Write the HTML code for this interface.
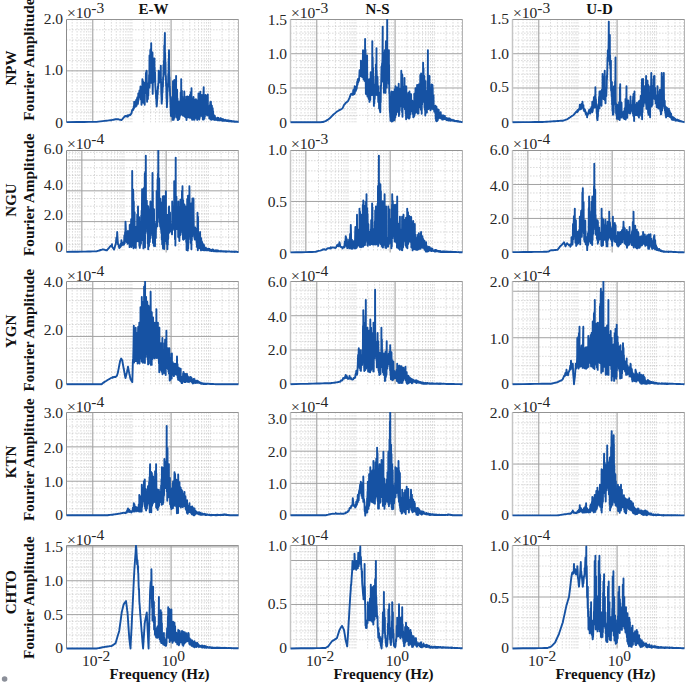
<!DOCTYPE html>
<html><head><meta charset="utf-8"><style>
html,body{margin:0;padding:0;background:#fff;width:685px;height:684px;overflow:hidden}
svg{display:block}
.tk{font-family:"Liberation Serif",serif;font-size:15.5px;fill:#262626}
.bd{font-family:"Liberation Serif",serif;font-size:15px;font-weight:bold;fill:#111}
</style></head><body>
<svg width="685" height="684" viewBox="0 0 685 684">
<rect width="685" height="684" fill="#fff"/>
<path d="M72.20 19.5V122.2M77.10 19.5V122.2M80.90 19.5V122.2M84.00 19.5V122.2M86.63 19.5V122.2M88.90 19.5V122.2M90.91 19.5V122.2M104.50 19.5V122.2M111.40 19.5V122.2M116.30 19.5V122.2M120.10 19.5V122.2M123.20 19.5V122.2M125.83 19.5V122.2M128.10 19.5V122.2M130.11 19.5V122.2M131.90 19.5V122.2M143.70 19.5V122.2M150.60 19.5V122.2M155.50 19.5V122.2M159.30 19.5V122.2M162.40 19.5V122.2M165.03 19.5V122.2M167.30 19.5V122.2M169.31 19.5V122.2M182.90 19.5V122.2M189.80 19.5V122.2M194.70 19.5V122.2M198.50 19.5V122.2M201.60 19.5V122.2M204.23 19.5V122.2M206.50 19.5V122.2M208.51 19.5V122.2M210.30 19.5V122.2M222.10 19.5V122.2M229.00 19.5V122.2M233.90 19.5V122.2M237.70 19.5V122.2M66.5 111.93H238.5M66.5 101.66H238.5M66.5 91.39H238.5M66.5 81.12H238.5M66.5 60.58H238.5M66.5 50.31H238.5M66.5 40.04H238.5M66.5 29.77H238.5" stroke="#9a9a9a" stroke-width="0.7" stroke-dasharray="0.8 2.2" fill="none"/>
<path d="M92.70 19.5V122.2M171.10 19.5V122.2" stroke="#b6b6b6" stroke-width="1.4" fill="none"/>
<path d="M66.5 70.85H238.5" stroke="#a2a2a2" stroke-width="1" fill="none"/>
<path d="M238.5 122.2V19.5" stroke="#b4b4b4" stroke-width="1" fill="none"/>
<path d="M66.5 122.2V19.5" stroke="#8a8a8a" stroke-width="1" fill="none"/>
<path d="M66.5 19.5H238.5" stroke="#939393" stroke-width="1" fill="none"/>
<path d="M296.20 19.5V122.2M301.10 19.5V122.2M304.90 19.5V122.2M308.00 19.5V122.2M310.63 19.5V122.2M312.90 19.5V122.2M314.91 19.5V122.2M328.50 19.5V122.2M335.40 19.5V122.2M340.30 19.5V122.2M344.10 19.5V122.2M347.20 19.5V122.2M349.83 19.5V122.2M352.10 19.5V122.2M354.11 19.5V122.2M355.90 19.5V122.2M367.70 19.5V122.2M374.60 19.5V122.2M379.50 19.5V122.2M383.30 19.5V122.2M386.40 19.5V122.2M389.03 19.5V122.2M391.30 19.5V122.2M393.31 19.5V122.2M406.90 19.5V122.2M413.80 19.5V122.2M418.70 19.5V122.2M422.50 19.5V122.2M425.60 19.5V122.2M428.23 19.5V122.2M430.50 19.5V122.2M432.51 19.5V122.2M434.30 19.5V122.2M446.10 19.5V122.2M453.00 19.5V122.2M457.90 19.5V122.2M461.70 19.5V122.2M290.5 115.35H462.5M290.5 108.51H462.5M290.5 101.66H462.5M290.5 94.81H462.5M290.5 81.12H462.5M290.5 74.27H462.5M290.5 67.43H462.5M290.5 60.58H462.5M290.5 46.89H462.5M290.5 40.04H462.5M290.5 33.19H462.5M290.5 26.35H462.5" stroke="#9a9a9a" stroke-width="0.7" stroke-dasharray="0.8 2.2" fill="none"/>
<path d="M316.70 19.5V122.2M395.10 19.5V122.2" stroke="#b6b6b6" stroke-width="1.4" fill="none"/>
<path d="M290.5 87.97H462.5M290.5 53.73H462.5" stroke="#a2a2a2" stroke-width="1" fill="none"/>
<path d="M462.5 122.2V19.5" stroke="#b4b4b4" stroke-width="1" fill="none"/>
<path d="M290.5 122.2V19.5" stroke="#c4c4c4" stroke-width="1.5" fill="none"/>
<path d="M290.5 19.5H462.5" stroke="#939393" stroke-width="1" fill="none"/>
<path d="M518.20 19.5V122.2M523.10 19.5V122.2M526.90 19.5V122.2M530.00 19.5V122.2M532.63 19.5V122.2M534.90 19.5V122.2M536.91 19.5V122.2M550.50 19.5V122.2M557.40 19.5V122.2M562.30 19.5V122.2M566.10 19.5V122.2M569.20 19.5V122.2M571.83 19.5V122.2M574.10 19.5V122.2M576.11 19.5V122.2M577.90 19.5V122.2M589.70 19.5V122.2M596.60 19.5V122.2M601.50 19.5V122.2M605.30 19.5V122.2M608.40 19.5V122.2M611.03 19.5V122.2M613.30 19.5V122.2M615.31 19.5V122.2M628.90 19.5V122.2M635.80 19.5V122.2M640.70 19.5V122.2M644.50 19.5V122.2M647.60 19.5V122.2M650.23 19.5V122.2M652.50 19.5V122.2M654.51 19.5V122.2M656.30 19.5V122.2M668.10 19.5V122.2M675.00 19.5V122.2M679.90 19.5V122.2M683.70 19.5V122.2M512.5 115.35H684.5M512.5 108.51H684.5M512.5 101.66H684.5M512.5 94.81H684.5M512.5 81.12H684.5M512.5 74.27H684.5M512.5 67.43H684.5M512.5 60.58H684.5M512.5 46.89H684.5M512.5 40.04H684.5M512.5 33.19H684.5M512.5 26.35H684.5" stroke="#9a9a9a" stroke-width="0.7" stroke-dasharray="0.8 2.2" fill="none"/>
<path d="M538.70 19.5V122.2M617.10 19.5V122.2" stroke="#b6b6b6" stroke-width="1.4" fill="none"/>
<path d="M512.5 87.97H684.5M512.5 53.73H684.5" stroke="#a2a2a2" stroke-width="1" fill="none"/>
<path d="M684.5 122.2V19.5" stroke="#b4b4b4" stroke-width="1" fill="none"/>
<path d="M512.5 122.2V19.5" stroke="#c4c4c4" stroke-width="1.5" fill="none"/>
<path d="M512.5 19.5H684.5" stroke="#939393" stroke-width="1" fill="none"/>
<path d="M69.10 150.5V252.4M72.44 150.5V252.4M75.26 150.5V252.4M77.71 150.5V252.4M79.87 150.5V252.4M94.50 150.5V252.4M101.93 150.5V252.4M107.21 150.5V252.4M111.30 150.5V252.4M114.64 150.5V252.4M117.46 150.5V252.4M119.91 150.5V252.4M122.07 150.5V252.4M124.00 150.5V252.4M136.70 150.5V252.4M144.13 150.5V252.4M149.41 150.5V252.4M153.50 150.5V252.4M156.84 150.5V252.4M159.66 150.5V252.4M162.11 150.5V252.4M164.27 150.5V252.4M178.90 150.5V252.4M186.33 150.5V252.4M191.61 150.5V252.4M195.70 150.5V252.4M199.04 150.5V252.4M201.86 150.5V252.4M204.31 150.5V252.4M206.47 150.5V252.4M208.40 150.5V252.4M221.10 150.5V252.4M228.53 150.5V252.4M233.81 150.5V252.4M237.90 150.5V252.4M66.5 244.70H238.5M66.5 237.01H238.5M66.5 229.31H238.5M66.5 213.92H238.5M66.5 206.22H238.5M66.5 198.53H238.5M66.5 183.13H238.5M66.5 175.44H238.5M66.5 167.74H238.5M66.5 152.35H238.5" stroke="#9a9a9a" stroke-width="0.7" stroke-dasharray="0.8 2.2" fill="none"/>
<path d="M81.80 150.5V252.4M166.20 150.5V252.4" stroke="#b6b6b6" stroke-width="1.4" fill="none"/>
<path d="M66.5 221.61H238.5M66.5 190.83H238.5M66.5 160.04H238.5" stroke="#a2a2a2" stroke-width="1" fill="none"/>
<path d="M238.5 252.4V150.5" stroke="#b4b4b4" stroke-width="1" fill="none"/>
<path d="M66.5 252.4V150.5" stroke="#8a8a8a" stroke-width="1" fill="none"/>
<path d="M66.5 150.5H238.5" stroke="#939393" stroke-width="1" fill="none"/>
<path d="M293.10 150.5V252.4M296.44 150.5V252.4M299.26 150.5V252.4M301.71 150.5V252.4M303.87 150.5V252.4M318.50 150.5V252.4M325.93 150.5V252.4M331.21 150.5V252.4M335.30 150.5V252.4M338.64 150.5V252.4M341.46 150.5V252.4M343.91 150.5V252.4M346.07 150.5V252.4M348.00 150.5V252.4M360.70 150.5V252.4M368.13 150.5V252.4M373.41 150.5V252.4M377.50 150.5V252.4M380.84 150.5V252.4M383.66 150.5V252.4M386.11 150.5V252.4M388.27 150.5V252.4M402.90 150.5V252.4M410.33 150.5V252.4M415.61 150.5V252.4M419.70 150.5V252.4M423.04 150.5V252.4M425.86 150.5V252.4M428.31 150.5V252.4M430.47 150.5V252.4M432.40 150.5V252.4M445.10 150.5V252.4M452.53 150.5V252.4M457.81 150.5V252.4M461.90 150.5V252.4M290.5 242.21H462.5M290.5 232.02H462.5M290.5 221.83H462.5M290.5 211.64H462.5M290.5 191.26H462.5M290.5 181.07H462.5M290.5 170.88H462.5M290.5 160.69H462.5" stroke="#9a9a9a" stroke-width="0.7" stroke-dasharray="0.8 2.2" fill="none"/>
<path d="M305.80 150.5V252.4M390.20 150.5V252.4" stroke="#b6b6b6" stroke-width="1.4" fill="none"/>
<path d="M290.5 201.45H462.5" stroke="#a2a2a2" stroke-width="1" fill="none"/>
<path d="M462.5 252.4V150.5" stroke="#b4b4b4" stroke-width="1" fill="none"/>
<path d="M290.5 252.4V150.5" stroke="#c4c4c4" stroke-width="1.5" fill="none"/>
<path d="M290.5 150.5H462.5" stroke="#939393" stroke-width="1" fill="none"/>
<path d="M515.10 150.5V252.4M518.44 150.5V252.4M521.26 150.5V252.4M523.71 150.5V252.4M525.87 150.5V252.4M540.50 150.5V252.4M547.93 150.5V252.4M553.21 150.5V252.4M557.30 150.5V252.4M560.64 150.5V252.4M563.46 150.5V252.4M565.91 150.5V252.4M568.07 150.5V252.4M570.00 150.5V252.4M582.70 150.5V252.4M590.13 150.5V252.4M595.41 150.5V252.4M599.50 150.5V252.4M602.84 150.5V252.4M605.66 150.5V252.4M608.11 150.5V252.4M610.27 150.5V252.4M624.90 150.5V252.4M632.33 150.5V252.4M637.61 150.5V252.4M641.70 150.5V252.4M645.04 150.5V252.4M647.86 150.5V252.4M650.31 150.5V252.4M652.47 150.5V252.4M654.40 150.5V252.4M667.10 150.5V252.4M674.53 150.5V252.4M679.81 150.5V252.4M683.90 150.5V252.4M512.5 243.91H684.5M512.5 235.42H684.5M512.5 226.93H684.5M512.5 209.94H684.5M512.5 201.45H684.5M512.5 192.96H684.5M512.5 175.97H684.5M512.5 167.48H684.5M512.5 158.99H684.5" stroke="#9a9a9a" stroke-width="0.7" stroke-dasharray="0.8 2.2" fill="none"/>
<path d="M527.80 150.5V252.4M612.20 150.5V252.4" stroke="#b6b6b6" stroke-width="1.4" fill="none"/>
<path d="M512.5 218.43H684.5M512.5 184.47H684.5" stroke="#a2a2a2" stroke-width="1" fill="none"/>
<path d="M684.5 252.4V150.5" stroke="#b4b4b4" stroke-width="1" fill="none"/>
<path d="M512.5 252.4V150.5" stroke="#c4c4c4" stroke-width="1.5" fill="none"/>
<path d="M512.5 150.5H684.5" stroke="#939393" stroke-width="1" fill="none"/>
<path d="M72.20 281.5V384.2M77.10 281.5V384.2M80.90 281.5V384.2M84.00 281.5V384.2M86.63 281.5V384.2M88.90 281.5V384.2M90.91 281.5V384.2M104.50 281.5V384.2M111.40 281.5V384.2M116.30 281.5V384.2M120.10 281.5V384.2M123.20 281.5V384.2M125.83 281.5V384.2M128.10 281.5V384.2M130.11 281.5V384.2M131.90 281.5V384.2M143.70 281.5V384.2M150.60 281.5V384.2M155.50 281.5V384.2M159.30 281.5V384.2M162.40 281.5V384.2M165.03 281.5V384.2M167.30 281.5V384.2M169.31 281.5V384.2M182.90 281.5V384.2M189.80 281.5V384.2M194.70 281.5V384.2M198.50 281.5V384.2M201.60 281.5V384.2M204.23 281.5V384.2M206.50 281.5V384.2M208.51 281.5V384.2M210.30 281.5V384.2M222.10 281.5V384.2M229.00 281.5V384.2M233.90 281.5V384.2M237.70 281.5V384.2M66.5 372.26H238.5M66.5 360.32H238.5M66.5 348.37H238.5M66.5 324.49H238.5M66.5 312.55H238.5M66.5 300.61H238.5" stroke="#9a9a9a" stroke-width="0.7" stroke-dasharray="0.8 2.2" fill="none"/>
<path d="M92.70 281.5V384.2M171.10 281.5V384.2" stroke="#b6b6b6" stroke-width="1.4" fill="none"/>
<path d="M66.5 336.43H238.5M66.5 288.67H238.5" stroke="#a2a2a2" stroke-width="1" fill="none"/>
<path d="M238.5 384.2V281.5" stroke="#b4b4b4" stroke-width="1" fill="none"/>
<path d="M66.5 384.2V281.5" stroke="#8a8a8a" stroke-width="1" fill="none"/>
<path d="M66.5 281.5H238.5" stroke="#939393" stroke-width="1" fill="none"/>
<path d="M296.20 281.5V384.2M301.10 281.5V384.2M304.90 281.5V384.2M308.00 281.5V384.2M310.63 281.5V384.2M312.90 281.5V384.2M314.91 281.5V384.2M328.50 281.5V384.2M335.40 281.5V384.2M340.30 281.5V384.2M344.10 281.5V384.2M347.20 281.5V384.2M349.83 281.5V384.2M352.10 281.5V384.2M354.11 281.5V384.2M355.90 281.5V384.2M367.70 281.5V384.2M374.60 281.5V384.2M379.50 281.5V384.2M383.30 281.5V384.2M386.40 281.5V384.2M389.03 281.5V384.2M391.30 281.5V384.2M393.31 281.5V384.2M406.90 281.5V384.2M413.80 281.5V384.2M418.70 281.5V384.2M422.50 281.5V384.2M425.60 281.5V384.2M428.23 281.5V384.2M430.50 281.5V384.2M432.51 281.5V384.2M434.30 281.5V384.2M446.10 281.5V384.2M453.00 281.5V384.2M457.90 281.5V384.2M461.70 281.5V384.2M290.5 375.64H462.5M290.5 367.08H462.5M290.5 358.52H462.5M290.5 341.41H462.5M290.5 332.85H462.5M290.5 324.29H462.5M290.5 307.18H462.5M290.5 298.62H462.5M290.5 290.06H462.5" stroke="#9a9a9a" stroke-width="0.7" stroke-dasharray="0.8 2.2" fill="none"/>
<path d="M316.70 281.5V384.2M395.10 281.5V384.2" stroke="#b6b6b6" stroke-width="1.4" fill="none"/>
<path d="M290.5 349.97H462.5M290.5 315.73H462.5" stroke="#a2a2a2" stroke-width="1" fill="none"/>
<path d="M462.5 384.2V281.5" stroke="#b4b4b4" stroke-width="1" fill="none"/>
<path d="M290.5 384.2V281.5" stroke="#c4c4c4" stroke-width="1.5" fill="none"/>
<path d="M290.5 281.5H462.5" stroke="#939393" stroke-width="1" fill="none"/>
<path d="M518.20 281.5V384.2M523.10 281.5V384.2M526.90 281.5V384.2M530.00 281.5V384.2M532.63 281.5V384.2M534.90 281.5V384.2M536.91 281.5V384.2M550.50 281.5V384.2M557.40 281.5V384.2M562.30 281.5V384.2M566.10 281.5V384.2M569.20 281.5V384.2M571.83 281.5V384.2M574.10 281.5V384.2M576.11 281.5V384.2M577.90 281.5V384.2M589.70 281.5V384.2M596.60 281.5V384.2M601.50 281.5V384.2M605.30 281.5V384.2M608.40 281.5V384.2M611.03 281.5V384.2M613.30 281.5V384.2M615.31 281.5V384.2M628.90 281.5V384.2M635.80 281.5V384.2M640.70 281.5V384.2M644.50 281.5V384.2M647.60 281.5V384.2M650.23 281.5V384.2M652.50 281.5V384.2M654.51 281.5V384.2M656.30 281.5V384.2M668.10 281.5V384.2M675.00 281.5V384.2M679.90 281.5V384.2M683.70 281.5V384.2M512.5 374.91H684.5M512.5 365.61H684.5M512.5 356.32H684.5M512.5 347.02H684.5M512.5 328.44H684.5M512.5 319.14H684.5M512.5 309.85H684.5M512.5 300.55H684.5M512.5 281.96H684.5" stroke="#9a9a9a" stroke-width="0.7" stroke-dasharray="0.8 2.2" fill="none"/>
<path d="M538.70 281.5V384.2M617.10 281.5V384.2" stroke="#b6b6b6" stroke-width="1.4" fill="none"/>
<path d="M512.5 337.73H684.5M512.5 291.26H684.5" stroke="#a2a2a2" stroke-width="1" fill="none"/>
<path d="M684.5 384.2V281.5" stroke="#b4b4b4" stroke-width="1" fill="none"/>
<path d="M512.5 384.2V281.5" stroke="#c4c4c4" stroke-width="1.5" fill="none"/>
<path d="M512.5 281.5H684.5" stroke="#939393" stroke-width="1" fill="none"/>
<path d="M72.20 412.5V515.6M77.10 412.5V515.6M80.90 412.5V515.6M84.00 412.5V515.6M86.63 412.5V515.6M88.90 412.5V515.6M90.91 412.5V515.6M104.50 412.5V515.6M111.40 412.5V515.6M116.30 412.5V515.6M120.10 412.5V515.6M123.20 412.5V515.6M125.83 412.5V515.6M128.10 412.5V515.6M130.11 412.5V515.6M131.90 412.5V515.6M143.70 412.5V515.6M150.60 412.5V515.6M155.50 412.5V515.6M159.30 412.5V515.6M162.40 412.5V515.6M165.03 412.5V515.6M167.30 412.5V515.6M169.31 412.5V515.6M182.90 412.5V515.6M189.80 412.5V515.6M194.70 412.5V515.6M198.50 412.5V515.6M201.60 412.5V515.6M204.23 412.5V515.6M206.50 412.5V515.6M208.51 412.5V515.6M210.30 412.5V515.6M222.10 412.5V515.6M229.00 412.5V515.6M233.90 412.5V515.6M237.70 412.5V515.6M66.5 508.73H238.5M66.5 501.85H238.5M66.5 494.98H238.5M66.5 488.11H238.5M66.5 474.36H238.5M66.5 467.49H238.5M66.5 460.61H238.5M66.5 453.74H238.5M66.5 439.99H238.5M66.5 433.12H238.5M66.5 426.25H238.5M66.5 419.37H238.5" stroke="#9a9a9a" stroke-width="0.7" stroke-dasharray="0.8 2.2" fill="none"/>
<path d="M92.70 412.5V515.6M171.10 412.5V515.6" stroke="#b6b6b6" stroke-width="1.4" fill="none"/>
<path d="M66.5 481.23H238.5M66.5 446.87H238.5" stroke="#a2a2a2" stroke-width="1" fill="none"/>
<path d="M238.5 515.6V412.5" stroke="#b4b4b4" stroke-width="1" fill="none"/>
<path d="M66.5 515.6V412.5" stroke="#8a8a8a" stroke-width="1" fill="none"/>
<path d="M66.5 412.5H238.5" stroke="#939393" stroke-width="1" fill="none"/>
<path d="M296.20 412.5V515.6M301.10 412.5V515.6M304.90 412.5V515.6M308.00 412.5V515.6M310.63 412.5V515.6M312.90 412.5V515.6M314.91 412.5V515.6M328.50 412.5V515.6M335.40 412.5V515.6M340.30 412.5V515.6M344.10 412.5V515.6M347.20 412.5V515.6M349.83 412.5V515.6M352.10 412.5V515.6M354.11 412.5V515.6M355.90 412.5V515.6M367.70 412.5V515.6M374.60 412.5V515.6M379.50 412.5V515.6M383.30 412.5V515.6M386.40 412.5V515.6M389.03 412.5V515.6M391.30 412.5V515.6M393.31 412.5V515.6M406.90 412.5V515.6M413.80 412.5V515.6M418.70 412.5V515.6M422.50 412.5V515.6M425.60 412.5V515.6M428.23 412.5V515.6M430.50 412.5V515.6M432.51 412.5V515.6M434.30 412.5V515.6M446.10 412.5V515.6M453.00 412.5V515.6M457.90 412.5V515.6M461.70 412.5V515.6M290.5 509.16H462.5M290.5 502.71H462.5M290.5 496.27H462.5M290.5 489.83H462.5M290.5 476.94H462.5M290.5 470.49H462.5M290.5 464.05H462.5M290.5 457.61H462.5M290.5 444.72H462.5M290.5 438.27H462.5M290.5 431.83H462.5M290.5 425.39H462.5" stroke="#9a9a9a" stroke-width="0.7" stroke-dasharray="0.8 2.2" fill="none"/>
<path d="M316.70 412.5V515.6M395.10 412.5V515.6" stroke="#b6b6b6" stroke-width="1.4" fill="none"/>
<path d="M290.5 483.38H462.5M290.5 451.16H462.5M290.5 418.94H462.5" stroke="#a2a2a2" stroke-width="1" fill="none"/>
<path d="M462.5 515.6V412.5" stroke="#b4b4b4" stroke-width="1" fill="none"/>
<path d="M290.5 515.6V412.5" stroke="#c4c4c4" stroke-width="1.5" fill="none"/>
<path d="M290.5 412.5H462.5" stroke="#939393" stroke-width="1" fill="none"/>
<path d="M518.20 412.5V515.6M523.10 412.5V515.6M526.90 412.5V515.6M530.00 412.5V515.6M532.63 412.5V515.6M534.90 412.5V515.6M536.91 412.5V515.6M550.50 412.5V515.6M557.40 412.5V515.6M562.30 412.5V515.6M566.10 412.5V515.6M569.20 412.5V515.6M571.83 412.5V515.6M574.10 412.5V515.6M576.11 412.5V515.6M577.90 412.5V515.6M589.70 412.5V515.6M596.60 412.5V515.6M601.50 412.5V515.6M605.30 412.5V515.6M608.40 412.5V515.6M611.03 412.5V515.6M613.30 412.5V515.6M615.31 412.5V515.6M628.90 412.5V515.6M635.80 412.5V515.6M640.70 412.5V515.6M644.50 412.5V515.6M647.60 412.5V515.6M650.23 412.5V515.6M652.50 412.5V515.6M654.51 412.5V515.6M656.30 412.5V515.6M668.10 412.5V515.6M675.00 412.5V515.6M679.90 412.5V515.6M683.70 412.5V515.6M512.5 505.29H684.5M512.5 494.98H684.5M512.5 484.67H684.5M512.5 474.36H684.5M512.5 453.74H684.5M512.5 443.43H684.5M512.5 433.12H684.5M512.5 422.81H684.5" stroke="#9a9a9a" stroke-width="0.7" stroke-dasharray="0.8 2.2" fill="none"/>
<path d="M538.70 412.5V515.6M617.10 412.5V515.6" stroke="#b6b6b6" stroke-width="1.4" fill="none"/>
<path d="M512.5 464.05H684.5" stroke="#a2a2a2" stroke-width="1" fill="none"/>
<path d="M684.5 515.6V412.5" stroke="#b4b4b4" stroke-width="1" fill="none"/>
<path d="M512.5 515.6V412.5" stroke="#c4c4c4" stroke-width="1.5" fill="none"/>
<path d="M512.5 412.5H684.5" stroke="#939393" stroke-width="1" fill="none"/>
<path d="M72.20 545.5V648.5M77.10 545.5V648.5M80.90 545.5V648.5M84.00 545.5V648.5M86.63 545.5V648.5M88.90 545.5V648.5M90.91 545.5V648.5M104.50 545.5V648.5M111.40 545.5V648.5M116.30 545.5V648.5M120.10 545.5V648.5M123.20 545.5V648.5M125.83 545.5V648.5M128.10 545.5V648.5M130.11 545.5V648.5M131.90 545.5V648.5M143.70 545.5V648.5M150.60 545.5V648.5M155.50 545.5V648.5M159.30 545.5V648.5M162.40 545.5V648.5M165.03 545.5V648.5M167.30 545.5V648.5M169.31 545.5V648.5M182.90 545.5V648.5M189.80 545.5V648.5M194.70 545.5V648.5M198.50 545.5V648.5M201.60 545.5V648.5M204.23 545.5V648.5M206.50 545.5V648.5M208.51 545.5V648.5M210.30 545.5V648.5M222.10 545.5V648.5M229.00 545.5V648.5M233.90 545.5V648.5M237.70 545.5V648.5M66.5 641.72H238.5M66.5 634.95H238.5M66.5 628.17H238.5M66.5 621.39H238.5M66.5 607.84H238.5M66.5 601.07H238.5M66.5 594.29H238.5M66.5 587.51H238.5M66.5 573.96H238.5M66.5 567.18H238.5M66.5 560.41H238.5M66.5 553.63H238.5" stroke="#9a9a9a" stroke-width="0.7" stroke-dasharray="0.8 2.2" fill="none"/>
<path d="M92.70 545.5V648.5M171.10 545.5V648.5" stroke="#b6b6b6" stroke-width="1.4" fill="none"/>
<path d="M66.5 614.62H238.5M66.5 580.74H238.5M66.5 546.86H238.5" stroke="#a2a2a2" stroke-width="1" fill="none"/>
<path d="M238.5 648.5V545.5" stroke="#b4b4b4" stroke-width="1" fill="none"/>
<path d="M66.5 648.5V545.5" stroke="#8a8a8a" stroke-width="1" fill="none"/>
<path d="M66.5 545.5H238.5" stroke="#939393" stroke-width="1" fill="none"/>
<path d="M296.20 545.5V648.5M301.10 545.5V648.5M304.90 545.5V648.5M308.00 545.5V648.5M310.63 545.5V648.5M312.90 545.5V648.5M314.91 545.5V648.5M328.50 545.5V648.5M335.40 545.5V648.5M340.30 545.5V648.5M344.10 545.5V648.5M347.20 545.5V648.5M349.83 545.5V648.5M352.10 545.5V648.5M354.11 545.5V648.5M355.90 545.5V648.5M367.70 545.5V648.5M374.60 545.5V648.5M379.50 545.5V648.5M383.30 545.5V648.5M386.40 545.5V648.5M389.03 545.5V648.5M391.30 545.5V648.5M393.31 545.5V648.5M406.90 545.5V648.5M413.80 545.5V648.5M418.70 545.5V648.5M422.50 545.5V648.5M425.60 545.5V648.5M428.23 545.5V648.5M430.50 545.5V648.5M432.51 545.5V648.5M434.30 545.5V648.5M446.10 545.5V648.5M453.00 545.5V648.5M457.90 545.5V648.5M461.70 545.5V648.5M290.5 639.70H462.5M290.5 630.89H462.5M290.5 622.09H462.5M290.5 613.29H462.5M290.5 595.68H462.5M290.5 586.88H462.5M290.5 578.07H462.5M290.5 569.27H462.5M290.5 551.66H462.5" stroke="#9a9a9a" stroke-width="0.7" stroke-dasharray="0.8 2.2" fill="none"/>
<path d="M316.70 545.5V648.5M395.10 545.5V648.5" stroke="#b6b6b6" stroke-width="1.4" fill="none"/>
<path d="M290.5 604.48H462.5M290.5 560.47H462.5" stroke="#a2a2a2" stroke-width="1" fill="none"/>
<path d="M462.5 648.5V545.5" stroke="#b4b4b4" stroke-width="1" fill="none"/>
<path d="M290.5 648.5V545.5" stroke="#c4c4c4" stroke-width="1.5" fill="none"/>
<path d="M290.5 545.5H462.5" stroke="#939393" stroke-width="1" fill="none"/>
<path d="M518.20 545.5V648.5M523.10 545.5V648.5M526.90 545.5V648.5M530.00 545.5V648.5M532.63 545.5V648.5M534.90 545.5V648.5M536.91 545.5V648.5M550.50 545.5V648.5M557.40 545.5V648.5M562.30 545.5V648.5M566.10 545.5V648.5M569.20 545.5V648.5M571.83 545.5V648.5M574.10 545.5V648.5M576.11 545.5V648.5M577.90 545.5V648.5M589.70 545.5V648.5M596.60 545.5V648.5M601.50 545.5V648.5M605.30 545.5V648.5M608.40 545.5V648.5M611.03 545.5V648.5M613.30 545.5V648.5M615.31 545.5V648.5M628.90 545.5V648.5M635.80 545.5V648.5M640.70 545.5V648.5M644.50 545.5V648.5M647.60 545.5V648.5M650.23 545.5V648.5M652.50 545.5V648.5M654.51 545.5V648.5M656.30 545.5V648.5M668.10 545.5V648.5M675.00 545.5V648.5M679.90 545.5V648.5M683.70 545.5V648.5M512.5 638.20H684.5M512.5 627.90H684.5M512.5 617.60H684.5M512.5 607.30H684.5M512.5 586.70H684.5M512.5 576.40H684.5M512.5 566.10H684.5M512.5 555.80H684.5" stroke="#9a9a9a" stroke-width="0.7" stroke-dasharray="0.8 2.2" fill="none"/>
<path d="M538.70 545.5V648.5M617.10 545.5V648.5" stroke="#b6b6b6" stroke-width="1.4" fill="none"/>
<path d="M512.5 597.00H684.5" stroke="#a2a2a2" stroke-width="1" fill="none"/>
<path d="M684.5 648.5V545.5" stroke="#b4b4b4" stroke-width="1" fill="none"/>
<path d="M512.5 648.5V545.5" stroke="#c4c4c4" stroke-width="1.5" fill="none"/>
<path d="M512.5 545.5H684.5" stroke="#939393" stroke-width="1" fill="none"/>
<clipPath id="cp00"><rect x="65.5" y="19.0" width="174.0" height="104.7"/></clipPath>
<path d="M66.5 122.1L66.5 122.1L77.1 122.0L84.0 122.0L88.9 121.9L92.7 121.9L95.8 121.9L96.5 121.9L98.4 121.6L100.5 121.4L100.7 121.4L102.7 121.1L104.5 120.9L106.1 120.7L107.6 120.6L109.0 120.4L110.2 120.3L111.4 120.2L111.5 120.1L112.5 119.9L113.5 119.7L114.5 119.5L115.4 119.3L116.3 119.2L116.5 119.1L117.1 119.2L117.9 119.3L118.5 119.3L118.7 119.4L119.4 119.6L120.1 119.8L120.8 119.9L121.4 120.1L121.5 120.1L122.0 119.5L122.6 118.8L123.2 118.1L123.8 117.5L124.3 116.9L124.8 116.3L125.0 116.0L125.3 116.2L125.8 116.0L126.3 116.5L126.8 116.2L127.2 115.5L127.7 116.7L128.1 115.1L128.5 115.9L128.9 115.4L129.3 115.2L129.7 114.8L130.1 115.1L130.5 114.5L130.8 114.2L131.2 114.0L131.2 114.0L131.6 112.9L131.9 111.3L132.2 109.9L132.6 110.2L132.9 108.9L133.2 109.9L133.5 109.0L133.8 106.2L134.1 108.0L134.2 101.7L134.4 103.7L134.7 102.6L135.0 105.6L135.3 105.6L135.6 106.7L135.8 106.1L136.1 100.0L136.4 105.1L136.6 105.8L136.9 99.7L137.1 98.4L137.4 97.3L137.6 98.2L137.9 103.9L138.1 100.8L138.3 93.4L138.3 100.8L138.6 99.6L138.8 96.4L139.0 96.0L139.3 95.2L139.5 90.4L139.7 92.3L139.9 92.2L140.1 97.3L140.3 89.8L140.5 86.4L140.7 91.7L140.9 99.6L141.1 93.9L141.3 97.8L141.5 104.7L141.7 97.7L141.9 88.2L142.1 95.7L142.3 98.4L142.4 79.1L142.5 94.8L142.7 87.6L142.9 95.5L143.1 81.3L143.3 94.8L143.5 102.9L143.7 91.8L143.9 85.3L144.1 92.1L144.3 82.8L144.5 90.8L144.7 104.7L144.9 93.1L145.1 83.1L145.3 93.2L145.5 82.7L145.7 92.0L145.9 73.0L146.1 90.2L146.3 72.3L146.5 70.8L146.5 90.5L146.7 71.2L146.9 89.7L147.1 101.8L147.3 87.9L147.5 89.8L147.7 87.9L147.9 99.1L148.1 83.2L148.3 95.8L148.5 86.0L148.7 87.2L148.9 87.2L149.1 75.0L149.3 85.8L149.5 55.4L149.5 87.6L149.7 82.7L149.9 82.4L150.1 82.1L150.3 49.9L150.5 81.3L150.7 49.3L150.9 76.2L151.1 66.5L151.2 43.1L151.3 82.7L151.5 77.2L151.7 77.7L151.9 67.1L152.1 81.5L152.3 81.2L152.5 52.4L152.5 78.8L152.7 93.9L152.9 80.2L153.1 58.2L153.3 82.1L153.5 75.3L153.7 80.5L153.9 69.0L154.1 75.2L154.3 64.1L154.5 58.5L154.5 74.8L154.7 67.4L154.9 79.2L155.1 72.5L155.3 85.5L155.5 88.0L155.7 91.6L155.9 93.6L156.1 98.7L156.3 98.4L156.5 104.3L156.7 104.7L156.7 106.5L156.9 104.0L157.1 100.5L157.3 98.7L157.5 90.7L157.7 94.6L157.9 86.4L158.1 88.1L158.3 83.4L158.5 83.0L158.7 70.8L158.7 75.4L158.9 82.6L159.1 79.1L159.3 82.5L159.5 76.5L159.7 81.0L159.9 72.3L160.1 79.4L160.3 71.6L160.5 78.3L160.7 70.9L160.8 65.7L160.9 79.9L161.1 83.0L161.3 93.6L161.5 97.3L161.7 103.6L161.8 101.7L161.9 100.2L162.1 100.1L162.3 89.9L162.5 92.7L162.7 82.9L162.9 87.1L163.1 77.3L163.3 80.1L163.5 65.3L163.7 75.0L163.9 60.9L164.1 67.0L164.3 45.5L164.5 59.9L164.7 40.6L164.9 32.9L164.9 53.4L165.1 52.7L165.3 64.2L165.5 62.2L165.7 76.5L165.9 75.8L166.1 85.7L166.3 86.6L166.5 98.1L166.7 99.7L166.9 104.7L166.9 107.3L167.1 102.8L167.3 98.9L167.5 89.2L167.7 91.1L167.9 83.9L168.1 83.3L168.3 73.8L168.5 74.6L168.7 58.9L168.9 67.9L169.0 50.3L169.1 67.2L169.3 77.1L169.5 77.2L169.7 86.5L169.9 87.8L170.1 95.6L170.3 97.5L170.5 105.2L170.7 110.5L170.9 115.2L171.0 116.0L171.1 115.3L171.3 114.6L171.5 112.7L171.7 114.5L171.9 101.9L172.1 113.2L172.3 96.9L172.5 119.9L172.7 108.0L172.9 113.5L173.0 81.1L173.1 87.1L173.3 119.3L173.5 91.0L173.7 119.8L173.9 98.8L174.1 117.4L174.3 79.9L174.5 117.7L174.7 82.0L174.9 112.7L175.1 105.3L175.3 106.0L175.5 105.8L175.7 113.3L175.9 104.8L176.1 76.0L176.1 110.4L176.3 105.3L176.5 117.0L176.7 91.3L176.9 117.3L177.1 89.8L177.3 118.5L177.5 98.4L177.7 120.1L177.9 106.5L178.1 120.1L178.3 110.9L178.5 101.7L178.5 119.4L178.7 104.6L178.9 118.5L179.1 102.8L179.3 119.1L179.5 103.6L179.7 117.0L179.9 109.8L180.1 111.6L180.3 100.4L180.5 115.1L180.7 92.5L180.9 113.0L181.1 104.1L181.2 79.1L181.3 108.1L181.5 99.3L181.7 114.6L181.9 90.7L182.1 108.4L182.3 96.6L182.5 111.0L182.7 108.5L182.9 115.5L183.1 100.3L183.3 111.9L183.5 105.5L183.7 115.2L183.9 107.1L184.1 116.0L184.3 91.4L184.3 104.1L184.5 113.0L184.7 100.9L184.9 115.2L185.1 105.3L185.3 117.3L185.5 108.3L185.7 117.0L185.9 99.6L186.1 116.2L186.3 96.6L186.5 120.1L186.7 112.5L186.9 116.0L187.1 112.7L187.3 113.7L187.5 96.5L187.5 112.4L187.7 117.2L187.9 110.7L188.1 115.4L188.3 111.4L188.5 117.2L188.7 107.6L188.9 116.7L189.1 96.6L189.3 115.7L189.5 98.2L189.7 114.9L189.9 94.9L190.1 117.9L190.3 111.1L190.5 114.7L190.7 92.2L190.9 117.8L191.1 105.2L191.3 116.5L191.5 88.3L191.5 101.2L191.7 115.0L191.9 110.5L192.1 119.7L192.3 107.5L192.5 119.3L192.7 106.3L192.9 117.6L193.1 99.0L193.3 119.5L193.5 97.0L193.7 115.3L193.9 110.2L194.1 115.0L194.3 101.6L194.5 99.6L194.5 119.7L194.7 108.8L194.9 118.4L195.1 101.0L195.3 115.5L195.5 113.7L195.7 114.1L195.9 99.3L196.1 115.6L196.3 103.3L196.5 118.0L196.7 108.4L196.9 119.1L197.1 100.5L197.3 119.9L197.5 112.5L197.7 117.8L197.9 111.1L198.1 118.2L198.3 104.4L198.5 93.4L198.5 114.7L198.7 96.5L198.9 118.1L199.1 98.0L199.3 119.5L199.5 107.0L199.7 117.9L199.9 103.3L200.1 112.2L200.3 91.7L200.5 111.8L200.7 101.5L200.9 115.7L201.1 102.0L201.3 112.6L201.5 101.7L201.7 114.7L201.9 94.9L202.1 115.4L202.3 106.9L202.5 117.1L202.7 101.9L202.9 119.5L203.1 101.2L203.3 117.1L203.5 92.7L203.7 87.3L203.7 119.5L203.9 97.7L204.1 113.3L204.3 108.1L204.5 118.6L204.7 102.5L204.9 116.5L205.1 106.9L205.3 113.9L205.5 94.9L205.7 111.7L205.9 97.1L206.1 113.0L206.3 95.8L206.5 111.3L206.7 99.1L206.9 114.9L207.1 107.7L207.3 115.6L207.5 105.1L207.7 113.3L207.8 94.5L207.9 112.5L208.1 113.6L208.3 107.2L208.5 115.2L208.7 107.8L208.9 114.7L209.1 106.0L209.3 118.2L209.5 110.6L209.7 116.7L209.9 105.1L210.1 116.6L210.3 101.9L210.5 119.4L210.7 108.9L210.9 101.7L210.9 119.1L211.1 110.2L211.3 119.8L211.5 115.0L211.7 119.6L211.9 105.8L212.1 119.1L212.3 112.0L212.5 118.1L212.7 108.3L212.9 118.3L213.1 111.2L213.3 119.6L213.5 115.7L213.7 119.1L213.9 118.3L214.1 119.3L214.3 115.4L214.5 119.8L214.7 118.6L214.9 116.0L214.9 120.0L215.1 119.0L215.3 119.2L215.5 119.1L215.7 119.8L215.9 118.3L216.1 119.7L216.3 119.5L216.5 119.4L216.7 118.6L216.9 119.6L217.1 119.3L217.3 120.2L217.5 117.6L217.7 119.6L217.9 118.6L218.1 120.3L218.3 118.0L218.5 120.1L218.7 119.5L218.9 120.3L219.1 119.9L219.3 120.4L219.5 119.3L219.7 120.1L219.9 119.2L220.1 120.3L220.3 118.3L220.5 120.4L220.7 118.7L220.9 120.4L221.1 118.4L221.3 120.3L221.5 118.6L221.7 120.3L221.9 120.3L222.1 120.7L222.3 120.2L222.5 120.7L222.7 119.3L222.9 120.6L223.1 119.1L223.1 119.3L223.3 120.8L223.5 119.8L223.7 120.5L223.9 120.2L224.1 120.8L224.3 120.2L224.5 120.6L224.7 120.6L224.9 120.8L225.1 119.6L225.3 120.7L225.5 119.9L225.7 120.9L225.9 120.8L226.1 120.7L226.3 120.6L226.5 120.9L226.7 120.5L226.9 120.9L227.1 120.8L227.3 120.9L227.5 120.3L227.7 121.1L227.9 120.4L228.1 121.0L228.3 120.5L228.5 121.2L228.7 120.6L228.9 121.1L229.1 120.8L229.3 121.3L229.5 120.9L229.7 121.3L229.9 120.7L230.1 121.4L230.3 121.3L230.5 121.3L230.7 121.0L230.9 121.3L231.1 121.3L231.3 121.5L231.5 121.0L231.5 121.4L231.7 121.5L231.9 121.0L232.1 121.4L232.3 121.3L232.5 121.5L232.7 121.4L232.9 121.6L233.1 121.5L233.3 121.5L233.5 121.2L233.7 121.5L233.9 121.3L234.1 121.7L234.3 121.4L234.5 121.6L234.7 121.4L234.9 121.7L235.1 121.5L235.3 121.7L235.5 121.6L235.7 121.7L235.9 121.6L236.1 121.7L236.3 121.7L236.5 121.8L236.7 121.6L236.9 121.8L237.1 121.7L237.3 121.8L237.5 121.8L237.7 121.9L237.9 121.7L238.1 121.9L238.3 121.7L238.5 121.7" stroke="#1652a3" stroke-width="1.9" fill="none" stroke-linejoin="round" clip-path="url(#cp00)"/>
<clipPath id="cp01"><rect x="289.5" y="19.0" width="174.0" height="104.7"/></clipPath>
<path d="M290.5 122.2L290.5 122.2L301.1 122.2L308.0 122.2L312.9 122.2L316.7 122.2L319.8 122.2L320.5 122.2L322.4 122.0L323.0 122.0L324.7 121.4L325.5 121.2L326.7 120.4L328.0 119.6L328.5 119.2L330.1 117.9L330.5 117.6L331.6 116.4L333.0 115.0L333.5 114.5L334.2 113.9L335.4 112.9L336.5 111.9L336.5 111.9L337.5 111.3L338.5 110.7L339.4 110.2L340.3 109.7L340.5 109.6L341.1 109.2L341.9 108.7L342.5 108.3L342.7 107.9L343.4 106.4L344.0 105.0L344.1 104.9L344.8 104.1L345.4 103.2L345.5 103.1L346.0 102.7L346.6 102.2L347.2 101.7L347.8 101.2L348.0 101.0L348.3 100.4L348.8 99.4L349.3 98.4L349.5 98.1L349.8 97.1L350.3 95.6L350.5 95.0L350.8 94.4L351.2 93.7L351.7 93.9L352.1 94.6L352.5 94.1L352.9 94.9L353.3 90.0L353.7 93.3L354.1 89.1L354.5 94.1L354.7 86.3L354.8 93.3L355.2 86.6L355.6 89.3L355.9 90.8L356.2 87.5L356.6 89.0L356.9 86.2L357.2 81.8L357.5 84.7L357.8 79.1L357.8 81.8L358.1 82.7L358.4 81.8L358.7 78.6L359.0 80.7L359.3 76.6L359.6 70.3L359.8 71.2L360.1 75.0L360.4 75.9L360.6 76.0L360.9 72.2L360.9 60.6L361.1 75.2L361.4 71.9L361.6 75.5L361.9 63.6L362.1 77.1L362.3 65.0L362.6 71.9L362.8 62.9L363.0 50.3L363.0 51.3L363.3 70.5L363.5 79.3L363.7 70.0L363.9 50.9L364.1 68.9L364.3 62.7L364.5 80.8L364.7 80.1L364.9 81.2L365.1 39.0L365.1 57.9L365.3 80.1L365.5 49.7L365.7 78.0L365.9 93.9L366.1 74.4L366.3 72.6L366.5 83.7L366.7 94.4L366.9 78.6L367.1 55.4L367.1 62.2L367.3 80.5L367.5 96.5L367.7 84.2L367.9 82.7L368.1 81.8L368.3 83.1L368.5 84.9L368.7 98.9L368.9 85.6L369.1 98.1L369.2 79.1L369.3 86.8L369.5 101.9L369.7 87.5L369.9 91.1L370.1 84.2L370.3 99.9L370.5 82.0L370.7 72.3L370.9 83.9L371.1 89.0L371.3 83.0L371.5 73.4L371.7 86.0L371.9 95.1L372.1 89.7L372.3 41.1L372.3 64.1L372.5 90.2L372.7 57.2L372.9 90.6L373.1 67.9L373.3 88.1L373.5 84.1L373.7 89.4L373.9 105.9L374.1 90.6L374.3 103.6L374.4 86.3L374.5 90.8L374.7 98.9L374.9 92.9L375.1 90.3L375.3 90.1L375.5 76.1L375.7 86.5L375.9 64.5L376.1 91.2L376.3 94.9L376.5 48.3L376.5 92.8L376.7 70.2L376.9 91.2L377.1 93.1L377.3 95.1L377.5 76.7L377.7 93.4L377.9 90.6L378.1 93.9L378.3 101.9L378.5 86.3L378.5 96.1L378.7 92.3L378.9 94.5L379.1 108.5L379.3 93.4L379.5 92.9L379.7 93.3L379.9 111.1L380.1 94.2L380.3 112.2L380.5 96.2L380.6 96.5L380.7 102.2L380.9 85.5L381.1 86.3L381.3 77.1L381.5 66.5L381.7 70.3L381.9 67.3L382.1 63.3L382.3 65.9L382.5 56.7L382.7 26.7L382.7 67.4L382.9 58.2L383.1 81.8L383.3 56.2L383.5 52.5L383.7 59.1L383.9 92.7L384.1 58.5L384.3 78.6L384.5 57.3L384.7 81.6L384.8 50.3L384.9 59.5L385.1 88.3L385.3 57.1L385.5 92.9L385.7 56.2L385.9 41.1L386.1 58.5L386.3 75.5L386.5 59.5L386.7 87.5L386.9 54.5L387.1 78.8L387.2 19.5L387.3 55.0L387.5 79.6L387.7 59.5L387.9 71.0L388.1 57.3L388.3 53.1L388.5 60.4L388.7 83.8L388.9 50.3L388.9 72.2L389.1 65.0L389.3 93.4L389.5 92.6L389.7 107.6L389.9 111.5L390.1 112.8L390.3 117.5L390.5 117.1L390.5 120.8L390.7 117.6L390.9 120.5L391.1 108.1L391.3 117.1L391.5 91.4L391.5 91.9L391.7 121.5L391.9 107.7L392.1 121.4L392.3 100.4L392.5 121.2L392.7 108.7L392.9 116.7L393.1 91.6L393.3 120.6L393.5 102.6L393.7 118.5L393.9 99.3L394.1 117.9L394.3 107.5L394.5 120.0L394.7 89.3L394.9 117.4L395.1 108.7L395.3 117.6L395.5 86.3L395.5 104.3L395.7 112.2L395.9 106.1L396.1 114.7L396.3 95.8L396.5 110.7L396.7 91.5L396.9 106.9L397.1 87.4L397.3 108.4L397.5 89.8L397.7 106.0L397.9 91.0L398.1 112.2L398.3 95.6L398.5 110.8L398.7 83.7L398.9 116.1L399.1 103.9L399.3 114.5L399.5 88.7L399.7 110.6L399.9 95.6L400.1 107.0L400.3 103.4L400.5 100.3L400.7 94.9L400.9 100.1L401.1 102.6L401.3 70.8L401.3 99.9L401.5 84.4L401.7 106.1L401.9 84.1L402.1 112.3L402.3 74.4L402.5 116.7L402.7 97.7L402.9 107.7L403.1 87.8L403.3 106.6L403.5 86.7L403.7 106.3L403.9 103.0L404.1 97.9L404.3 93.2L404.5 78.0L404.5 106.6L404.7 100.6L404.9 109.2L405.1 89.3L405.3 108.7L405.5 86.4L405.7 113.8L405.9 107.9L406.1 119.2L406.3 86.4L406.5 117.5L406.7 95.1L406.9 118.1L407.1 98.6L407.3 112.5L407.5 108.8L407.7 116.7L407.9 107.4L408.1 116.7L408.3 92.9L408.5 115.2L408.7 99.0L408.9 118.6L409.1 95.8L409.3 118.5L409.5 91.4L409.5 96.5L409.7 117.4L409.9 95.0L410.1 112.4L410.3 94.0L410.5 114.3L410.7 96.4L410.9 111.7L411.1 94.3L411.3 107.6L411.5 107.0L411.7 108.0L411.9 107.9L412.1 107.8L412.3 100.6L412.5 111.6L412.7 108.0L412.9 113.9L413.1 102.1L413.3 117.2L413.5 110.0L413.7 113.5L413.9 106.0L414.1 116.5L414.3 93.7L414.5 115.5L414.7 98.8L414.9 113.7L415.1 95.6L415.3 108.0L415.5 88.3L415.5 88.9L415.7 108.4L415.9 96.6L416.1 109.2L416.3 96.0L416.5 112.2L416.7 96.0L416.9 112.3L417.1 85.0L417.3 106.0L417.5 105.8L417.7 113.5L417.9 91.4L418.1 110.5L418.3 90.8L418.5 113.6L418.7 84.5L418.9 107.8L419.1 85.4L419.3 105.1L419.5 100.2L419.7 104.7L419.9 83.9L420.1 96.6L420.3 74.9L420.5 106.8L420.7 96.5L420.9 109.7L421.1 73.5L421.3 105.9L421.5 75.4L421.7 113.8L421.9 78.6L422.1 104.8L422.3 81.7L422.5 100.5L422.7 97.6L422.9 100.7L423.1 62.6L423.1 73.6L423.3 95.8L423.5 68.1L423.7 101.8L423.9 75.6L424.1 99.1L424.3 75.9L424.5 107.5L424.7 96.0L424.9 110.1L425.1 82.6L425.3 115.6L425.5 81.1L425.5 97.7L425.7 112.9L425.9 90.6L426.1 105.3L426.3 99.3L426.5 109.4L426.7 96.6L426.9 112.5L427.1 96.1L427.3 109.2L427.5 96.1L427.7 98.5L427.9 50.3L427.9 77.3L428.1 104.2L428.3 84.5L428.5 109.0L428.7 78.9L428.9 108.3L429.1 90.7L429.3 105.2L429.5 76.0L429.5 102.4L429.7 106.4L429.9 106.0L430.1 108.1L430.3 101.4L430.5 110.4L430.7 102.2L430.9 103.0L431.1 87.5L431.3 108.9L431.5 84.5L431.7 108.3L431.9 103.4L432.1 108.7L432.3 85.0L432.5 85.2L432.5 108.1L432.7 87.9L432.9 107.0L433.1 108.3L433.3 109.2L433.5 95.2L433.7 108.4L433.9 106.2L434.1 107.7L434.3 111.6L434.5 108.2L434.7 107.9L434.9 111.3L435.1 105.9L435.3 113.1L435.5 105.6L435.7 118.4L435.9 112.4L436.1 120.7L436.3 107.3L436.5 106.8L436.5 121.2L436.7 114.6L436.9 120.0L437.1 111.2L437.3 120.9L437.5 109.4L437.7 120.2L437.9 110.3L438.1 117.7L438.3 115.5L438.5 118.5L438.7 109.8L438.9 117.8L439.1 112.6L439.3 117.1L439.5 117.8L439.7 117.8L439.9 113.6L440.1 116.6L440.3 113.0L440.5 118.2L440.7 112.1L440.9 117.2L441.1 117.5L441.3 118.1L441.5 115.1L441.7 117.9L441.9 115.6L442.1 119.5L442.3 117.2L442.5 118.9L442.7 115.4L442.9 119.5L443.1 116.5L443.3 119.4L443.5 115.4L443.7 118.8L443.9 117.5L444.1 118.5L444.3 118.9L444.5 118.8L444.7 117.6L444.9 116.0L444.9 118.4L445.1 118.6L445.3 119.0L445.5 118.0L445.7 119.0L445.9 118.3L446.1 119.6L446.3 118.4L446.5 120.1L446.7 117.9L446.9 119.8L447.1 118.7L447.3 119.7L447.5 119.3L447.7 120.1L447.9 118.6L448.1 120.5L448.3 119.7L448.5 120.1L448.7 118.4L448.9 120.4L449.1 118.5L449.3 120.5L449.5 119.2L449.7 120.4L449.9 118.8L450.1 120.6L450.3 119.3L450.5 120.8L450.7 119.9L450.9 120.6L451.1 119.6L451.3 120.4L451.5 120.1L451.7 120.4L451.9 119.7L452.1 120.3L452.3 120.4L452.5 120.5L452.7 120.4L452.9 120.7L453.1 120.3L453.2 120.1L453.3 120.8L453.5 120.3L453.7 120.7L453.9 120.6L454.1 120.9L454.3 120.4L454.5 121.1L454.7 120.9L454.9 121.2L455.1 121.0L455.3 121.2L455.5 121.0L455.7 121.1L455.9 121.1L456.1 121.2L456.3 120.9L456.5 121.3L456.7 121.3L456.9 121.2L457.1 121.0L457.3 121.4L457.5 121.2L457.7 121.4L457.9 121.2L458.1 121.5L458.3 121.3L458.5 121.6L458.7 121.4L458.9 121.7L459.1 121.5L459.3 121.7L459.5 121.6L459.7 121.8L459.9 121.8L460.1 121.8L460.3 121.8L460.5 121.9L460.7 121.8L460.9 121.9L461.1 122.0L461.3 122.0L461.5 122.0L461.7 122.1L461.9 122.1L462.1 122.1L462.3 122.2L462.5 122.2" stroke="#1652a3" stroke-width="1.9" fill="none" stroke-linejoin="round" clip-path="url(#cp01)"/>
<clipPath id="cp02"><rect x="511.5" y="19.0" width="174.0" height="104.7"/></clipPath>
<path d="M512.5 122.2L512.5 122.2L523.1 122.1L530.0 122.1L534.9 122.0L538.7 122.0L541.8 122.0L542.5 122.0L544.4 121.9L546.7 121.7L548.7 121.6L550.5 121.5L552.1 121.4L553.6 121.3L555.0 121.2L556.2 121.1L557.4 121.0L558.5 121.0L559.5 120.9L560.5 120.8L561.4 120.8L562.3 120.7L563.1 120.7L563.2 120.7L563.9 120.4L564.7 120.1L565.4 119.9L566.1 119.6L566.8 119.4L567.4 119.1L567.4 119.1L568.0 118.7L568.6 118.3L569.2 117.9L569.8 117.5L570.3 117.2L570.8 116.8L571.3 116.5L571.8 116.1L572.3 115.8L572.8 115.5L573.2 115.2L573.5 115.0L573.7 114.8L574.1 114.3L574.5 113.8L574.9 113.3L575.3 112.8L575.7 112.3L576.1 111.8L576.5 111.4L576.8 111.0L577.2 112.2L577.6 111.8L577.7 109.9L577.9 111.3L578.2 110.9L578.6 109.2L578.9 109.7L579.2 109.8L579.5 109.4L579.8 104.7L579.8 108.0L580.1 108.3L580.4 109.3L580.7 108.7L581.0 109.1L581.3 104.3L581.6 107.6L581.8 103.8L582.1 104.5L582.4 107.8L582.5 101.7L582.6 104.9L582.9 107.0L583.1 106.7L583.4 105.1L583.6 109.8L583.9 108.5L584.1 110.8L584.3 111.2L584.6 111.4L584.8 109.5L585.0 109.9L585.0 110.1L585.3 111.9L585.5 111.3L585.7 113.8L585.9 113.6L586.1 112.7L586.3 114.8L586.5 114.5L586.7 115.2L586.9 115.6L587.1 115.0L587.1 117.3L587.3 115.5L587.5 115.4L587.7 114.9L587.9 113.1L588.1 114.2L588.3 113.0L588.5 113.5L588.7 111.1L588.9 113.2L589.1 109.9L589.1 110.4L589.3 112.1L589.5 109.6L589.7 111.8L589.9 113.0L590.1 111.5L590.3 113.6L590.5 111.4L590.7 108.5L590.9 111.0L591.1 110.1L591.3 110.6L591.5 106.9L591.7 109.2L591.9 111.2L592.1 109.9L592.3 101.7L592.3 112.2L592.5 108.9L592.7 111.3L592.9 108.7L593.1 107.7L593.3 105.7L593.5 101.3L593.7 105.0L593.9 97.1L594.1 106.6L594.3 101.9L594.5 103.1L594.7 107.6L594.9 102.6L595.1 95.2L595.3 101.8L595.4 87.3L595.5 95.8L595.7 104.0L595.9 99.1L596.1 104.7L596.3 103.6L596.5 105.9L596.7 113.3L596.9 112.5L597.1 118.8L597.3 119.0L597.4 120.1L597.5 120.1L597.7 115.6L597.9 116.8L598.1 110.1L598.3 111.4L598.5 104.6L598.7 106.3L598.9 101.2L599.1 96.8L599.3 100.9L599.5 91.4L599.5 108.4L599.7 98.2L599.9 100.2L600.1 98.4L600.3 96.2L600.5 98.4L600.7 91.2L600.9 98.2L601.1 97.7L601.3 94.0L601.5 105.8L601.7 97.3L601.9 89.8L602.1 92.7L602.3 97.6L602.5 94.0L602.6 73.9L602.7 86.5L602.9 92.5L603.1 81.1L603.3 90.3L603.5 99.1L603.7 94.9L603.9 76.8L604.1 91.6L604.3 90.4L604.5 92.7L604.7 70.8L604.7 99.9L604.9 93.4L605.1 95.8L605.3 92.1L605.5 103.3L605.7 88.0L605.9 93.8L606.1 87.9L606.3 96.0L606.5 88.6L606.7 88.0L606.8 76.0L606.9 80.0L607.1 75.4L607.3 69.0L607.5 57.5L607.7 61.4L607.8 50.3L607.9 61.2L608.1 55.2L608.3 49.9L608.5 49.4L608.7 36.9L608.8 21.6L608.9 46.2L609.1 41.0L609.3 44.6L609.5 47.7L609.7 51.3L609.8 34.9L609.9 65.0L610.1 55.4L610.3 68.7L610.5 61.2L610.7 81.0L610.9 60.6L610.9 74.5L611.1 90.4L611.3 86.6L611.5 88.8L611.7 96.6L611.9 82.0L612.1 104.4L612.3 88.5L612.5 111.1L612.7 98.8L612.9 114.8L613.0 96.5L613.1 111.3L613.3 114.5L613.5 97.7L613.7 112.6L613.9 86.5L614.1 104.2L614.3 103.0L614.5 98.5L614.7 92.9L614.9 96.7L615.1 81.2L615.3 97.4L615.5 57.5L615.5 75.2L615.7 105.1L615.9 103.0L616.1 113.4L616.3 105.4L616.5 114.9L616.7 111.2L616.9 118.8L617.1 104.6L617.3 118.9L617.5 111.9L617.5 113.2L617.7 118.4L617.9 112.1L618.1 118.0L618.3 104.9L618.5 118.2L618.7 110.8L618.9 119.3L619.1 102.3L619.3 114.0L619.5 107.2L619.7 120.0L619.9 87.1L620.1 116.4L620.2 84.2L620.3 99.5L620.5 117.4L620.7 102.2L620.9 116.5L621.1 110.3L621.3 117.5L621.5 102.6L621.7 114.6L621.9 114.2L622.1 115.8L622.3 112.6L622.5 113.3L622.7 116.2L622.9 115.0L623.1 112.6L623.3 111.9L623.3 118.0L623.5 112.0L623.7 116.1L623.9 116.2L624.1 118.7L624.3 110.6L624.5 119.0L624.7 108.7L624.9 118.2L625.1 107.4L625.3 117.1L625.5 99.0L625.7 119.6L625.9 105.4L626.1 117.1L626.3 103.7L626.5 86.3L626.5 112.3L626.7 98.6L626.9 117.1L627.1 108.4L627.3 117.8L627.5 108.2L627.7 112.2L627.9 101.1L628.1 113.1L628.3 100.4L628.5 112.6L628.7 104.4L628.9 109.5L629.1 110.1L629.3 108.5L629.5 110.6L629.7 113.1L629.9 111.3L630.1 113.6L630.3 111.8L630.5 96.5L630.5 112.7L630.7 104.2L630.9 110.6L631.1 108.1L631.3 111.0L631.5 109.3L631.7 110.5L631.9 108.8L632.1 110.1L632.3 105.6L632.5 111.0L632.7 100.5L632.9 113.8L633.1 96.6L633.3 115.7L633.5 93.9L633.7 116.6L633.9 95.8L634.1 121.0L634.3 97.5L634.5 91.4L634.5 114.0L634.7 108.6L634.9 113.4L635.1 110.1L635.3 111.9L635.5 108.3L635.7 115.1L635.9 111.7L636.1 114.1L636.3 104.6L636.5 113.4L636.7 102.9L636.9 115.1L637.1 112.0L637.3 113.8L637.5 111.3L637.7 115.4L637.9 108.0L638.1 114.2L638.3 106.8L638.5 101.7L638.5 116.2L638.7 105.9L638.9 117.6L639.1 111.9L639.3 115.6L639.5 100.6L639.7 113.3L639.9 101.8L640.1 110.4L640.3 106.1L640.5 113.3L640.7 96.0L640.9 112.3L641.1 96.6L641.3 115.7L641.5 105.4L641.7 113.7L641.9 84.4L642.0 79.1L642.1 119.3L642.3 94.6L642.5 112.3L642.7 103.2L642.9 107.1L643.1 79.0L643.3 101.0L643.5 105.9L643.7 103.5L643.9 95.9L644.1 97.4L644.3 99.1L644.5 100.3L644.7 99.8L644.9 97.6L645.1 86.0L645.3 102.6L645.5 101.2L645.7 99.0L645.9 90.0L646.1 76.0L646.1 104.2L646.3 105.4L646.5 108.9L646.7 89.9L646.9 102.4L647.1 105.3L647.3 104.9L647.5 80.7L647.7 108.9L647.9 100.1L648.1 113.1L648.3 84.9L648.5 114.7L648.7 98.5L648.9 114.6L649.1 98.3L649.3 112.6L649.5 102.4L649.7 112.9L649.9 94.7L650.1 117.2L650.3 86.5L650.5 107.5L650.7 88.4L650.9 106.2L651.1 86.0L651.3 72.9L651.3 105.5L651.5 101.5L651.7 106.4L651.9 93.2L652.1 100.5L652.3 104.5L652.5 104.8L652.7 85.6L652.9 96.6L653.1 87.9L653.3 95.7L653.5 79.0L653.7 98.6L653.9 76.2L654.1 96.6L654.3 85.7L654.5 76.0L654.5 94.9L654.7 96.9L654.9 99.2L655.1 87.9L655.3 97.4L655.5 97.0L655.7 103.4L655.9 95.4L656.1 100.2L656.3 99.3L656.5 101.2L656.7 107.1L656.9 104.3L657.1 96.1L657.3 106.0L657.5 86.3L657.5 95.5L657.7 104.3L657.9 99.4L658.1 101.7L658.3 108.5L658.5 104.3L658.7 103.4L658.9 104.1L659.1 94.8L659.3 105.8L659.5 91.3L659.7 106.0L659.9 89.8L660.1 110.1L660.3 94.1L660.5 111.6L660.7 103.6L660.9 114.4L661.1 89.8L661.3 114.0L661.5 96.4L661.7 72.9L661.7 106.8L661.9 88.6L662.1 110.5L662.3 99.1L662.5 99.5L662.7 76.9L662.9 101.9L663.1 100.2L663.3 105.0L663.5 89.6L663.7 99.2L663.8 72.9L663.9 90.2L664.1 106.8L664.3 107.2L664.5 108.5L664.7 100.8L664.9 110.6L665.1 109.8L665.3 112.9L665.5 107.5L665.7 116.0L665.8 106.8L665.9 111.2L666.1 117.5L666.3 115.9L666.5 115.8L666.7 116.0L666.9 115.3L667.1 107.9L667.3 116.0L667.5 109.2L667.7 116.1L667.9 109.6L668.1 115.2L668.3 115.6L668.5 116.2L668.7 111.0L668.9 108.8L668.9 115.3L669.1 111.4L669.3 115.7L669.5 110.8L669.7 116.8L669.9 116.4L670.1 117.1L670.3 112.5L670.5 116.3L670.7 114.0L670.9 117.4L671.1 113.8L671.3 118.2L671.5 118.6L671.7 119.0L671.9 116.5L672.1 119.6L672.3 117.8L672.5 119.9L672.7 117.4L672.9 119.9L673.1 117.1L673.1 119.7L673.3 119.9L673.5 118.4L673.7 119.7L673.9 117.7L674.1 119.3L674.3 118.1L674.5 119.9L674.7 119.0L674.9 119.9L675.1 118.6L675.3 120.4L675.5 119.4L675.7 120.7L675.9 120.1L676.1 120.7L676.3 119.9L676.5 120.5L676.7 120.0L676.9 120.3L677.1 119.5L677.3 120.4L677.5 120.5L677.7 120.7L677.9 120.6L678.1 120.8L678.3 120.7L678.5 120.1L678.5 120.8L678.7 120.8L678.9 121.0L679.1 120.5L679.3 121.1L679.5 120.6L679.7 121.2L679.9 121.1L680.1 121.3L680.3 121.1L680.5 121.3L680.7 121.2L680.9 121.4L681.1 121.3L681.3 121.5L681.5 121.3L681.7 121.5L681.9 121.5L682.1 121.6L682.3 121.6L682.5 121.7L682.7 121.7L682.9 121.8L683.1 121.8L683.3 121.9L683.5 121.9L683.7 122.0L683.9 122.0L684.1 122.1L684.3 122.2L684.5 122.2" stroke="#1652a3" stroke-width="1.9" fill="none" stroke-linejoin="round" clip-path="url(#cp02)"/>
<clipPath id="cp10"><rect x="65.5" y="150.0" width="174.0" height="103.9"/></clipPath>
<path d="M66.5 251.9L66.5 251.9L72.4 251.8L77.7 251.7L81.8 251.6L85.1 251.6L88.0 251.5L90.4 251.5L92.6 251.4L94.5 251.4L96.3 251.4L96.5 251.4L97.8 250.9L99.3 250.5L100.7 250.0L101.9 249.6L102.7 249.3L103.1 249.4L104.2 249.7L105.3 250.0L106.3 250.2L106.9 250.4L107.2 250.0L108.1 248.9L109.0 247.9L109.8 246.9L110.5 246.0L111.3 246.1L112.0 244.2L112.0 246.7L112.7 247.5L113.4 248.6L114.0 249.6L114.1 249.3L114.6 248.0L115.2 245.4L115.8 244.5L116.4 237.6L116.9 240.6L117.2 232.0L117.5 238.0L118.0 244.3L118.5 244.4L119.0 247.1L119.3 247.3L119.4 248.1L119.9 247.3L120.4 246.9L120.8 243.7L121.2 245.9L121.4 240.2L121.7 244.3L122.1 243.7L122.5 244.4L122.9 245.0L123.3 243.9L123.5 242.2L123.6 243.6L124.0 244.6L124.4 235.4L124.7 243.2L125.1 232.1L125.4 234.5L125.5 221.8L125.7 225.1L126.1 236.4L126.4 240.1L126.7 242.2L127.0 234.0L127.3 239.2L127.6 232.0L127.6 243.7L127.9 231.0L128.2 243.0L128.5 237.8L128.8 243.2L129.1 235.7L129.4 239.5L129.6 247.1L129.7 224.9L129.9 244.5L130.2 224.5L130.4 237.7L130.7 240.4L130.9 229.2L131.2 219.1L131.4 247.0L131.7 245.0L131.9 241.2L132.1 238.0L132.2 170.9L132.4 238.1L132.6 244.3L132.8 189.8L133.1 189.6L133.3 194.1L133.5 248.3L133.7 246.1L133.8 201.4L133.9 215.0L134.2 221.3L134.4 220.2L134.6 212.3L134.8 244.9L135.0 234.5L135.2 238.5L135.4 247.5L135.6 239.9L135.8 247.9L135.9 226.9L136.0 233.6L136.2 242.1L136.4 240.9L136.6 239.0L136.8 237.9L137.0 241.3L137.2 214.8L137.4 241.0L137.6 233.7L137.8 236.9L138.0 220.5L138.0 206.5L138.2 237.5L138.4 234.3L138.6 241.4L138.8 234.0L139.0 241.4L139.2 217.1L139.4 245.9L139.6 227.8L139.8 247.9L140.0 222.0L140.0 221.8L140.2 246.1L140.4 229.4L140.6 243.6L140.8 227.5L141.0 243.6L141.2 215.6L141.4 240.2L141.6 210.8L141.8 228.8L142.0 200.8L142.1 189.2L142.2 236.8L142.4 190.4L142.6 237.7L142.8 217.1L143.0 240.4L143.2 195.4L143.4 248.4L143.6 191.9L143.8 234.8L143.8 188.2L144.0 194.5L144.2 246.3L144.4 187.4L144.6 234.9L144.8 173.6L145.0 247.4L145.2 171.9L145.4 233.7L145.6 216.3L145.8 220.6L145.8 155.6L146.0 208.9L146.2 218.2L146.4 219.3L146.6 208.3L146.8 200.8L147.0 227.6L147.2 210.0L147.4 231.9L147.6 205.7L147.8 243.7L148.0 219.5L148.2 249.3L148.3 206.5L148.4 225.6L148.6 244.3L148.8 226.8L149.0 246.0L149.2 209.3L149.4 235.1L149.6 212.5L149.8 242.1L150.0 224.8L150.2 238.4L150.4 203.1L150.5 201.4L150.6 233.1L150.8 205.1L151.0 228.0L151.2 223.0L151.4 223.4L151.6 218.1L151.8 219.0L152.0 226.5L152.2 235.6L152.4 203.1L152.5 172.9L152.6 237.9L152.8 191.3L153.0 243.1L153.2 217.5L153.4 236.3L153.6 212.7L153.8 245.8L154.0 209.2L154.2 241.0L154.4 223.6L154.5 221.8L154.6 243.9L154.8 231.4L155.0 246.2L155.2 226.8L155.4 236.4L155.6 236.1L155.8 238.1L156.0 224.0L156.2 228.1L156.4 226.4L156.6 224.9L156.6 191.3L156.8 222.5L157.0 226.4L157.2 205.0L157.4 226.3L157.6 179.3L157.8 216.1L158.0 173.4L158.2 202.4L158.3 150.5L158.4 189.5L158.6 214.1L158.8 178.4L159.0 216.9L159.2 178.5L159.4 218.2L159.6 222.1L159.8 222.2L160.0 223.4L160.2 226.8L160.4 198.8L160.6 225.9L160.8 223.9L160.8 206.5L161.0 228.8L161.2 230.0L161.4 233.2L161.6 202.8L161.8 239.8L162.0 213.7L162.2 244.4L162.4 214.6L162.6 241.7L162.8 217.5L162.8 196.4L163.0 248.6L163.2 204.5L163.4 243.2L163.6 230.9L163.8 240.9L164.0 196.0L164.2 249.0L164.4 226.4L164.6 241.3L164.8 224.9L165.0 241.0L165.2 201.1L165.4 238.2L165.6 204.1L165.8 235.7L165.9 191.3L166.0 221.1L166.2 238.8L166.4 220.8L166.6 243.9L166.8 227.1L167.0 236.1L167.2 229.1L167.4 249.3L167.6 214.9L167.8 244.8L168.0 228.0L168.2 238.9L168.4 215.0L168.6 232.2L168.8 207.3L169.0 227.4L169.1 206.5L169.2 232.8L169.4 226.6L169.6 220.3L169.8 226.3L170.0 212.4L170.2 225.2L170.4 231.1L170.6 229.2L170.8 230.9L171.0 224.1L171.2 230.3L171.4 227.5L171.6 232.8L171.8 229.7L172.0 234.4L172.2 225.4L172.2 201.4L172.4 222.4L172.6 225.2L172.8 228.6L173.0 225.5L173.2 208.3L173.4 217.2L173.6 225.1L173.8 224.0L174.0 205.9L174.2 229.9L174.2 181.1L174.4 207.4L174.6 223.3L174.8 211.8L175.0 239.3L175.2 195.9L175.4 245.6L175.6 204.2L175.7 157.6L175.8 220.6L176.0 210.5L176.2 229.0L176.4 196.6L176.6 219.2L176.8 221.9L177.0 212.9L177.2 210.0L177.4 218.2L177.6 229.3L177.8 226.1L178.0 211.4L178.2 236.9L178.4 205.0L178.4 201.4L178.6 236.3L178.8 221.6L179.0 238.1L179.2 220.0L179.4 241.0L179.6 206.9L179.8 233.2L180.0 229.6L180.2 235.3L180.4 199.6L180.6 234.7L180.8 225.0L181.0 228.4L181.2 214.9L181.4 226.4L181.6 219.3L181.8 222.9L182.0 191.0L182.2 222.6L182.4 228.7L182.5 186.2L182.6 232.4L182.8 216.2L183.0 239.2L183.2 200.2L183.4 239.7L183.6 230.6L183.8 233.8L184.0 219.9L184.2 239.1L184.4 204.4L184.6 236.4L184.8 206.4L185.0 228.7L185.2 232.1L185.4 234.9L185.6 219.0L185.6 206.5L185.8 238.5L186.0 226.3L186.2 241.9L186.4 217.7L186.6 250.0L186.8 233.6L187.0 247.9L187.2 199.3L187.4 246.6L187.6 230.8L187.8 250.5L188.0 195.7L188.2 248.6L188.4 228.2L188.6 239.3L188.8 200.3L189.0 236.2L189.2 229.0L189.4 235.5L189.4 186.2L189.6 201.5L189.8 231.3L190.0 214.0L190.2 232.4L190.4 206.4L190.6 242.9L190.8 228.1L191.0 237.4L191.2 203.5L191.4 249.2L191.6 204.2L191.8 240.5L192.0 219.2L192.2 236.3L192.4 198.5L192.6 225.1L192.8 209.8L193.0 222.9L193.2 223.5L193.4 223.0L193.5 198.4L193.6 213.9L193.8 226.2L194.0 231.6L194.2 236.9L194.4 229.7L194.6 238.9L194.8 234.5L195.0 239.6L195.2 227.4L195.4 231.6L195.6 232.8L195.8 237.9L196.0 231.5L196.2 236.9L196.4 229.3L196.6 243.1L196.8 229.9L197.0 247.1L197.2 237.0L197.4 241.0L197.5 212.7L197.6 225.8L197.8 250.2L198.0 216.8L198.2 248.8L198.4 235.1L198.6 242.9L198.8 235.6L199.0 248.0L199.2 241.8L199.4 247.5L199.6 233.5L199.8 248.3L200.0 240.0L200.1 232.0L200.2 248.4L200.4 239.2L200.6 248.1L200.8 240.3L201.0 250.4L201.2 238.2L201.4 249.1L201.6 241.1L201.8 249.7L202.0 242.0L202.2 248.8L202.2 242.2L202.4 245.7L202.6 249.6L202.8 246.2L203.0 250.1L203.2 244.1L203.4 249.1L203.6 244.4L203.8 250.2L204.0 245.2L204.2 249.2L204.4 246.5L204.6 250.3L204.8 249.0L205.0 249.7L205.2 248.0L205.4 250.1L205.6 248.0L205.8 250.1L206.0 248.4L206.2 250.3L206.4 249.4L206.4 248.3L206.6 250.4L206.8 249.7L207.0 250.1L207.2 249.8L207.4 250.3L207.6 249.3L207.8 250.2L208.0 250.3L208.2 250.1L208.4 248.7L208.6 249.9L208.8 250.1L209.0 250.2L209.2 249.0L209.4 250.4L209.6 249.0L209.8 250.7L210.0 250.5L210.2 250.6L210.4 249.8L210.6 250.8L210.8 250.5L211.0 250.8L211.2 250.3L211.4 251.0L211.6 250.6L211.8 250.9L212.0 249.8L212.2 250.8L212.4 249.5L212.6 250.9L212.8 250.3L213.0 250.8L213.2 249.6L213.4 251.2L213.6 250.8L213.8 251.1L214.0 250.7L214.2 251.0L214.4 250.7L214.6 251.2L214.8 250.6L215.0 251.2L215.2 250.3L215.4 251.2L215.6 250.6L215.8 251.2L216.0 250.9L216.2 251.1L216.4 250.5L216.6 251.2L216.8 250.3L217.0 251.5L217.2 250.6L217.4 251.4L217.6 250.6L217.8 251.4L218.0 250.4L218.2 251.2L218.4 250.8L218.6 251.3L218.8 251.2L219.0 251.4L219.2 251.2L219.4 251.2L219.6 251.3L219.8 251.3L220.0 251.1L220.2 251.3L220.4 251.2L220.6 251.5L220.8 251.1L220.9 250.9L221.0 251.5L221.2 251.3L221.4 251.4L221.6 251.3L221.8 251.4L222.0 251.3L222.2 251.4L222.4 251.2L222.6 251.5L222.8 251.4L223.0 251.5L223.2 251.4L223.4 251.6L223.6 251.2L223.8 251.5L224.0 251.4L224.2 251.6L224.4 251.4L224.6 251.6L224.8 251.5L225.0 251.6L225.2 251.5L225.4 251.7L225.6 251.3L225.8 251.7L226.0 251.5L226.2 251.7L226.4 251.5L226.6 251.7L226.8 251.5L227.0 251.6L227.2 251.5L227.4 251.6L227.6 251.5L227.8 251.6L228.0 251.6L228.2 251.6L228.4 251.5L228.6 251.6L228.8 251.5L229.0 251.6L229.2 251.5L229.4 251.6L229.6 251.5L229.8 251.6L230.0 251.5L230.2 251.6L230.4 251.6L230.6 251.7L230.8 251.6L231.0 251.7L231.2 251.7L231.4 251.8L231.6 251.6L231.8 251.8L232.0 251.5L232.2 251.8L232.4 251.7L232.6 251.8L232.8 251.8L233.0 251.8L233.2 251.7L233.4 251.8L233.6 251.7L233.8 251.8L234.0 251.7L234.2 251.8L234.4 251.7L234.6 251.9L234.8 251.7L235.0 251.9L235.2 251.7L235.4 251.9L235.6 251.8L235.8 251.9L236.0 251.8L236.2 251.9L236.4 251.8L236.6 251.9L236.8 251.8L237.0 251.9L237.2 251.9L237.4 252.0L237.6 251.9L237.8 252.0L238.0 251.9L238.2 252.0L238.4 251.9L238.5 251.9" stroke="#1652a3" stroke-width="1.9" fill="none" stroke-linejoin="round" clip-path="url(#cp10)"/>
<clipPath id="cp11"><rect x="289.5" y="150.0" width="174.0" height="103.9"/></clipPath>
<path d="M290.5 252.4L290.5 252.4L296.4 252.3L301.7 252.2L305.8 252.1L309.1 252.0L312.0 252.0L314.4 251.9L315.5 251.9L316.6 251.5L318.5 250.9L320.3 250.6L321.8 250.2L323.1 249.3L323.3 249.5L324.7 249.3L325.9 249.8L327.1 248.7L328.2 248.2L329.3 248.2L330.3 248.5L330.7 247.3L331.2 248.2L332.1 247.3L333.0 247.6L333.8 247.4L334.5 247.7L335.3 248.1L336.0 247.6L336.7 245.9L336.9 245.3L337.4 246.0L338.0 244.5L338.6 246.2L339.2 245.6L339.5 242.2L339.8 243.7L340.4 246.7L340.9 247.0L341.5 247.0L342.0 247.5L342.0 247.3L342.5 248.4L343.0 247.9L343.4 246.7L343.9 246.9L344.4 247.4L344.8 241.6L345.2 243.9L345.7 237.2L345.7 236.1L346.1 237.7L346.5 246.4L346.9 239.3L347.3 248.1L347.6 247.5L348.0 247.5L348.2 242.2L348.4 243.2L348.7 245.8L349.1 239.5L349.4 248.4L349.7 244.0L350.1 234.0L350.4 240.6L350.7 234.8L350.8 224.9L351.0 232.2L351.3 248.8L351.6 246.4L351.9 239.8L352.2 248.2L352.5 241.2L352.8 248.7L353.1 246.8L353.3 242.2L353.4 245.6L353.6 241.3L353.9 246.1L354.2 246.6L354.4 244.1L354.7 247.8L354.9 248.5L355.2 232.3L355.4 227.0L355.7 243.9L355.9 245.7L356.1 248.2L356.4 246.0L356.6 245.1L356.8 247.6L357.0 214.7L357.1 241.4L357.3 239.9L357.5 233.1L357.7 245.8L357.9 245.3L358.2 241.1L358.4 241.5L358.6 229.4L358.8 235.1L359.0 233.5L359.2 231.1L359.4 244.8L359.5 208.6L359.6 235.6L359.8 246.9L360.0 211.7L360.2 239.1L360.4 230.5L360.6 239.4L360.8 226.9L361.0 247.3L361.2 214.8L361.4 247.0L361.6 223.7L361.8 240.5L362.0 222.5L362.2 245.8L362.4 217.8L362.6 240.4L362.8 205.0L363.0 246.7L363.2 222.3L363.3 200.4L363.4 245.9L363.6 201.5L363.8 239.4L364.0 221.6L364.2 239.4L364.4 222.3L364.6 235.0L364.8 218.0L365.0 245.1L365.2 205.7L365.4 241.9L365.6 217.9L365.8 239.8L366.0 201.8L366.2 237.3L366.4 224.9L366.5 194.3L366.6 239.3L366.8 208.0L367.0 240.1L367.2 208.1L367.4 245.3L367.6 214.1L367.8 245.8L368.0 223.6L368.2 240.8L368.4 224.2L368.6 240.1L368.8 239.7L369.0 242.6L369.2 233.2L369.4 243.4L369.6 235.8L369.6 232.0L369.8 244.9L370.0 233.7L370.2 244.9L370.4 238.3L370.6 244.3L370.8 229.5L371.0 238.2L371.2 220.3L371.4 240.0L371.6 219.8L371.8 242.9L372.0 230.4L372.1 203.5L372.2 244.2L372.4 207.2L372.6 239.0L372.8 235.2L373.0 244.5L373.2 234.4L373.4 243.6L373.6 233.7L373.8 244.6L374.0 228.9L374.2 241.7L374.4 230.8L374.6 236.7L374.8 221.4L375.0 244.3L375.2 210.5L375.4 244.5L375.6 216.0L375.8 244.3L375.9 206.5L376.0 233.0L376.2 236.5L376.4 224.2L376.6 239.7L376.8 230.9L377.0 244.3L377.2 208.2L377.4 241.1L377.6 203.7L377.8 243.2L378.0 186.0L378.2 245.9L378.4 192.3L378.6 237.5L378.8 172.0L378.9 155.6L379.0 232.6L379.2 212.6L379.4 242.1L379.6 183.2L379.8 232.3L380.0 223.8L380.2 243.8L380.4 184.5L380.6 239.1L380.8 227.5L380.9 191.3L381.0 244.2L381.2 220.8L381.4 236.7L381.6 203.5L381.8 246.1L382.0 213.4L382.2 243.2L382.4 218.2L382.6 247.4L382.8 201.1L383.0 247.5L383.2 203.8L383.4 245.7L383.6 208.7L383.8 239.3L384.0 212.3L384.2 243.3L384.4 202.4L384.6 236.6L384.6 194.3L384.8 222.9L385.0 244.3L385.2 216.3L385.4 247.7L385.6 229.1L385.8 244.4L386.0 231.2L386.1 206.5L386.2 248.0L386.4 237.6L386.6 247.0L386.8 237.8L387.0 246.4L387.2 246.5L387.2 242.2L387.4 246.3L387.6 243.8L387.8 243.0L388.0 239.1L388.2 246.6L388.3 206.5L388.4 231.4L388.6 237.5L388.8 231.4L389.0 243.9L389.2 225.2L389.4 239.9L389.6 209.4L389.8 233.2L390.0 229.8L390.2 240.4L390.4 229.5L390.6 236.6L390.8 220.5L391.0 243.4L391.2 219.0L391.4 248.2L391.6 227.5L391.8 246.6L392.0 204.5L392.2 238.3L392.2 194.3L392.4 209.5L392.6 236.0L392.8 201.0L393.0 236.1L393.2 211.6L393.4 230.4L393.6 232.8L393.8 235.5L394.0 208.5L394.2 238.7L394.4 205.0L394.6 241.6L394.7 206.5L394.8 214.5L395.0 237.3L395.2 213.7L395.4 233.8L395.6 218.4L395.8 234.7L396.0 204.7L396.2 242.2L396.4 217.0L396.6 243.3L396.8 218.6L397.0 247.5L397.2 202.3L397.2 196.4L397.4 245.6L397.6 232.5L397.8 247.1L398.0 230.6L398.2 245.6L398.4 223.8L398.6 248.5L398.8 227.6L399.0 248.3L399.2 237.2L399.4 244.9L399.6 233.6L399.8 249.7L399.9 216.7L400.0 239.9L400.2 243.1L400.4 229.5L400.6 244.6L400.8 235.6L401.0 246.2L401.0 232.0L401.2 230.7L401.4 246.2L401.6 235.8L401.8 250.1L402.0 237.5L402.1 216.7L402.2 250.3L402.4 236.6L402.6 247.0L402.8 232.7L403.0 247.6L403.2 238.5L403.4 245.4L403.5 214.7L403.6 225.0L403.8 240.6L404.0 224.1L404.2 236.8L404.4 228.9L404.6 238.8L404.8 220.0L405.0 238.3L405.2 234.3L405.4 241.8L405.6 234.5L405.8 245.6L406.0 217.7L406.2 246.8L406.4 233.4L406.6 247.2L406.8 236.2L407.0 244.7L407.2 215.2L407.2 208.6L407.4 248.2L407.6 216.6L407.8 239.6L408.0 212.3L408.2 243.9L408.4 227.3L408.6 241.2L408.8 224.3L409.0 239.1L409.2 215.9L409.4 240.2L409.6 232.7L409.8 241.5L410.0 235.3L410.2 241.3L410.4 238.9L410.6 241.9L410.8 238.7L411.0 240.7L411.0 216.7L411.2 217.3L411.4 247.5L411.6 239.9L411.8 245.8L412.0 223.8L412.2 248.1L412.4 222.6L412.6 250.4L412.8 227.9L413.0 246.3L413.2 220.9L413.4 246.4L413.6 229.8L413.8 249.0L414.0 234.3L414.2 249.0L414.4 225.9L414.6 244.1L414.8 232.2L414.8 223.9L415.0 249.4L415.2 236.4L415.4 244.8L415.6 234.8L415.8 247.6L416.0 237.3L416.2 249.8L416.4 242.7L416.6 247.2L416.8 238.1L417.0 244.3L417.2 241.1L417.4 249.9L417.6 238.6L417.8 249.7L418.0 234.7L418.2 249.2L418.4 242.0L418.6 248.8L418.8 233.3L419.0 249.0L419.2 238.7L419.4 246.3L419.6 238.4L419.8 246.2L420.0 242.4L420.2 248.2L420.4 243.9L420.6 248.8L420.8 233.1L421.0 246.6L421.1 232.0L421.2 244.1L421.4 247.3L421.6 239.8L421.8 245.8L422.0 245.4L422.2 246.2L422.4 236.3L422.6 247.7L422.8 242.6L423.0 247.8L423.2 239.0L423.4 247.1L423.6 242.3L423.8 247.6L424.0 240.5L424.2 248.7L424.4 240.7L424.6 249.8L424.8 246.8L425.0 249.7L425.2 247.5L425.4 249.4L425.6 248.3L425.8 251.5L426.0 247.0L426.1 242.2L426.2 249.4L426.4 247.4L426.6 250.2L426.8 245.9L427.0 251.6L427.2 248.1L427.4 251.0L427.6 248.2L427.8 250.8L428.0 247.4L428.2 251.3L428.4 246.9L428.6 250.3L428.8 246.6L429.0 250.6L429.2 248.5L429.4 250.3L429.6 247.2L429.8 249.9L430.0 248.8L430.2 250.5L430.4 249.1L430.6 250.5L430.8 250.1L431.0 250.9L431.1 248.3L431.2 249.7L431.4 251.0L431.6 250.2L431.8 251.1L432.0 250.4L432.2 250.8L432.4 248.8L432.6 250.8L432.8 250.3L433.0 250.8L433.2 250.7L433.4 250.9L433.6 250.7L433.8 250.9L434.0 250.6L434.2 251.1L434.4 250.6L434.6 251.5L434.8 250.8L435.0 251.4L435.2 249.9L435.4 251.3L435.6 250.8L435.8 251.4L436.0 250.3L436.2 251.3L436.4 250.2L436.6 251.3L436.8 251.0L437.0 251.2L437.2 251.1L437.4 251.2L437.6 250.8L437.8 251.3L438.0 250.9L438.2 251.4L438.4 251.1L438.6 251.5L438.8 251.0L439.0 251.7L439.2 251.2L439.4 251.8L439.6 251.5L439.8 251.7L440.0 251.1L440.2 251.9L440.4 251.2L440.6 252.0L440.8 251.3L441.0 252.0L441.1 251.4L441.2 251.5L441.4 251.9L441.6 251.7L441.8 251.9L442.0 251.8L442.2 251.9L442.4 251.4L442.6 251.9L442.8 251.7L443.0 251.9L443.2 251.5L443.4 251.9L443.6 251.5L443.8 252.0L444.0 251.5L444.2 252.0L444.4 251.7L444.6 251.9L444.8 251.6L445.0 251.9L445.2 251.6L445.4 251.9L445.6 251.7L445.8 251.9L446.0 251.8L446.2 251.9L446.4 251.6L446.6 251.9L446.8 251.7L447.0 252.0L447.2 251.6L447.4 252.0L447.6 251.9L447.8 252.0L448.0 251.8L448.2 252.0L448.4 251.8L448.6 252.0L448.8 251.7L449.0 252.0L449.2 251.9L449.4 252.0L449.6 251.7L449.8 252.0L450.0 251.8L450.2 252.0L450.4 251.7L450.6 252.0L450.8 251.8L451.0 251.9L451.2 251.8L451.4 252.0L451.6 251.8L451.8 252.0L452.0 251.9L452.2 252.0L452.4 251.9L452.6 252.0L452.8 251.9L453.0 252.0L453.2 252.0L453.4 252.1L453.6 252.0L453.8 252.0L454.0 251.9L454.2 252.1L454.4 251.9L454.6 252.0L454.8 251.9L455.0 252.1L455.2 252.0L455.4 252.1L455.6 252.0L455.8 252.1L456.0 252.0L456.2 252.1L456.4 252.0L456.6 252.1L456.8 252.1L457.0 252.1L457.2 252.1L457.4 252.1L457.6 252.1L457.8 252.1L458.0 252.1L458.2 252.1L458.4 252.0L458.6 252.1L458.8 252.1L459.0 252.2L459.2 252.1L459.4 252.2L459.6 252.1L459.8 252.2L460.0 252.1L460.2 252.2L460.4 252.2L460.6 252.2L460.8 252.2L461.0 252.2L461.2 252.2L461.4 252.2L461.6 252.2L461.8 252.2L462.0 252.2L462.2 252.2L462.4 252.2L462.5 252.2" stroke="#1652a3" stroke-width="1.9" fill="none" stroke-linejoin="round" clip-path="url(#cp11)"/>
<clipPath id="cp12"><rect x="511.5" y="150.0" width="174.0" height="103.9"/></clipPath>
<path d="M512.5 252.1L512.5 252.1L518.4 252.1L523.7 252.0L527.8 252.0L531.1 252.0L534.0 251.9L536.4 251.9L538.6 251.9L540.5 251.9L542.3 251.9L542.5 251.9L543.8 251.8L545.3 251.7L546.7 251.7L547.9 251.6L548.5 251.6L549.1 251.2L550.2 250.5L550.5 250.4L551.3 250.3L552.3 250.2L553.2 250.2L554.1 250.1L555.0 250.0L555.8 250.0L556.5 249.9L557.3 249.9L557.5 249.9L558.0 249.2L558.7 248.3L559.4 247.4L560.0 246.5L560.2 246.3L560.6 245.9L561.2 245.4L561.8 244.8L562.4 244.4L562.5 244.2L562.9 243.7L563.5 242.9L564.0 242.2L564.0 242.2L564.5 243.5L565.0 244.8L565.4 246.1L565.5 246.3L565.9 245.4L566.4 244.5L566.8 243.6L567.0 243.2L567.2 243.5L567.7 243.9L568.1 244.3L568.5 244.7L568.9 245.1L569.0 245.3L569.3 245.1L569.6 245.1L570.0 244.7L570.4 246.8L570.5 244.2L570.7 246.3L571.1 244.1L571.4 243.4L571.5 237.1L571.7 243.1L572.1 238.2L572.4 244.6L572.7 241.3L573.0 224.0L573.3 239.2L573.6 227.3L573.9 216.1L574.2 224.6L574.5 231.8L574.8 208.6L574.8 227.3L575.1 228.3L575.4 242.8L575.6 236.6L575.9 220.3L576.2 245.9L576.4 232.9L576.7 234.0L576.9 244.8L577.2 232.9L577.3 232.0L577.4 232.8L577.7 237.9L577.9 239.3L578.1 243.6L578.4 231.2L578.6 235.1L578.8 241.8L579.1 232.2L579.3 229.6L579.5 240.3L579.7 241.8L579.8 216.7L579.9 237.3L580.2 244.4L580.4 237.5L580.6 223.6L580.8 225.9L581.0 213.6L581.2 210.6L581.4 234.1L581.6 226.7L581.8 236.7L582.0 216.0L582.2 224.4L582.4 192.4L582.6 224.1L582.8 219.7L582.8 188.2L583.0 226.7L583.2 205.7L583.4 230.9L583.6 202.2L583.8 233.3L584.0 225.4L584.2 240.1L584.4 229.2L584.6 241.8L584.8 237.9L585.0 241.1L585.2 220.4L585.3 221.8L585.4 241.3L585.6 231.0L585.8 244.4L586.0 244.0L586.2 244.4L586.4 237.0L586.6 243.3L586.8 243.5L587.0 244.7L587.2 250.1L587.3 247.3L587.4 245.2L587.6 245.8L587.8 243.5L588.0 233.1L588.2 244.7L588.4 231.4L588.6 239.8L588.8 208.0L589.0 241.4L589.1 196.4L589.2 201.3L589.4 239.7L589.6 231.4L589.8 235.4L590.0 232.7L590.2 241.8L590.4 230.8L590.6 243.0L590.8 215.9L591.0 239.5L591.2 211.5L591.4 233.8L591.6 201.7L591.8 244.1L592.0 228.6L592.2 245.1L592.3 196.4L592.4 228.8L592.6 239.9L592.8 214.0L593.0 232.5L593.2 227.7L593.4 233.8L593.6 213.2L593.8 220.9L594.0 186.6L594.2 217.0L594.3 163.7L594.4 196.0L594.6 223.7L594.8 223.6L595.0 227.0L595.2 189.5L595.4 229.6L595.6 215.0L595.8 234.5L596.0 219.5L596.2 230.7L596.4 227.1L596.6 235.2L596.8 229.8L597.0 239.0L597.2 223.8L597.4 240.2L597.6 220.2L597.8 243.8L597.9 221.8L598.0 234.2L598.2 242.3L598.4 233.1L598.6 239.9L598.8 235.3L599.0 238.2L599.2 227.6L599.4 239.5L599.6 232.3L599.8 237.3L600.0 236.5L600.2 235.5L600.4 235.6L600.6 237.3L600.8 237.9L601.0 238.9L601.2 235.5L601.4 245.5L601.6 218.1L601.6 208.6L601.8 246.1L602.0 234.4L602.2 243.4L602.4 218.2L602.6 242.7L602.8 229.0L603.0 245.3L603.2 219.4L603.4 237.4L603.6 234.1L603.8 240.0L604.0 238.0L604.2 234.8L604.4 239.8L604.6 238.0L604.8 237.7L605.0 236.8L605.2 224.0L605.4 237.9L605.4 219.8L605.6 231.3L605.8 237.7L606.0 234.2L606.2 242.3L606.4 232.1L606.6 246.3L606.8 228.6L607.0 242.4L607.2 225.5L607.4 246.4L607.6 221.8L607.8 240.4L608.0 227.3L608.2 238.9L608.4 225.2L608.6 238.7L608.8 226.2L609.0 232.6L609.2 236.6L609.2 211.6L609.4 237.4L609.6 221.4L609.8 236.8L610.0 222.8L610.2 233.9L610.4 226.2L610.6 236.3L610.8 234.7L611.0 239.5L611.2 228.1L611.4 239.4L611.6 235.2L611.8 241.3L612.0 234.1L612.2 245.8L612.4 231.2L612.6 237.5L612.8 233.4L612.9 216.7L613.0 235.5L613.2 235.4L613.4 234.3L613.6 234.9L613.8 235.7L614.0 229.9L614.2 239.6L614.4 240.6L614.6 241.4L614.8 222.9L615.0 240.9L615.2 225.0L615.4 241.9L615.6 225.3L615.8 242.1L616.0 235.4L616.2 242.2L616.4 237.5L616.6 242.2L616.8 237.0L617.0 244.7L617.2 239.4L617.4 245.6L617.6 242.8L617.8 243.2L617.9 232.0L618.0 240.0L618.2 246.5L618.4 244.2L618.6 246.1L618.8 237.0L619.0 245.6L619.2 232.5L619.4 243.0L619.6 243.4L619.8 244.5L620.0 237.8L620.2 241.4L620.4 232.0L620.6 244.0L620.8 243.4L621.0 242.9L621.2 241.4L621.4 240.0L621.6 241.5L621.8 242.1L622.0 230.1L622.2 238.7L622.4 242.2L622.6 237.1L622.8 237.6L623.0 234.9L623.2 226.9L623.4 239.1L623.5 221.8L623.6 227.3L623.8 238.4L624.0 227.3L624.2 239.7L624.4 237.1L624.6 243.2L624.8 228.1L625.0 243.2L625.2 240.2L625.4 244.0L625.6 234.6L625.8 244.1L626.0 232.9L626.2 245.0L626.4 242.9L626.6 245.1L626.8 229.9L627.0 247.7L627.2 241.9L627.4 245.4L627.6 244.3L627.8 245.7L628.0 240.8L628.0 232.0L628.2 243.3L628.4 244.4L628.6 244.7L628.8 232.7L629.0 242.0L629.2 236.2L629.4 244.5L629.6 226.9L629.8 241.6L630.0 242.4L630.2 242.4L630.4 240.5L630.6 241.4L630.8 238.5L631.0 242.5L631.2 234.9L631.4 239.1L631.6 235.9L631.8 245.0L632.0 231.8L632.2 240.7L632.4 230.2L632.6 243.1L632.8 222.0L633.0 245.6L633.2 230.3L633.4 240.5L633.5 211.6L633.6 219.2L633.8 247.6L634.0 232.3L634.2 245.1L634.4 230.2L634.6 241.4L634.8 230.7L635.0 245.2L635.2 225.6L635.4 243.0L635.6 237.2L635.8 247.3L636.0 241.0L636.2 244.4L636.4 234.0L636.6 248.3L636.8 229.7L637.0 247.0L637.2 231.8L637.4 248.3L637.6 236.9L637.8 245.6L638.0 244.1L638.0 232.0L638.2 246.5L638.4 233.0L638.6 245.7L638.8 238.6L639.0 247.7L639.2 236.9L639.4 247.8L639.6 240.8L639.8 247.6L640.0 237.2L640.2 245.3L640.4 243.0L640.6 245.8L640.8 238.5L641.0 244.7L641.2 236.1L641.4 242.8L641.6 236.9L641.8 242.7L642.0 245.3L642.2 244.7L642.4 244.4L642.6 243.8L642.8 244.1L643.0 242.2L643.1 232.0L643.2 233.9L643.4 241.3L643.6 239.3L643.8 242.1L644.0 241.9L644.2 243.2L644.4 236.6L644.6 243.6L644.8 234.5L645.0 245.1L645.2 241.3L645.4 245.9L645.6 244.9L645.8 244.1L646.0 240.0L646.2 244.2L646.4 236.4L646.6 243.0L646.8 243.2L647.0 242.4L647.2 235.2L647.4 245.4L647.6 240.1L647.8 245.0L648.0 242.1L648.2 248.6L648.4 238.1L648.6 247.8L648.8 234.4L649.0 248.9L649.2 242.9L649.4 244.6L649.6 244.3L649.8 243.2L650.0 245.0L650.2 242.6L650.4 243.5L650.5 234.1L650.6 245.9L650.8 243.6L651.0 244.6L651.2 238.6L651.4 247.5L651.6 240.2L651.8 247.2L652.0 241.7L652.2 248.9L652.4 246.1L652.6 245.7L652.8 243.4L653.0 248.3L653.2 245.1L653.4 248.1L653.6 238.5L653.8 248.3L654.0 236.3L654.2 246.1L654.4 236.9L654.4 235.1L654.6 246.5L654.8 242.9L655.0 249.2L655.2 240.3L655.4 249.2L655.6 246.7L655.8 248.0L656.0 245.3L656.2 249.6L656.4 248.3L656.6 249.8L656.8 249.1L656.9 247.3L657.0 250.1L657.2 250.0L657.4 250.1L657.6 248.7L657.8 249.9L658.0 249.8L658.2 249.9L658.4 250.4L658.6 250.0L658.8 249.3L659.0 250.1L659.2 249.0L659.4 250.3L659.6 249.7L659.8 250.5L660.0 249.9L660.2 250.8L660.4 251.0L660.6 250.9L660.8 250.9L661.0 251.1L661.2 251.2L661.4 251.1L661.6 250.6L661.8 251.2L662.0 250.8L662.2 251.2L662.4 251.4L662.6 251.4L662.8 251.5L663.0 251.5L663.1 251.4L663.2 251.8L663.4 251.5L663.6 251.7L663.8 251.5L664.0 251.8L664.2 251.5L664.4 251.8L664.6 251.6L664.8 251.8L665.0 251.6L665.2 251.7L665.4 251.6L665.6 251.6L665.8 251.6L666.0 251.7L666.2 251.6L666.4 251.8L666.6 251.6L666.8 251.8L667.0 251.7L667.2 251.6L667.4 251.7L667.6 251.7L667.8 251.7L668.0 251.9L668.2 251.7L668.4 251.9L668.6 251.7L668.8 251.9L669.0 251.7L669.2 251.7L669.4 251.8L669.6 251.8L669.8 251.8L670.0 251.8L670.2 251.8L670.4 251.9L670.6 251.8L670.8 251.9L671.0 251.8L671.2 251.8L671.4 251.8L671.6 251.9L671.8 251.8L672.0 251.8L672.2 251.9L672.4 251.9L672.6 251.9L672.8 252.0L673.0 251.9L673.2 252.0L673.4 251.9L673.6 252.0L673.8 251.9L674.0 251.9L674.2 252.0L674.4 252.1L674.6 252.0L674.8 252.1L675.0 252.0L675.2 252.0L675.4 252.0L675.6 252.1L675.8 252.0L676.0 252.1L676.2 252.0L676.4 252.1L676.6 252.1L676.8 252.1L677.0 252.1L677.2 252.1L677.4 252.1L677.6 252.1L677.8 252.1L678.0 252.2L678.2 252.1L678.4 252.1L678.6 252.1L678.8 252.2L679.0 252.2L679.2 252.2L679.4 252.2L679.6 252.2L679.8 252.2L680.0 252.2L680.2 252.2L680.4 252.2L680.6 252.2L680.8 252.3L681.0 252.2L681.2 252.2L681.4 252.3L681.6 252.3L681.8 252.3L682.0 252.3L682.2 252.3L682.4 252.3L682.6 252.3L682.8 252.3L683.0 252.3L683.2 252.3L683.4 252.3L683.6 252.4L683.8 252.4L684.0 252.4L684.2 252.4L684.4 252.4L684.5 252.4" stroke="#1652a3" stroke-width="1.9" fill="none" stroke-linejoin="round" clip-path="url(#cp12)"/>
<clipPath id="cp20"><rect x="65.5" y="281.0" width="174.0" height="104.69999999999999"/></clipPath>
<path d="M66.5 384.2L66.5 384.2L77.1 384.2L84.0 384.2L88.9 384.2L92.7 384.2L95.8 384.2L98.4 384.2L100.7 384.2L101.6 384.2L102.7 383.3L104.2 382.1L104.5 382.0L106.1 381.0L107.6 380.0L109.0 379.2L109.2 379.1L110.2 378.5L111.4 377.8L112.5 377.8L112.9 377.0L113.5 377.3L114.5 376.8L115.4 377.1L116.3 376.3L116.7 376.0L117.1 375.3L117.9 372.6L118.0 371.9L118.7 368.4L119.2 365.7L119.4 364.7L120.1 361.1L120.2 360.6L120.8 359.4L121.2 358.5L121.4 358.9L122.0 360.1L122.3 360.6L122.6 362.5L123.2 365.9L123.7 368.8L123.8 369.1L124.3 371.9L124.8 374.6L125.3 377.2L125.5 378.0L125.8 376.7L126.3 374.7L126.8 372.8L127.0 371.9L127.2 370.7L127.7 368.4L128.0 366.7L128.1 367.3L128.5 369.4L128.9 371.5L129.0 371.9L129.3 373.5L129.7 375.3L130.1 377.2L130.5 379.0L130.5 379.1L130.8 379.7L131.2 380.3L131.6 380.9L131.9 381.5L132.2 382.0L132.3 382.1L132.6 372.4L132.9 360.1L133.2 358.4L133.5 347.6L133.8 325.7L133.8 357.4L134.1 362.6L134.4 349.6L134.7 332.9L134.7 347.1L135.0 337.1L135.3 352.7L135.6 361.1L135.7 327.7L135.8 343.5L136.1 343.5L136.4 361.1L136.6 337.6L136.9 345.4L137.0 332.9L137.1 333.5L137.4 338.3L137.6 363.5L137.9 348.2L138.1 328.0L138.3 326.7L138.3 356.8L138.6 357.2L138.8 358.1L139.0 326.8L139.3 352.8L139.3 322.6L139.5 363.6L139.7 351.6L139.9 334.8L140.1 345.0L140.3 355.6L140.5 307.2L140.5 317.4L140.7 308.4L140.9 332.2L141.1 352.6L141.3 358.6L141.5 323.7L141.7 361.5L141.8 296.9L141.9 342.3L142.1 356.5L142.3 318.8L142.5 362.1L142.7 328.4L142.9 362.7L143.0 302.0L143.1 306.6L143.3 361.3L143.5 334.4L143.7 361.7L143.9 347.7L144.1 286.6L144.1 354.2L144.3 305.1L144.5 362.6L144.7 327.9L144.9 363.1L145.1 281.5L145.1 315.8L145.3 351.7L145.5 338.5L145.7 356.9L145.9 311.8L146.1 296.9L146.1 347.7L146.3 300.8L146.5 333.0L146.7 305.9L146.9 349.0L147.1 353.7L147.3 302.0L147.3 349.2L147.5 314.0L147.7 359.7L147.9 354.1L148.1 364.4L148.3 305.7L148.5 356.9L148.7 343.8L148.9 353.9L149.0 307.2L149.1 352.1L149.3 354.4L149.5 332.3L149.7 357.2L149.9 330.7L150.1 363.6L150.3 305.2L150.5 359.9L150.6 291.8L150.7 305.6L150.9 364.9L151.1 349.4L151.3 352.7L151.5 335.4L151.7 364.9L151.8 312.3L151.9 356.8L152.1 359.6L152.3 336.2L152.5 355.9L152.7 357.5L152.9 354.5L153.1 317.4L153.1 328.5L153.3 353.1L153.5 337.8L153.7 357.0L153.9 328.1L154.1 358.5L154.3 355.9L154.5 354.9L154.7 325.9L154.8 322.6L154.9 357.8L155.1 344.4L155.3 357.4L155.5 357.1L155.7 353.9L155.9 353.3L156.1 348.0L156.3 358.1L156.4 309.2L156.5 350.6L156.7 341.5L156.9 357.5L157.1 338.4L157.3 349.5L157.5 357.8L157.7 357.2L157.9 322.6L157.9 328.6L158.1 357.2L158.3 352.8L158.5 358.6L158.7 346.7L158.9 363.2L159.1 350.5L159.3 372.3L159.4 327.7L159.5 355.3L159.7 365.4L159.9 355.9L160.1 369.8L160.3 367.1L160.5 368.1L160.7 366.5L160.9 343.1L160.9 369.2L161.1 358.5L161.3 367.1L161.5 349.7L161.7 371.3L161.9 366.5L162.1 372.5L162.3 351.5L162.4 338.0L162.5 374.3L162.7 367.4L162.9 372.5L163.1 368.1L163.3 372.7L163.5 366.3L163.7 371.7L163.9 363.2L164.1 368.1L164.3 358.6L164.4 343.1L164.5 372.9L164.7 368.8L164.9 370.6L165.1 339.6L165.3 373.7L165.5 358.5L165.7 375.0L165.9 349.5L166.1 368.5L166.3 356.1L166.4 330.8L166.5 360.8L166.7 361.6L166.9 365.8L167.1 355.8L167.3 362.8L167.5 359.4L167.7 367.8L167.9 348.3L167.9 369.0L168.1 369.4L168.3 353.9L168.5 371.8L168.7 359.7L168.9 373.6L169.1 357.8L169.3 372.2L169.4 348.3L169.5 360.3L169.7 380.5L169.9 371.7L170.1 377.5L170.3 358.0L170.5 379.7L170.7 368.0L170.9 376.2L171.1 366.6L171.3 377.5L171.5 353.7L171.7 378.4L171.9 353.4L171.9 367.7L172.1 374.3L172.3 371.5L172.5 372.6L172.7 362.1L172.9 374.8L173.1 365.9L173.3 370.6L173.5 367.1L173.7 372.8L173.9 376.1L174.1 373.4L174.3 370.7L174.5 363.7L174.5 372.6L174.7 368.2L174.9 374.5L175.1 367.0L175.3 374.2L175.5 371.7L175.7 372.0L175.9 363.6L176.1 371.3L176.3 364.9L176.5 369.6L176.7 374.7L176.9 371.0L177.0 356.5L177.1 365.0L177.3 373.2L177.5 364.1L177.7 377.7L177.9 376.0L178.1 379.7L178.3 367.8L178.5 379.8L178.7 370.3L178.8 367.8L178.9 378.7L179.1 374.6L179.3 380.2L179.5 368.5L179.7 380.0L179.9 372.6L180.1 381.0L180.3 375.3L180.5 381.1L180.7 368.8L180.7 378.2L180.9 381.6L181.1 377.5L181.3 381.2L181.5 378.2L181.7 383.1L181.9 377.2L182.1 383.1L182.3 376.8L182.5 380.7L182.7 376.4L182.9 381.1L183.1 373.5L183.3 381.5L183.5 371.9L183.5 373.8L183.7 380.4L183.9 378.2L184.1 380.7L184.3 373.5L184.5 382.0L184.7 379.4L184.9 382.0L185.1 380.2L185.3 382.1L185.5 377.1L185.7 381.8L185.9 374.0L186.1 380.8L186.3 380.4L186.5 381.0L186.7 378.5L186.9 380.4L187.0 373.9L187.1 379.0L187.3 381.6L187.5 376.0L187.7 381.4L187.9 376.9L188.1 382.0L188.3 376.9L188.5 381.7L188.7 377.7L188.9 381.9L189.1 377.8L189.3 381.9L189.5 377.5L189.7 380.9L189.9 379.2L190.1 381.4L190.3 378.3L190.5 377.0L190.5 380.9L190.7 380.0L190.9 380.3L191.1 381.1L191.3 381.3L191.5 377.7L191.7 381.3L191.9 381.8L192.1 382.5L192.3 381.8L192.5 383.1L192.7 382.0L192.9 383.5L193.1 380.2L193.3 383.3L193.5 378.9L193.7 383.0L193.9 380.7L194.1 382.5L194.3 379.6L194.5 379.1L194.5 382.0L194.7 380.3L194.9 382.4L195.1 381.8L195.3 383.0L195.5 381.8L195.7 382.5L195.9 381.9L196.1 382.4L196.3 380.6L196.5 382.9L196.7 381.2L196.9 382.9L197.1 382.3L197.3 382.4L197.5 380.7L197.7 382.7L197.9 381.9L198.1 382.8L198.3 382.8L198.5 382.5L198.7 381.7L198.9 382.6L199.1 382.5L199.3 382.7L199.5 382.2L199.7 383.1L199.9 382.8L200.1 383.1L200.3 382.7L200.5 383.5L200.7 383.2L200.9 383.6L201.1 382.8L201.3 383.8L201.5 383.1L201.7 383.7L201.9 383.6L202.1 383.2L202.1 383.8L202.3 383.3L202.5 383.8L202.7 383.6L202.9 383.8L203.1 383.6L203.3 383.9L203.5 383.6L203.7 383.9L203.9 383.7L204.1 383.9L204.3 383.7L204.5 383.8L204.7 383.6L204.9 384.0L205.1 383.7L205.3 384.0L205.5 383.7L205.7 384.0L205.9 383.7L206.1 384.0L206.3 383.8L206.5 384.0L206.7 383.8L206.9 383.9L207.1 383.8L207.3 383.9L207.5 383.8L207.7 383.9L207.9 383.8L208.1 383.9L208.3 383.8L208.5 383.9L208.7 383.8L208.9 383.8L209.1 383.7L209.3 383.9L209.5 383.9L209.7 384.0L209.9 383.9L210.1 384.0L210.3 383.9L210.5 384.0L210.7 383.8L210.9 384.0L211.1 383.9L211.3 384.0L211.5 383.9L211.7 384.0L211.9 383.9L212.1 384.0L212.3 383.9L212.5 384.0L212.7 384.0L212.9 384.1L213.1 384.0L213.3 384.1L213.5 384.0L213.7 384.1L213.9 384.1L214.1 384.1L214.3 384.1L214.5 384.1L214.7 384.1L214.9 384.1L215.1 384.1L215.3 384.2L215.5 384.2L215.7 384.2L215.9 384.2L216.1 384.2L216.3 384.2L216.5 384.2L216.5 384.2L216.7 384.2L216.9 384.2L217.1 384.2L217.3 384.2L217.5 384.2L217.7 384.2L217.9 384.2L218.1 384.2L218.3 384.2L218.5 384.2L218.7 384.2L218.9 384.2L219.1 384.2L219.3 384.2L219.5 384.2L219.7 384.2L219.9 384.2L220.1 384.2L220.3 384.2L220.5 384.2L220.7 384.2L220.9 384.2L221.1 384.2L221.3 384.2L221.5 384.2L221.7 384.2L221.9 384.2L222.1 384.2L222.3 384.2L222.5 384.2L222.7 384.2L222.9 384.2L223.1 384.2L223.3 384.2L223.5 384.2L223.7 384.2L223.9 384.2L224.1 384.2L224.3 384.2L224.5 384.2L224.7 384.2L224.9 384.2L225.1 384.2L225.3 384.2L225.5 384.2L225.7 384.2L225.9 384.2L226.1 384.2L226.3 384.2L226.5 384.2L226.7 384.2L226.9 384.2L227.1 384.2L227.3 384.2L227.5 384.2L227.7 384.2L227.9 384.2L228.1 384.2L228.3 384.2L228.5 384.2L228.7 384.2L228.9 384.2L229.1 384.2L229.3 384.2L229.5 384.2L229.7 384.2L229.9 384.2L230.1 384.2L230.3 384.2L230.5 384.2L230.7 384.2L230.9 384.2L231.1 384.2L231.3 384.2L231.5 384.2L231.7 384.2L231.9 384.2L232.1 384.2L232.3 384.2L232.5 384.2L232.7 384.2L232.9 384.2L233.1 384.2L233.3 384.2L233.5 384.2L233.7 384.2L233.9 384.2L234.1 384.2L234.3 384.2L234.5 384.2L234.7 384.2L234.9 384.2L235.1 384.2L235.3 384.2L235.5 384.2L235.7 384.2L235.9 384.2L236.1 384.2L236.3 384.2L236.5 384.2L236.7 384.2L236.9 384.2L237.1 384.2L237.3 384.2L237.5 384.2L237.7 384.2L237.9 384.2L238.1 384.2L238.3 384.2L238.5 384.2" stroke="#1652a3" stroke-width="1.9" fill="none" stroke-linejoin="round" clip-path="url(#cp20)"/>
<clipPath id="cp21"><rect x="289.5" y="281.0" width="174.0" height="104.69999999999999"/></clipPath>
<path d="M290.5 384.2L290.5 384.2L301.1 383.9L308.0 383.8L312.9 383.6L316.7 383.5L319.8 383.5L322.4 383.4L324.7 383.3L326.7 383.3L328.5 383.2L330.1 383.2L330.7 383.2L331.6 383.0L333.0 382.9L334.2 382.7L335.4 382.5L336.5 382.4L337.5 382.2L338.2 382.1L338.5 381.9L339.4 381.7L340.3 381.7L341.1 380.3L341.9 380.5L342.7 379.6L343.2 378.0L343.4 378.2L344.1 378.6L344.8 377.6L345.4 376.1L345.7 375.0L346.0 378.0L346.6 376.0L347.2 377.2L347.8 378.8L348.3 378.8L348.8 378.9L349.3 378.6L349.5 376.0L349.8 377.9L350.3 378.6L350.8 377.7L351.2 379.3L351.7 379.2L352.1 379.4L352.5 379.5L352.9 379.2L353.3 379.1L353.3 379.2L353.7 378.0L354.1 377.7L354.5 378.0L354.8 378.0L355.2 377.4L355.6 374.0L355.9 374.3L356.2 372.1L356.3 370.8L356.6 374.9L356.9 374.8L357.2 373.9L357.5 370.5L357.8 364.0L358.1 354.9L358.4 360.2L358.7 350.0L358.8 348.3L359.0 350.7L359.3 350.3L359.6 368.1L359.8 351.6L360.1 365.2L360.4 370.3L360.6 356.6L360.8 350.3L360.9 370.9L361.1 364.8L361.4 355.0L361.6 365.2L361.9 359.4L362.1 365.0L362.3 359.0L362.6 357.1L362.8 360.3L363.0 326.0L363.3 350.6L363.3 310.3L363.5 357.6L363.7 323.3L363.9 333.6L364.1 364.4L364.3 371.0L364.5 353.4L364.7 322.6L364.9 325.4L365.1 333.6L365.3 370.1L365.5 315.9L365.7 358.7L365.8 300.0L365.9 347.2L366.1 368.6L366.3 328.2L366.5 360.4L366.7 344.0L366.9 367.4L367.1 335.6L367.3 366.3L367.5 327.7L367.7 365.3L367.9 360.1L368.1 371.6L368.3 338.0L368.3 341.8L368.5 367.6L368.7 355.0L368.9 371.7L369.1 330.7L369.3 362.8L369.5 362.1L369.7 366.5L369.9 344.8L370.1 372.3L370.3 319.5L370.3 336.8L370.5 370.9L370.7 351.5L370.9 361.6L371.1 327.7L371.3 369.7L371.5 363.3L371.7 359.6L371.9 353.9L372.1 352.9L372.3 337.2L372.5 365.8L372.7 341.1L372.8 332.9L372.9 365.0L373.1 355.8L373.3 371.4L373.5 322.6L373.7 371.5L373.9 342.7L374.1 358.7L374.3 335.1L374.5 358.6L374.7 348.1L374.9 355.7L375.1 289.7L375.1 299.7L375.3 350.6L375.5 341.5L375.7 351.7L375.9 351.2L376.1 352.5L376.3 341.9L376.5 360.5L376.7 361.0L376.9 367.4L377.1 359.2L377.3 362.2L377.5 339.5L377.6 332.9L377.7 362.9L377.9 362.6L378.1 366.0L378.3 341.2L378.5 370.6L378.7 357.7L378.9 372.3L379.1 359.8L379.3 375.0L379.5 352.6L379.7 371.0L379.9 363.2L380.1 371.4L380.3 359.5L380.5 374.0L380.7 357.1L380.9 367.7L381.1 356.0L381.3 365.2L381.4 327.7L381.5 356.8L381.7 362.1L381.9 339.5L382.1 360.5L382.3 351.1L382.5 366.2L382.7 363.7L382.9 372.2L383.1 363.3L383.3 372.7L383.5 361.8L383.7 374.9L383.9 353.4L383.9 369.8L384.1 373.5L384.3 362.3L384.5 373.9L384.7 355.1L384.9 381.1L385.1 353.6L385.3 380.4L385.5 351.7L385.7 377.2L385.9 351.8L386.1 375.9L386.3 364.0L386.5 374.4L386.7 341.1L386.7 347.3L386.9 368.6L387.1 365.3L387.3 368.5L387.5 359.8L387.7 366.4L387.9 362.9L388.1 364.5L388.3 363.3L388.5 362.7L388.7 353.6L388.9 363.0L389.1 358.2L389.3 361.7L389.5 351.6L389.7 362.6L389.9 354.0L390.1 370.6L390.2 345.2L390.3 369.2L390.5 375.0L390.7 370.1L390.9 379.2L391.1 355.3L391.3 377.0L391.5 352.3L391.7 378.3L391.9 365.9L392.1 377.4L392.3 360.3L392.5 380.2L392.7 369.9L392.9 379.5L393.1 373.8L393.3 379.5L393.4 361.6L393.5 369.2L393.7 377.2L393.9 376.4L394.1 378.5L394.3 373.3L394.5 374.7L394.7 371.1L394.9 378.1L395.1 375.1L395.3 377.8L395.5 375.6L395.7 378.1L395.9 376.5L396.1 376.8L396.3 375.4L396.5 378.6L396.7 369.7L396.9 381.1L397.1 374.6L397.2 363.7L397.3 381.2L397.5 370.0L397.7 379.6L397.9 375.7L398.1 381.1L398.3 376.6L398.5 382.9L398.7 374.3L398.9 382.1L399.1 365.6L399.3 380.9L399.5 377.3L399.7 365.7L399.7 383.0L399.9 377.4L400.1 380.5L400.3 374.4L400.5 379.3L400.7 374.6L400.9 380.7L401.1 368.4L401.3 383.0L401.5 366.3L401.7 379.5L401.9 367.2L402.1 382.2L402.3 377.6L402.5 382.9L402.7 368.2L402.9 379.8L403.1 374.0L403.3 380.4L403.5 367.7L403.7 378.4L403.9 374.1L404.1 377.4L404.3 370.4L404.5 377.1L404.7 373.6L404.9 378.5L405.1 373.5L405.3 378.1L405.5 366.7L405.5 374.9L405.7 380.3L405.9 374.3L406.1 381.0L406.3 378.7L406.5 382.4L406.7 372.2L406.9 383.2L407.1 379.6L407.3 383.8L407.5 380.1L407.7 383.0L407.9 377.6L408.1 382.8L408.3 375.6L408.5 376.0L408.5 383.2L408.7 381.1L408.9 382.8L409.1 380.0L409.3 382.5L409.5 377.6L409.7 381.0L409.9 377.8L410.1 382.0L410.3 380.7L410.5 380.8L410.7 381.4L410.9 381.7L411.1 378.7L411.3 381.8L411.5 379.1L411.7 383.1L411.9 381.7L412.1 383.4L412.3 379.5L412.5 382.8L412.7 380.1L412.9 382.1L413.1 379.7L413.3 381.4L413.5 380.2L413.7 381.2L413.9 380.2L414.1 381.8L414.3 381.0L414.5 381.5L414.7 381.5L414.9 381.9L415.1 382.1L415.3 382.1L415.5 380.7L415.7 382.5L415.9 381.8L416.0 380.1L416.1 382.7L416.3 382.0L416.5 383.1L416.7 380.4L416.9 382.8L417.1 382.0L417.3 382.5L417.5 381.4L417.7 382.4L417.9 381.5L418.1 382.5L418.3 381.4L418.5 382.6L418.7 381.8L418.9 382.4L419.1 381.6L419.3 382.8L419.5 381.9L419.7 382.7L419.9 382.8L420.1 382.9L420.3 382.8L420.5 382.8L420.7 381.9L420.9 383.2L421.1 382.7L421.3 383.3L421.5 383.0L421.7 383.4L421.9 382.7L422.1 383.5L422.3 382.6L422.5 383.6L422.7 382.6L422.9 383.7L423.1 383.1L423.3 383.7L423.5 382.7L423.5 383.3L423.7 383.6L423.9 383.2L424.1 383.7L424.3 383.2L424.5 383.7L424.7 383.3L424.9 383.7L425.1 383.0L425.3 383.8L425.5 383.5L425.7 383.8L425.9 383.0L426.1 383.6L426.3 383.5L426.5 383.6L426.7 383.3L426.9 383.8L427.1 383.2L427.3 383.6L427.5 383.0L427.7 383.5L427.9 383.1L428.1 383.6L428.3 383.4L428.5 383.6L428.7 383.5L428.9 383.5L429.1 383.4L429.3 383.7L429.5 383.5L429.7 383.6L429.9 383.4L430.1 383.7L430.3 383.4L430.5 383.8L430.7 383.4L430.9 383.8L431.1 383.6L431.3 383.8L431.5 383.5L431.7 383.7L431.9 383.2L432.1 383.7L432.3 383.3L432.5 383.7L432.7 383.4L432.9 383.8L433.1 383.3L433.3 383.8L433.5 383.6L433.7 383.7L433.9 383.6L434.1 383.8L434.3 383.6L434.5 383.8L434.7 383.7L434.9 383.8L435.1 383.7L435.3 383.7L435.5 383.7L435.7 383.7L435.9 383.6L436.1 383.7L436.3 383.4L436.5 383.7L436.7 383.7L436.9 383.8L437.1 383.7L437.3 383.8L437.5 383.5L437.7 383.8L437.9 383.6L438.1 383.9L438.3 383.7L438.5 383.8L438.7 383.7L438.9 383.8L439.1 383.7L439.3 383.8L439.5 383.6L439.7 383.9L439.9 383.7L440.1 383.9L440.3 383.7L440.5 383.7L440.5 383.9L440.7 383.7L440.9 383.9L441.1 383.7L441.3 383.9L441.5 383.8L441.7 383.9L441.9 383.8L442.1 383.9L442.3 383.9L442.5 383.9L442.7 383.8L442.9 383.9L443.1 383.8L443.3 383.9L443.5 383.8L443.7 383.9L443.9 383.8L444.1 383.9L444.3 383.8L444.5 383.9L444.7 383.9L444.9 383.9L445.1 383.9L445.3 383.9L445.5 383.9L445.7 383.9L445.9 383.8L446.1 384.0L446.3 383.9L446.5 384.0L446.7 383.9L446.9 384.0L447.1 383.9L447.3 384.0L447.5 383.9L447.7 384.0L447.9 383.9L448.1 384.0L448.3 384.0L448.5 384.0L448.7 383.9L448.9 384.0L449.1 384.0L449.3 384.0L449.5 384.0L449.7 384.0L449.9 383.9L450.1 384.0L450.3 383.9L450.5 384.0L450.7 384.0L450.9 384.0L451.1 384.0L451.3 384.0L451.5 384.0L451.7 384.0L451.9 384.0L452.1 384.0L452.3 384.0L452.5 384.0L452.7 384.0L452.9 384.0L453.1 384.0L453.3 384.1L453.5 384.0L453.7 384.1L453.9 384.0L454.1 384.1L454.3 384.0L454.5 384.1L454.7 384.1L454.9 384.1L455.1 384.1L455.3 384.1L455.5 384.1L455.7 384.1L455.9 384.1L456.1 384.1L456.3 384.1L456.5 384.1L456.7 384.1L456.9 384.1L457.1 384.1L457.3 384.1L457.5 384.1L457.7 384.1L457.9 384.1L458.1 384.1L458.3 384.1L458.5 384.1L458.7 384.1L458.9 384.1L459.1 384.1L459.3 384.1L459.5 384.1L459.7 384.1L459.9 384.1L460.1 384.2L460.3 384.2L460.5 384.2L460.7 384.2L460.9 384.2L461.1 384.2L461.3 384.2L461.5 384.2L461.7 384.2L461.9 384.2L462.1 384.2L462.3 384.2L462.5 384.2" stroke="#1652a3" stroke-width="1.9" fill="none" stroke-linejoin="round" clip-path="url(#cp21)"/>
<clipPath id="cp22"><rect x="511.5" y="281.0" width="174.0" height="104.69999999999999"/></clipPath>
<path d="M512.5 384.2L512.5 384.2L523.1 384.1L530.0 384.0L534.9 383.9L538.7 383.9L541.8 383.8L544.4 383.8L546.7 383.7L548.7 383.7L550.5 383.7L551.4 383.7L552.1 383.5L553.6 383.1L555.0 382.8L556.2 382.5L557.4 382.2L557.7 382.1L558.5 381.7L559.5 381.2L560.5 380.6L561.4 380.5L561.5 380.1L562.3 379.9L563.1 378.5L563.9 376.2L564.0 376.0L564.7 376.2L565.4 373.0L566.1 375.1L566.5 369.8L566.8 373.9L567.4 372.5L568.0 375.3L568.6 371.9L569.0 371.9L569.2 371.0L569.8 369.7L570.3 365.7L570.8 369.4L571.0 360.6L571.3 365.8L571.8 367.9L572.3 366.0L572.8 368.1L572.8 363.7L573.2 373.8L573.7 379.3L574.0 384.2L574.1 383.0L574.5 379.6L574.9 376.3L575.3 370.7L575.7 366.8L575.8 363.7L576.1 367.7L576.5 368.2L576.8 366.2L577.2 356.3L577.3 338.0L577.6 347.5L577.9 364.0L578.2 337.0L578.6 368.5L578.9 333.2L579.2 367.1L579.5 326.7L579.5 351.7L579.8 366.7L580.1 358.5L580.4 365.6L580.7 366.4L580.8 353.4L581.0 364.4L581.3 349.4L581.6 345.4L581.8 361.8L582.1 353.2L582.4 353.7L582.6 367.9L582.9 349.9L583.1 335.2L583.3 326.7L583.4 360.0L583.6 353.6L583.9 367.5L584.1 348.0L584.3 348.3L584.6 368.3L584.8 362.9L585.0 363.2L585.3 367.6L585.5 355.3L585.7 347.5L585.8 348.3L585.9 359.9L586.1 368.8L586.3 355.5L586.5 360.7L586.7 361.1L586.9 347.2L587.1 367.4L587.3 367.7L587.5 363.8L587.7 364.5L587.9 360.3L588.1 366.6L588.3 335.9L588.3 344.8L588.5 366.9L588.7 337.9L588.9 359.8L589.1 341.2L589.3 355.8L589.5 349.8L589.7 361.5L589.9 347.2L590.1 362.8L590.3 351.2L590.5 361.7L590.7 335.0L590.9 361.2L591.1 366.4L591.3 365.9L591.5 363.7L591.6 332.9L591.7 366.1L591.9 344.1L592.1 364.6L592.3 357.5L592.5 366.9L592.7 321.5L592.9 367.0L593.1 327.2L593.3 368.0L593.5 358.8L593.7 365.0L593.9 313.7L594.1 362.4L594.3 312.1L594.5 369.0L594.7 353.0L594.8 300.0L594.9 362.1L595.1 326.6L595.3 361.7L595.5 344.2L595.7 362.5L595.9 340.7L596.1 362.9L596.3 344.1L596.5 364.9L596.7 323.5L596.9 367.4L597.1 326.9L597.3 361.5L597.5 350.8L597.7 369.9L597.9 322.6L597.9 353.0L598.1 358.3L598.3 360.5L598.5 356.6L598.7 353.4L598.9 360.9L599.1 345.1L599.3 362.2L599.5 329.0L599.7 358.1L599.9 306.4L600.1 363.2L600.3 303.7L600.5 362.2L600.7 296.8L600.9 288.7L600.9 358.9L601.1 333.1L601.3 372.9L601.5 307.8L601.7 371.4L601.9 348.5L602.1 367.6L602.3 292.2L602.5 360.8L602.7 335.1L602.9 371.4L603.1 317.6L603.3 364.0L603.4 281.5L603.5 348.1L603.7 366.4L603.9 329.2L604.1 366.7L604.3 344.9L604.5 356.5L604.7 329.6L604.9 364.1L605.1 327.7L605.3 366.3L605.5 357.6L605.7 374.8L605.9 327.7L605.9 362.4L606.1 365.8L606.3 359.8L606.5 362.8L606.7 360.7L606.9 365.2L607.1 325.5L607.3 374.5L607.5 350.1L607.7 373.9L607.9 353.6L608.1 361.7L608.3 330.6L608.4 300.0L608.5 374.9L608.7 338.7L608.9 364.2L609.1 334.6L609.3 365.1L609.5 353.2L609.7 358.2L609.9 359.1L610.1 355.6L610.3 344.1L610.5 365.3L610.7 331.0L610.9 364.3L611.1 359.4L611.3 369.2L611.5 341.3L611.7 338.0L611.7 380.5L611.9 348.6L612.1 375.1L612.3 345.2L612.5 373.5L612.7 354.8L612.9 371.6L613.1 347.6L613.3 376.3L613.5 344.4L613.7 373.9L613.9 364.9L614.1 380.9L614.3 351.6L614.5 373.5L614.7 333.2L614.9 375.3L615.1 356.7L615.3 372.5L615.5 329.0L615.7 376.6L615.9 364.0L616.1 378.8L616.3 335.4L616.5 376.7L616.7 324.6L616.7 359.8L616.9 370.5L617.1 345.6L617.3 362.9L617.5 336.4L617.7 359.7L617.9 342.5L618.1 357.0L618.3 364.1L618.5 365.4L618.7 361.6L618.9 368.5L619.1 354.2L619.3 370.0L619.5 346.7L619.7 371.8L619.9 347.9L620.1 378.6L620.3 364.3L620.5 345.2L620.5 376.5L620.7 363.7L620.9 376.2L621.1 366.7L621.3 373.4L621.5 351.5L621.7 378.1L621.9 358.3L622.1 373.5L622.3 367.8L622.5 369.0L622.7 369.6L622.9 369.5L623.0 343.1L623.1 350.6L623.3 369.0L623.5 347.9L623.7 364.5L623.9 355.3L624.1 363.4L624.3 363.3L624.5 365.0L624.7 363.9L624.9 369.3L625.1 371.4L625.3 371.1L625.5 361.4L625.7 372.1L625.9 362.3L626.1 374.9L626.3 363.0L626.5 373.1L626.7 358.5L626.7 362.8L626.9 373.7L627.1 370.8L627.3 374.6L627.5 365.2L627.7 374.0L627.9 373.6L628.1 372.6L628.3 372.8L628.5 370.8L628.7 373.1L628.9 373.7L629.1 367.3L629.3 372.9L629.5 376.4L629.7 372.4L629.9 374.7L630.1 373.7L630.3 372.2L630.5 363.7L630.5 375.4L630.7 364.2L630.9 374.5L631.1 376.7L631.3 376.3L631.5 368.4L631.7 376.8L631.9 369.4L632.1 380.0L632.3 372.1L632.5 381.4L632.7 373.1L632.9 381.2L633.1 377.8L633.3 379.1L633.5 373.9L633.7 380.0L633.9 375.4L634.1 378.7L634.3 374.8L634.5 378.9L634.7 378.4L634.9 381.1L635.1 378.4L635.3 380.6L635.5 369.8L635.5 379.0L635.7 381.3L635.9 370.9L636.1 381.6L636.3 372.5L636.5 381.5L636.7 377.6L636.9 380.7L637.1 376.4L637.3 379.0L637.5 374.1L637.7 379.6L637.9 376.2L638.1 380.1L638.3 379.8L638.5 379.3L638.7 379.4L638.9 378.4L639.1 377.3L639.3 381.2L639.5 372.7L639.7 380.4L639.9 377.8L640.1 382.7L640.3 379.8L640.5 382.6L640.7 375.0L640.9 382.8L641.1 374.8L641.3 383.7L641.5 376.0L641.7 382.7L641.9 378.9L642.1 381.8L642.3 380.0L642.5 383.6L642.7 380.3L642.9 381.6L643.1 375.0L643.1 380.1L643.3 383.1L643.5 381.0L643.7 382.8L643.9 376.5L644.1 382.2L644.3 377.1L644.5 383.6L644.7 377.7L644.9 383.1L645.1 381.3L645.3 383.1L645.5 381.4L645.7 383.7L645.9 380.7L646.1 383.3L646.3 381.4L646.5 383.9L646.7 381.8L646.9 383.8L647.1 382.0L647.3 383.5L647.5 382.5L647.7 382.9L647.9 379.9L648.1 383.4L648.3 380.6L648.5 383.3L648.7 381.2L648.9 383.1L649.1 381.6L649.3 381.1L649.3 383.3L649.5 382.6L649.7 383.5L649.9 382.9L650.1 383.4L650.3 382.3L650.5 383.3L650.7 381.7L650.9 383.1L651.1 382.7L651.3 382.9L651.5 382.0L651.7 383.0L651.9 382.5L652.1 383.0L652.3 382.9L652.5 383.1L652.7 382.2L652.9 382.9L653.1 383.0L653.3 383.2L653.5 382.4L653.7 383.3L653.9 382.4L654.1 383.5L654.3 383.2L654.5 383.4L654.7 382.9L654.9 383.5L655.1 382.9L655.3 383.6L655.5 382.6L655.7 383.4L655.9 383.0L656.1 383.6L656.3 383.0L656.5 383.4L656.7 382.9L656.9 383.6L657.1 383.5L657.3 383.7L657.5 383.6L657.7 383.7L657.9 383.5L658.1 383.2L658.1 383.8L658.3 383.4L658.5 383.7L658.7 383.5L658.9 383.7L659.1 383.5L659.3 383.7L659.5 383.4L659.7 383.6L659.9 383.5L660.1 383.6L660.3 383.6L660.5 383.7L660.7 383.6L660.9 383.6L661.1 383.4L661.3 383.7L661.5 383.3L661.7 383.7L661.9 383.7L662.1 383.8L662.3 383.5L662.5 383.7L662.7 383.4L662.9 383.8L663.1 383.6L663.3 383.8L663.5 383.5L663.7 383.8L663.9 383.7L664.1 383.8L664.3 383.6L664.5 383.8L664.7 383.6L664.9 383.9L665.1 383.5L665.3 383.8L665.5 383.5L665.7 383.8L665.9 383.5L666.1 383.9L666.3 383.7L666.5 383.9L666.7 383.5L666.9 383.9L667.1 383.7L667.3 383.9L667.5 383.6L667.7 383.9L667.9 383.6L668.1 383.9L668.3 383.7L668.5 383.8L668.7 383.7L668.9 383.8L669.1 383.6L669.3 383.8L669.5 383.7L669.7 383.8L669.9 383.8L670.1 383.8L670.3 383.7L670.5 383.8L670.7 383.8L670.9 383.8L671.1 383.8L671.3 383.8L671.5 383.8L671.7 383.8L671.9 383.8L672.1 383.8L672.3 383.8L672.5 383.9L672.7 383.8L672.9 383.9L673.1 383.9L673.3 383.9L673.5 383.8L673.7 383.9L673.9 383.9L674.1 383.9L674.3 383.9L674.5 383.9L674.7 383.9L674.9 383.9L675.1 383.9L675.3 383.9L675.5 383.9L675.7 383.9L675.9 384.0L676.1 384.0L676.3 383.9L676.5 384.0L676.7 384.0L676.9 384.0L677.1 384.0L677.3 384.0L677.5 383.9L677.7 384.0L677.9 384.0L678.1 384.0L678.3 384.0L678.5 384.0L678.7 384.0L678.9 384.0L679.1 384.0L679.3 384.1L679.5 384.0L679.7 384.1L679.9 384.0L680.1 384.1L680.3 384.0L680.5 384.1L680.7 384.1L680.9 384.1L681.1 384.1L681.3 384.1L681.5 384.1L681.7 384.1L681.9 384.1L682.1 384.1L682.3 384.1L682.5 384.1L682.7 384.1L682.9 384.1L683.1 384.2L683.3 384.2L683.5 384.2L683.7 384.2L683.9 384.2L684.1 384.2L684.3 384.2L684.5 384.2" stroke="#1652a3" stroke-width="1.9" fill="none" stroke-linejoin="round" clip-path="url(#cp22)"/>
<clipPath id="cp30"><rect x="65.5" y="412.0" width="174.0" height="105.10000000000002"/></clipPath>
<path d="M66.5 515.3L66.5 515.3L77.1 515.3L84.0 515.3L88.9 515.3L92.7 515.3L95.8 515.3L98.4 515.3L100.7 515.3L102.7 515.3L104.5 515.3L106.1 515.3L106.5 515.3L107.6 515.2L109.0 515.0L110.2 514.9L111.4 514.8L111.7 514.8L112.5 514.7L113.5 514.5L114.5 514.4L115.4 514.2L116.3 514.1L116.7 514.1L117.1 514.0L117.9 513.8L118.7 513.7L119.4 513.6L120.1 513.5L120.8 513.3L121.4 513.2L122.0 513.1L122.6 513.0L123.2 512.9L123.8 512.8L124.3 512.7L124.8 513.0L125.3 512.9L125.5 512.5L125.8 512.9L126.3 512.3L126.8 512.6L127.2 510.1L127.7 510.4L128.0 508.4L128.1 510.0L128.5 511.9L128.9 509.6L129.3 509.8L129.7 512.0L130.1 511.0L130.5 511.2L130.8 511.4L131.2 512.4L131.3 511.5L131.6 512.4L131.9 510.9L132.2 511.5L132.6 511.4L132.9 507.8L133.2 508.8L133.5 510.3L133.8 503.2L133.8 507.3L134.1 511.6L134.4 504.3L134.7 508.6L135.0 507.6L135.3 506.7L135.6 510.8L135.8 506.9L136.1 511.5L136.4 508.4L136.6 507.8L136.8 507.4L136.9 509.4L137.1 510.0L137.4 510.8L137.6 510.5L137.9 511.1L138.1 511.2L138.3 511.3L138.6 508.7L138.8 504.4L139.0 507.7L139.3 511.5L139.3 495.0L139.5 511.3L139.7 507.4L139.9 501.7L140.1 503.7L140.3 505.0L140.5 511.5L140.7 504.1L140.9 496.1L141.1 505.2L141.3 505.9L141.5 498.3L141.7 511.6L141.8 484.7L141.9 494.9L142.1 506.9L142.3 487.7L142.5 500.3L142.7 497.1L142.9 499.3L143.1 496.3L143.3 496.5L143.5 489.3L143.7 501.2L143.9 481.1L144.1 501.1L144.3 500.7L144.5 504.7L144.7 484.5L144.8 479.5L144.9 506.7L145.1 497.6L145.3 508.6L145.5 492.6L145.7 508.9L145.9 489.1L146.1 510.5L146.3 493.5L146.5 508.0L146.7 495.0L146.9 508.5L147.1 499.9L147.3 491.9L147.3 506.0L147.5 498.0L147.7 504.0L147.9 486.2L148.1 498.7L148.3 498.5L148.5 499.6L148.7 486.9L148.9 498.8L149.1 482.1L149.3 503.4L149.5 477.3L149.7 512.2L149.9 472.1L150.1 464.1L150.1 507.9L150.3 484.6L150.5 501.5L150.7 480.1L150.9 512.1L151.1 472.0L151.3 512.3L151.5 480.4L151.7 503.6L151.9 472.9L152.1 505.8L152.3 490.7L152.5 502.1L152.7 496.9L152.9 503.5L153.1 476.4L153.1 495.1L153.3 498.6L153.5 500.3L153.7 501.7L153.9 496.3L154.1 499.3L154.3 480.0L154.5 494.8L154.7 496.8L154.9 502.0L155.1 471.2L155.3 498.8L155.5 495.7L155.7 499.0L155.9 485.8L156.1 464.1L156.1 507.3L156.3 473.2L156.5 506.8L156.7 493.7L156.9 508.2L157.1 489.3L157.3 507.5L157.5 499.6L157.7 509.9L157.9 500.5L158.1 505.6L158.3 504.5L158.5 507.0L158.7 500.8L158.9 489.8L158.9 502.4L159.1 505.8L159.3 498.8L159.5 498.2L159.7 501.6L159.9 501.7L160.1 498.2L160.3 491.8L160.5 502.0L160.7 497.4L160.9 501.2L161.1 485.4L161.3 497.3L161.5 479.3L161.7 504.8L161.9 467.1L161.9 480.1L162.1 500.6L162.3 477.3L162.5 499.0L162.7 481.4L162.9 504.0L163.1 467.9L163.3 502.5L163.5 496.6L163.7 493.1L163.9 495.8L164.1 493.5L164.3 485.7L164.4 458.9L164.5 486.9L164.7 464.1L164.9 482.2L165.1 476.9L165.3 483.0L165.5 488.1L165.7 478.8L165.9 461.7L166.1 471.9L166.3 481.2L166.5 481.3L166.7 425.9L166.7 478.7L166.9 491.8L167.1 477.1L167.3 500.8L167.5 447.9L167.7 488.7L167.9 489.9L168.1 497.4L168.3 490.1L168.5 491.0L168.7 478.9L168.9 464.1L168.9 490.1L169.1 486.4L169.3 492.9L169.5 491.4L169.7 497.1L169.9 478.0L170.1 504.2L170.3 500.3L170.5 502.1L170.7 501.1L170.9 507.2L171.1 500.6L171.3 509.0L171.4 489.8L171.5 492.0L171.7 505.4L171.9 488.1L172.1 507.7L172.3 495.8L172.5 505.7L172.7 483.2L172.9 508.2L173.1 481.5L173.3 502.0L173.5 490.4L173.7 502.5L173.9 500.3L174.1 505.7L174.3 482.2L174.5 472.3L174.5 504.5L174.7 486.4L174.9 502.7L175.1 473.9L175.3 499.4L175.5 484.5L175.7 498.1L175.9 500.5L176.1 506.5L176.3 479.6L176.5 504.9L176.7 496.0L176.9 513.2L177.1 498.7L177.3 506.1L177.5 484.3L177.7 512.6L177.9 481.0L178.1 513.0L178.2 474.4L178.3 487.6L178.5 503.9L178.7 489.6L178.9 506.3L179.1 482.7L179.3 506.0L179.5 482.3L179.7 504.6L179.9 486.6L180.1 505.8L180.3 500.9L180.5 506.7L180.7 487.6L180.9 507.5L181.1 495.5L181.3 505.7L181.5 489.8L181.5 504.3L181.7 504.6L181.9 493.5L182.1 505.1L182.3 491.0L182.5 503.8L182.7 500.8L182.9 507.1L183.1 495.0L183.3 505.7L183.5 494.0L183.7 505.9L183.9 496.1L184.1 505.9L184.3 496.8L184.5 491.9L184.5 505.3L184.7 506.4L184.9 504.5L185.1 498.9L185.3 506.7L185.5 496.4L185.7 508.9L185.9 506.3L186.1 509.8L186.3 502.3L186.5 510.3L186.7 508.9L186.9 512.8L187.1 500.2L187.3 513.4L187.5 509.7L187.7 513.8L187.9 505.5L188.1 511.8L188.3 510.1L188.5 512.3L188.7 507.3L188.9 511.4L189.1 506.2L189.3 510.9L189.5 503.2L189.5 511.1L189.7 510.7L189.9 507.2L190.1 512.2L190.3 507.4L190.5 512.2L190.7 509.3L190.9 512.2L191.1 506.6L191.3 513.2L191.5 509.4L191.7 514.0L191.9 508.2L192.1 514.4L192.3 506.5L192.5 514.4L192.7 511.9L192.9 514.4L193.1 512.4L193.3 514.9L193.5 508.3L193.7 515.2L193.9 511.9L194.1 514.0L194.3 509.7L194.5 508.4L194.5 515.3L194.7 512.5L194.9 514.3L195.1 510.5L195.3 514.2L195.5 512.2L195.7 513.1L195.9 511.3L196.1 513.5L196.3 513.1L196.5 512.8L196.7 512.3L196.9 513.5L197.1 512.2L197.3 513.4L197.5 512.7L197.7 513.3L197.9 513.4L198.1 513.4L198.3 512.5L198.5 514.1L198.7 513.7L198.9 513.9L199.1 512.2L199.3 514.4L199.5 513.1L199.7 514.5L199.9 513.5L200.1 514.5L200.3 512.7L200.5 514.5L200.7 514.2L200.8 513.0L200.9 514.9L201.1 513.2L201.3 514.7L201.5 513.4L201.7 514.7L201.9 514.0L202.1 514.8L202.3 513.5L202.5 514.6L202.7 514.3L202.9 514.4L203.1 514.0L203.3 514.6L203.5 514.6L203.7 514.4L203.9 514.2L204.1 514.3L204.3 513.8L204.5 514.4L204.7 514.6L204.9 514.6L205.1 514.1L205.3 515.0L205.5 514.1L205.7 514.9L205.9 514.7L206.1 514.9L206.3 514.4L206.5 515.0L206.7 514.4L206.9 514.9L207.1 514.4L207.3 514.9L207.5 514.9L207.7 514.9L207.9 514.7L208.1 514.9L208.3 514.9L208.5 514.9L208.7 514.8L208.9 515.0L209.1 514.8L209.3 515.1L209.5 514.8L209.6 514.8L209.7 515.1L209.9 514.8L210.1 515.2L210.3 514.9L210.5 515.2L210.7 514.9L210.9 515.2L211.1 515.1L211.3 515.2L211.5 514.8L211.7 515.1L211.9 515.1L212.1 515.2L212.3 515.0L212.5 515.1L212.7 515.0L212.9 515.1L213.1 514.9L213.3 515.1L213.5 515.0L213.7 515.1L213.9 515.1L214.1 515.1L214.3 514.9L214.5 515.1L214.7 515.1L214.9 515.2L215.1 515.0L215.3 515.2L215.5 515.0L215.7 515.2L215.9 515.0L216.1 515.2L216.3 514.9L216.5 515.1L216.7 514.8L216.9 515.2L217.1 515.0L217.3 515.2L217.5 514.8L217.7 515.1L217.9 514.8L218.1 515.1L218.3 515.0L218.5 515.0L218.7 515.0L218.9 515.1L219.1 515.0L219.3 515.1L219.5 514.9L219.7 515.1L219.9 515.0L220.1 515.1L220.3 514.8L220.5 515.2L220.7 515.0L220.9 515.1L221.1 515.0L221.3 515.1L221.5 514.8L221.5 515.0L221.7 515.1L221.9 514.9L222.1 515.0L222.3 514.7L222.5 515.0L222.7 514.9L222.9 515.0L223.1 514.6L223.3 515.0L223.5 514.6L223.7 514.9L223.9 514.8L224.1 514.8L224.3 514.5L224.5 514.7L224.7 514.4L224.7 514.5L224.9 514.7L225.1 514.8L225.3 514.8L225.5 514.8L225.7 514.9L225.9 514.6L226.1 515.0L226.3 514.6L226.5 515.0L226.7 514.8L226.9 515.0L227.1 514.9L227.3 515.0L227.5 515.0L227.7 515.0L227.9 515.1L228.1 515.1L228.3 515.0L228.5 515.0L228.5 515.2L228.7 515.1L228.9 515.1L229.1 515.0L229.3 515.2L229.5 515.1L229.7 515.2L229.9 515.1L230.1 515.2L230.3 515.2L230.5 515.2L230.7 515.1L230.9 515.2L231.1 515.1L231.3 515.2L231.5 515.2L231.7 515.2L231.9 515.2L232.1 515.2L232.3 515.2L232.5 515.2L232.7 515.2L232.9 515.2L233.1 515.1L233.3 515.2L233.5 515.2L233.7 515.2L233.9 515.2L234.1 515.2L234.3 515.2L234.5 515.2L234.7 515.2L234.9 515.3L235.1 515.2L235.3 515.3L235.5 515.3L235.7 515.3L235.9 515.2L236.1 515.3L236.3 515.3L236.5 515.3L236.7 515.3L236.9 515.3L237.1 515.3L237.3 515.3L237.5 515.3L237.7 515.3L237.9 515.3L238.1 515.4L238.3 515.3L238.5 515.3" stroke="#1652a3" stroke-width="1.9" fill="none" stroke-linejoin="round" clip-path="url(#cp30)"/>
<clipPath id="cp31"><rect x="289.5" y="412.0" width="174.0" height="105.10000000000002"/></clipPath>
<path d="M290.5 515.3L290.5 515.3L301.1 515.3L308.0 515.3L312.9 515.3L316.7 515.3L319.8 515.3L322.4 515.3L324.7 515.3L325.5 515.3L326.7 515.0L328.2 514.6L328.5 514.5L330.1 514.2L331.6 513.9L333.0 513.8L334.2 513.9L335.4 513.6L335.7 513.0L336.5 513.8L337.5 513.8L338.5 513.6L339.4 513.9L340.3 513.5L340.7 513.5L341.1 513.9L341.9 513.8L342.7 513.7L343.4 513.8L344.1 513.5L344.8 513.4L345.4 513.3L345.7 512.5L346.0 512.4L346.6 512.6L347.2 512.1L347.8 511.8L348.3 510.6L348.8 510.7L349.3 509.3L349.5 508.4L349.8 508.0L350.3 507.9L350.8 508.0L351.2 505.9L351.7 506.2L352.1 505.1L352.5 504.5L352.8 498.1L352.9 499.6L353.3 502.9L353.7 505.7L354.1 506.0L354.5 505.6L354.8 505.2L355.2 507.5L355.3 505.3L355.6 506.8L355.9 506.6L356.2 501.8L356.6 505.1L356.9 504.5L357.2 499.7L357.5 502.6L357.8 495.0L357.8 502.3L358.1 494.4L358.4 498.8L358.7 500.5L359.0 492.1L359.3 490.2L359.6 490.2L359.8 488.2L360.1 484.7L360.4 492.9L360.6 491.4L360.8 481.6L360.9 486.4L361.1 491.1L361.4 494.1L361.6 495.7L361.9 488.1L362.1 490.9L362.3 498.3L362.6 483.0L362.8 490.2L363.0 483.0L363.3 501.7L363.3 476.4L363.5 498.4L363.7 501.5L363.9 499.0L364.1 499.9L364.3 501.3L364.5 503.9L364.7 511.2L364.9 508.7L365.1 513.2L365.3 515.6L365.3 515.2L365.5 512.6L365.7 512.9L365.9 507.2L366.1 512.1L366.3 510.1L366.5 510.8L366.7 505.9L366.9 510.2L367.1 498.3L367.3 512.5L367.5 491.8L367.7 508.4L367.8 481.6L367.9 493.5L368.1 506.7L368.3 496.9L368.5 508.8L368.7 497.4L368.9 506.3L369.1 474.3L369.3 505.1L369.5 498.7L369.7 503.0L369.9 475.6L370.1 500.3L370.3 467.1L370.3 485.4L370.5 494.4L370.7 472.0L370.9 496.3L371.1 491.2L371.3 497.4L371.5 492.3L371.7 501.7L371.9 494.2L372.1 500.8L372.3 470.5L372.5 502.2L372.7 485.1L372.9 496.1L373.1 485.9L373.3 496.4L373.4 461.0L373.5 488.7L373.7 498.8L373.9 470.3L374.1 503.3L374.3 481.5L374.5 497.3L374.7 473.5L374.9 503.8L375.1 473.8L375.3 499.0L375.5 462.2L375.7 496.4L375.9 484.1L376.1 494.1L376.3 458.6L376.5 496.6L376.7 483.2L376.9 489.6L377.1 447.6L377.1 474.4L377.3 491.4L377.5 453.0L377.7 500.9L377.9 488.9L378.1 508.6L378.3 483.9L378.5 503.4L378.7 468.6L378.9 508.6L379.1 474.1L379.3 498.7L379.5 466.6L379.6 464.1L379.7 500.6L379.9 480.8L380.1 502.8L380.3 482.3L380.5 497.3L380.7 491.6L380.9 496.7L381.1 475.2L381.3 492.8L381.5 459.9L381.7 490.7L381.9 488.0L382.1 497.3L382.3 461.4L382.5 502.0L382.7 473.3L382.9 505.9L383.1 492.2L383.3 502.5L383.4 451.7L383.5 493.3L383.7 503.1L383.9 487.8L384.1 501.8L384.3 478.5L384.5 508.8L384.7 487.1L384.9 499.0L385.1 484.1L385.3 504.2L385.5 496.4L385.7 497.9L385.9 490.8L386.1 497.7L386.3 499.2L386.5 496.7L386.7 479.5L386.7 479.9L386.9 497.1L387.1 494.4L387.3 501.8L387.5 472.1L387.7 498.8L387.9 480.0L388.1 498.0L388.3 456.6L388.4 451.7L388.5 504.3L388.7 489.5L388.9 506.2L389.1 487.0L389.3 496.5L389.5 439.5L389.7 503.7L389.9 421.7L390.1 490.7L390.2 412.5L390.3 431.5L390.5 495.6L390.7 473.9L390.9 495.3L391.1 444.7L391.3 501.4L391.5 453.9L391.7 507.4L391.9 486.6L392.1 509.2L392.2 464.1L392.3 491.9L392.5 507.5L392.7 470.5L392.9 507.4L393.1 484.9L393.3 508.9L393.5 495.6L393.7 499.6L393.9 489.8L394.1 503.2L394.3 496.8L394.5 492.2L394.7 495.4L394.9 492.3L395.1 483.0L395.3 497.4L395.4 467.1L395.5 497.1L395.7 490.8L395.9 489.1L396.1 490.2L396.3 472.5L396.5 493.1L396.7 468.3L396.9 490.2L397.1 474.4L397.3 484.5L397.5 491.0L397.7 489.1L397.9 489.3L398.1 487.6L398.3 496.3L398.5 461.0L398.5 498.0L398.7 467.2L398.9 501.7L399.1 471.0L399.3 500.2L399.5 488.9L399.7 505.8L399.9 472.9L400.1 507.9L400.3 500.4L400.5 511.0L400.7 501.5L400.9 507.6L401.1 498.0L401.3 512.1L401.5 502.3L401.7 513.5L401.9 503.4L402.1 509.8L402.2 489.8L402.3 493.2L402.5 512.7L402.7 504.5L402.9 511.6L403.1 504.7L403.3 510.5L403.5 506.2L403.7 507.3L403.9 500.4L404.1 510.2L404.3 492.6L404.5 510.8L404.7 499.7L404.9 512.4L405.1 490.3L405.3 507.7L405.5 495.2L405.7 514.0L405.9 502.1L406.1 510.1L406.3 495.5L406.5 509.2L406.7 486.7L406.7 500.4L406.9 505.3L407.1 495.3L407.3 505.0L407.5 490.1L407.7 507.7L407.9 496.4L408.1 509.3L408.3 488.9L408.5 508.3L408.7 501.0L408.9 512.6L409.1 504.5L409.3 506.2L409.5 499.9L409.7 504.1L409.9 501.5L410.1 504.9L410.3 506.2L410.5 505.6L410.7 496.7L410.9 508.0L411.0 489.8L411.1 494.2L411.3 509.7L411.5 506.8L411.7 510.2L411.9 494.6L412.1 511.3L412.3 508.0L412.5 512.3L412.7 504.9L412.9 512.1L413.1 499.4L413.3 509.8L413.5 502.1L413.7 510.7L413.9 505.5L414.1 511.2L414.3 501.6L414.5 510.0L414.7 507.6L414.8 503.2L414.9 509.3L415.1 511.3L415.3 509.8L415.5 509.1L415.7 511.9L415.9 508.6L416.1 512.1L416.3 511.9L416.5 514.6L416.7 508.3L416.9 513.9L417.1 509.1L417.3 514.5L417.5 508.0L417.7 515.0L417.9 510.6L418.1 513.7L418.3 509.2L418.5 508.4L418.5 514.7L418.7 513.0L418.9 513.2L419.1 509.5L419.3 512.9L419.5 513.1L419.7 512.6L419.9 510.5L420.1 512.8L420.3 513.0L420.5 513.1L420.7 513.2L420.9 514.0L421.1 513.1L421.3 513.8L421.5 512.8L421.7 514.6L421.9 511.3L422.1 514.1L422.3 511.4L422.5 514.1L422.7 511.9L422.9 513.5L423.1 513.2L423.3 513.3L423.5 511.8L423.7 513.6L423.9 512.2L424.1 513.6L424.3 513.6L424.5 513.6L424.7 513.9L424.9 513.9L425.1 513.7L425.3 514.1L425.5 513.5L425.7 514.0L425.9 513.7L426.1 513.0L426.1 514.3L426.3 514.0L426.5 514.2L426.7 514.4L426.9 514.2L427.1 513.6L427.3 514.1L427.5 513.6L427.7 514.3L427.9 514.4L428.1 514.1L428.3 513.6L428.5 514.5L428.7 514.4L428.9 514.5L429.1 513.8L429.3 514.8L429.5 514.4L429.7 515.0L429.9 513.9L430.1 514.9L430.3 514.5L430.5 514.9L430.7 514.2L430.9 514.9L431.1 514.6L431.3 514.7L431.5 514.4L431.7 514.8L431.9 514.2L432.1 514.8L432.3 514.5L432.5 514.8L432.7 514.2L432.9 514.8L433.1 514.4L433.3 514.8L433.5 514.6L433.7 514.9L433.9 514.6L434.1 514.9L434.3 514.8L434.5 515.0L434.7 514.5L434.9 515.0L435.1 514.6L435.3 515.0L435.5 514.7L435.7 515.1L435.9 515.0L436.1 514.6L436.1 515.1L436.3 514.9L436.5 515.1L436.7 514.8L436.9 515.0L437.1 515.0L437.3 515.1L437.5 514.9L437.7 515.1L437.9 514.7L438.1 515.0L438.3 515.0L438.5 515.0L438.7 514.9L438.9 515.0L439.1 514.7L439.3 514.9L439.5 514.7L439.7 515.0L439.9 514.9L440.1 514.9L440.3 515.0L440.5 514.9L440.7 515.0L440.9 515.0L441.1 514.9L441.3 515.0L441.5 515.0L441.7 515.0L441.9 514.7L442.1 515.0L442.3 515.0L442.5 515.0L442.7 515.0L442.9 515.0L443.1 515.0L443.3 515.0L443.5 515.0L443.7 515.0L443.9 514.9L444.1 515.0L444.3 515.0L444.5 515.0L444.7 515.0L444.9 515.0L445.1 515.0L445.3 515.0L445.5 514.8L445.5 514.9L445.7 515.0L445.9 515.0L446.1 514.9L446.3 514.9L446.5 514.9L446.7 514.9L446.9 515.0L447.1 514.8L447.3 515.0L447.5 514.7L447.7 515.0L447.9 514.5L448.1 514.8L448.3 514.4L448.5 514.8L448.7 514.4L448.7 514.6L448.9 514.7L449.1 514.5L449.3 514.7L449.5 514.7L449.7 514.8L449.9 514.7L450.1 514.9L450.3 514.9L450.5 514.9L450.7 514.7L450.9 515.1L451.1 515.0L451.3 515.1L451.5 515.0L451.7 515.1L451.9 515.1L452.1 515.2L452.3 515.1L452.5 515.0L452.5 515.2L452.7 515.1L452.9 515.2L453.1 515.1L453.3 515.2L453.5 515.1L453.7 515.1L453.9 515.1L454.1 515.2L454.3 515.1L454.5 515.2L454.7 515.1L454.9 515.2L455.1 515.2L455.3 515.2L455.5 515.1L455.7 515.2L455.9 515.2L456.1 515.2L456.3 515.2L456.5 515.2L456.7 515.2L456.9 515.2L457.1 515.2L457.3 515.2L457.5 515.2L457.7 515.2L457.9 515.2L458.1 515.2L458.3 515.2L458.5 515.2L458.7 515.3L458.9 515.3L459.1 515.3L459.3 515.3L459.5 515.3L459.7 515.3L459.9 515.3L460.1 515.3L460.3 515.2L460.5 515.3L460.7 515.3L460.9 515.3L461.1 515.2L461.3 515.3L461.5 515.3L461.7 515.4L461.9 515.3L462.1 515.4L462.3 515.3L462.5 515.3" stroke="#1652a3" stroke-width="1.9" fill="none" stroke-linejoin="round" clip-path="url(#cp31)"/>
<clipPath id="cp32"><rect x="511.5" y="412.0" width="174.0" height="105.10000000000002"/></clipPath>
<path d="M512.5 515.4L512.5 515.4L523.1 515.4L530.0 515.4L534.9 515.4L538.7 515.4L541.8 515.4L544.4 515.4L546.7 515.4L548.7 515.4L550.5 515.4L552.1 515.4L553.6 515.4L555.0 515.4L556.2 515.4L557.4 515.4L557.5 515.4L558.5 515.2L559.5 515.1L560.5 514.9L561.4 514.8L562.3 514.6L562.7 514.6L563.1 514.5L563.9 514.4L564.7 514.3L565.4 514.2L566.1 514.1L566.8 514.0L567.4 513.9L568.0 513.8L568.6 513.8L569.2 513.7L569.8 513.6L570.2 513.5L570.3 513.8L570.8 513.3L571.3 513.2L571.8 512.5L572.3 511.5L572.8 512.2L572.8 510.4L573.2 511.9L573.7 512.9L574.1 512.9L574.5 512.5L574.9 513.0L575.3 512.8L575.7 512.9L576.1 513.1L576.5 513.0L576.5 512.5L576.8 513.0L577.2 512.1L577.6 511.1L577.9 511.0L578.2 511.0L578.6 512.4L578.9 509.7L579.2 512.0L579.5 510.0L579.8 505.3L579.8 510.1L580.1 508.3L580.4 511.4L580.7 511.4L581.0 508.1L581.3 511.6L581.6 511.4L581.8 509.4L582.1 509.8L582.4 512.0L582.6 512.6L582.8 510.4L582.9 512.4L583.1 509.9L583.4 512.5L583.6 511.9L583.9 508.2L584.1 510.3L584.3 510.2L584.6 510.5L584.8 512.5L585.0 508.8L585.3 506.5L585.5 509.1L585.7 512.3L585.9 509.9L586.1 503.2L586.1 512.0L586.3 508.2L586.5 512.3L586.7 508.7L586.9 508.2L587.1 508.7L587.3 511.8L587.5 510.0L587.7 511.5L587.9 511.4L588.1 512.3L588.3 512.1L588.5 511.8L588.7 511.8L588.9 512.4L589.1 509.4L589.1 510.1L589.3 512.2L589.5 511.9L589.7 511.8L589.9 512.3L590.1 512.3L590.3 505.9L590.5 511.6L590.7 504.4L590.9 509.2L591.1 508.2L591.3 510.1L591.5 506.2L591.7 510.6L591.9 501.9L592.1 510.1L592.3 497.0L592.3 505.0L592.5 508.2L592.7 508.8L592.9 511.0L593.1 501.5L593.3 508.7L593.5 499.1L593.7 512.4L593.9 508.3L594.1 509.4L594.3 497.3L594.5 509.2L594.7 496.1L594.8 495.0L594.9 511.8L595.1 505.9L595.3 511.9L595.5 504.9L595.7 510.1L595.9 505.6L596.1 508.0L596.3 491.0L596.5 509.4L596.7 503.0L596.9 508.3L597.1 501.6L597.3 503.2L597.4 487.8L597.5 503.5L597.7 505.8L597.9 494.7L598.1 504.7L598.3 491.6L598.5 502.5L598.7 492.5L598.9 498.8L599.1 491.1L599.3 502.4L599.5 499.4L599.7 505.2L599.9 484.7L599.9 490.3L600.1 506.8L600.3 496.0L600.5 503.8L600.7 502.0L600.9 506.0L601.1 491.7L601.3 510.6L601.5 480.5L601.6 469.2L601.7 512.5L601.9 479.8L602.1 507.8L602.3 481.5L602.5 502.9L602.7 470.1L602.9 501.4L603.1 485.6L603.3 491.6L603.5 485.7L603.7 491.9L603.9 466.4L604.1 453.7L604.1 489.7L604.3 477.6L604.5 489.7L604.7 462.5L604.9 493.5L605.1 483.5L605.3 497.0L605.5 464.4L605.7 501.6L605.9 479.9L606.1 488.5L606.3 490.4L606.5 488.0L606.7 490.3L606.9 482.2L607.1 465.3L607.2 445.5L607.3 485.4L607.5 487.7L607.7 482.8L607.9 462.3L608.1 479.7L608.3 467.1L608.5 486.6L608.7 463.2L608.9 494.4L609.1 462.1L609.3 494.2L609.5 465.9L609.7 458.9L609.7 504.5L609.9 457.5L610.1 510.4L610.3 463.1L610.5 497.4L610.7 459.0L610.9 507.5L611.1 447.1L611.3 506.5L611.5 438.5L611.7 431.1L611.7 496.0L611.9 472.2L612.1 491.7L612.3 475.7L612.5 504.8L612.7 441.4L612.9 498.9L613.1 485.9L613.3 500.2L613.5 447.3L613.7 435.2L613.7 496.8L613.9 444.1L614.1 493.7L614.3 465.1L614.5 502.6L614.7 486.3L614.9 494.4L615.1 473.9L615.3 500.9L615.4 474.4L615.5 501.3L615.7 505.5L615.9 481.2L616.1 501.1L616.3 496.3L616.5 502.6L616.7 502.4L616.9 505.9L617.1 500.1L617.3 506.4L617.5 503.0L617.7 507.7L617.9 484.7L617.9 504.2L618.1 511.0L618.3 501.0L618.5 511.0L618.7 494.3L618.9 508.2L619.1 487.0L619.3 507.8L619.5 487.4L619.7 512.8L619.9 503.0L620.1 509.0L620.3 489.9L620.5 506.7L620.7 494.0L620.9 510.6L621.0 484.7L621.1 503.8L621.3 508.8L621.5 496.8L621.7 507.4L621.9 489.8L622.1 505.6L622.3 497.1L622.5 507.1L622.7 503.3L622.9 504.7L623.1 506.6L623.3 507.1L623.5 507.2L623.7 507.0L623.9 495.1L624.1 509.3L624.3 507.1L624.5 511.7L624.7 509.1L624.9 510.2L625.0 498.1L625.1 507.1L625.3 512.1L625.5 506.5L625.7 513.2L625.9 505.3L626.1 513.4L626.3 507.1L626.5 511.1L626.7 499.3L626.9 507.5L627.1 506.5L627.3 506.3L627.5 503.9L627.7 505.3L627.9 499.6L628.1 507.5L628.3 506.0L628.5 508.1L628.7 504.3L628.9 509.0L629.1 507.0L629.2 498.1L629.3 507.4L629.5 501.6L629.7 507.2L629.9 501.6L630.1 509.9L630.3 500.9L630.5 509.6L630.7 502.6L630.9 509.8L631.1 509.6L631.3 510.5L631.5 501.4L631.7 510.2L631.9 503.4L632.1 510.3L632.3 504.1L632.5 509.4L632.7 511.1L632.9 512.6L633.0 503.2L633.1 510.9L633.3 513.2L633.5 506.1L633.7 511.9L633.9 507.3L634.1 512.5L634.3 508.3L634.5 513.3L634.7 511.8L634.9 512.7L635.1 508.5L635.3 514.4L635.5 511.4L635.7 514.1L635.9 508.9L636.1 512.8L636.3 512.0L636.5 513.9L636.7 509.7L636.9 514.1L637.1 509.5L637.3 513.6L637.5 510.9L637.7 513.2L637.9 511.1L638.0 508.4L638.1 513.2L638.3 511.4L638.5 512.9L638.7 509.0L638.9 512.6L639.1 511.1L639.3 512.3L639.5 512.7L639.7 512.8L639.9 512.4L640.1 513.0L640.3 511.7L640.5 512.9L640.7 510.4L640.9 512.7L641.1 513.3L641.3 512.9L641.5 510.4L641.7 514.1L641.9 512.5L642.1 513.9L642.3 513.2L642.5 514.6L642.7 511.3L642.9 514.5L643.1 511.8L643.3 515.0L643.5 513.2L643.7 514.8L643.9 512.2L644.1 514.9L644.3 510.8L644.5 514.4L644.7 512.8L644.9 514.6L645.1 511.8L645.3 514.5L645.5 510.4L645.5 513.0L645.7 513.8L645.9 510.7L646.1 515.0L646.3 512.9L646.5 514.3L646.7 512.9L646.9 515.2L647.1 512.0L647.3 514.2L647.5 511.5L647.7 514.5L647.9 513.9L648.1 513.7L648.3 513.9L648.5 513.7L648.7 513.3L648.9 514.2L649.1 513.1L649.3 514.2L649.5 514.1L649.7 514.3L649.9 514.2L650.1 514.6L650.3 514.3L650.5 514.5L650.7 513.5L650.9 514.8L651.1 513.5L651.3 514.6L651.5 514.2L651.7 514.7L651.9 514.5L652.1 514.8L652.3 514.7L652.5 515.0L652.7 514.6L652.9 515.0L653.1 514.1L653.1 514.4L653.3 515.2L653.5 514.4L653.7 515.2L653.9 514.7L654.1 515.0L654.3 514.9L654.5 515.1L654.7 514.7L654.9 515.0L655.1 514.5L655.3 515.0L655.5 514.9L655.7 515.2L655.9 514.8L656.1 515.1L656.3 514.9L656.5 515.3L656.7 514.7L656.9 515.2L657.1 514.6L657.3 515.0L657.5 515.0L657.7 515.0L657.9 514.6L658.1 515.0L658.3 514.6L658.5 515.0L658.7 515.0L658.9 515.0L659.1 514.7L659.3 515.0L659.5 514.9L659.7 515.0L659.9 515.1L660.1 515.1L660.3 515.0L660.5 515.1L660.7 515.1L660.9 515.1L661.1 515.1L661.3 515.2L661.5 515.1L661.7 515.2L661.9 515.0L662.1 515.3L662.3 515.2L662.5 515.3L662.7 515.3L662.9 515.4L663.1 515.1L663.1 515.2L663.3 515.4L663.5 515.3L663.7 515.4L663.9 515.1L664.1 515.3L664.3 515.2L664.5 515.3L664.7 515.2L664.9 515.3L665.1 515.3L665.3 515.3L665.5 515.2L665.7 515.3L665.9 515.3L666.1 515.3L666.3 515.3L666.5 515.3L666.7 515.3L666.9 515.3L667.1 515.2L667.3 515.4L667.5 515.3L667.7 515.4L667.9 515.3L668.1 515.4L668.3 515.2L668.5 515.3L668.7 515.3L668.9 515.3L669.1 515.3L669.3 515.4L669.5 515.3L669.7 515.3L669.9 515.3L670.1 515.4L670.3 515.3L670.5 515.3L670.7 515.3L670.9 515.3L671.1 515.2L671.3 515.4L671.5 515.2L671.7 515.4L671.9 515.3L672.1 515.3L672.3 515.2L672.5 515.3L672.7 515.3L672.9 515.3L673.1 515.3L673.3 515.3L673.5 515.3L673.7 515.3L673.9 515.3L674.1 515.3L674.3 515.3L674.5 515.4L674.7 515.3L674.9 515.4L675.1 515.3L675.3 515.4L675.5 515.3L675.7 515.4L675.9 515.3L676.1 515.4L676.3 515.3L676.5 515.4L676.7 515.4L676.9 515.4L677.1 515.3L677.3 515.4L677.5 515.3L677.7 515.4L677.9 515.3L678.1 515.4L678.3 515.4L678.5 515.4L678.7 515.4L678.9 515.4L679.1 515.3L679.3 515.4L679.5 515.4L679.7 515.4L679.9 515.3L680.1 515.4L680.3 515.4L680.5 515.4L680.7 515.4L680.9 515.4L681.1 515.4L681.3 515.4L681.5 515.4L681.7 515.4L681.9 515.4L682.1 515.4L682.3 515.4L682.5 515.4L682.7 515.4L682.9 515.4L683.1 515.4L683.3 515.4L683.5 515.4L683.7 515.4L683.9 515.4L684.1 515.4L684.3 515.4L684.5 515.4" stroke="#1652a3" stroke-width="1.9" fill="none" stroke-linejoin="round" clip-path="url(#cp32)"/>
<clipPath id="cp40"><rect x="65.5" y="545.0" width="174.0" height="105.0"/></clipPath>
<path d="M66.5 648.5L66.5 648.5L77.1 648.5L84.0 648.5L88.9 648.5L92.7 648.5L95.8 648.5L96.5 648.5L98.4 648.1L99.1 648.0L100.7 647.7L102.7 647.3L104.2 647.0L104.5 646.9L106.1 646.7L107.6 646.5L109.0 646.3L110.2 646.1L111.4 646.0L111.7 645.9L112.5 645.4L113.5 644.7L114.5 644.0L115.4 643.4L115.5 643.4L116.3 640.7L117.1 637.9L117.9 635.3L118.7 632.7L119.2 631.0L119.4 629.5L120.1 624.3L120.8 619.4L121.4 614.6L121.7 612.5L122.0 611.1L122.6 608.6L123.2 606.3L123.7 604.2L123.8 604.1L124.3 603.4L124.8 602.7L125.3 602.0L125.8 601.4L126.0 601.1L126.3 603.4L126.8 607.0L127.2 610.4L127.5 612.5L127.7 614.9L128.1 621.0L128.5 627.1L128.9 632.9L129.3 638.2L129.3 638.5L129.7 641.8L130.1 645.1L130.5 648.3L130.5 648.5L130.8 641.6L131.2 634.4L131.6 627.3L131.9 620.5L132.2 613.7L132.3 612.5L132.6 606.9L132.9 600.3L133.2 593.7L133.5 587.3L133.8 580.9L134.1 574.7L134.3 571.2L134.4 569.3L134.7 564.9L135.0 560.6L135.3 556.3L135.6 552.1L135.8 548.0L136.0 545.5L136.1 546.5L136.4 549.1L136.6 553.4L136.9 558.4L137.1 564.1L137.4 560.1L137.6 562.8L137.9 569.6L138.1 566.1L138.1 572.3L138.3 573.4L138.6 584.4L138.8 590.0L139.0 588.7L139.3 599.8L139.5 604.0L139.7 605.2L139.8 607.3L139.9 608.6L140.1 611.6L140.3 614.6L140.5 616.7L140.7 619.3L140.9 621.9L141.1 624.5L141.3 627.0L141.5 629.6L141.7 632.2L141.8 633.0L141.9 634.6L142.1 637.0L142.3 639.4L142.5 641.8L142.7 644.1L142.9 646.5L143.1 648.5L143.1 648.0L143.3 645.0L143.5 641.9L143.7 638.9L143.9 635.9L144.1 632.9L144.3 629.8L144.5 626.8L144.7 623.8L144.8 622.8L144.9 622.1L145.1 621.0L145.3 620.0L145.5 619.0L145.7 617.9L145.9 616.9L146.1 615.9L146.3 614.9L146.5 613.8L146.7 612.8L146.8 612.5L146.9 615.1L147.1 619.1L147.3 623.1L147.5 627.1L147.7 631.1L147.9 635.1L148.1 639.1L148.3 643.1L148.5 647.2L148.6 648.5L148.7 643.5L148.9 635.9L149.1 628.4L149.3 620.8L149.5 613.3L149.7 605.7L149.9 598.2L150.1 591.9L150.1 591.3L150.3 587.8L150.5 584.7L150.7 581.9L150.9 584.2L151.1 582.3L151.3 588.5L151.4 569.2L151.5 574.7L151.7 598.4L151.9 598.0L152.1 608.1L152.3 596.8L152.5 620.6L152.7 588.1L152.9 619.6L153.1 586.7L153.1 603.4L153.3 618.1L153.5 601.1L153.7 622.2L153.9 602.0L154.1 629.5L154.3 626.9L154.5 627.1L154.7 616.7L154.9 617.6L154.9 634.3L155.1 633.5L155.3 635.5L155.5 633.1L155.7 633.5L155.9 629.7L156.1 637.1L156.3 633.4L156.5 635.3L156.7 632.7L156.9 627.9L156.9 637.7L157.1 630.2L157.3 637.8L157.5 626.5L157.7 633.2L157.9 629.4L158.1 637.2L158.3 628.4L158.5 635.3L158.7 618.9L158.9 597.0L158.9 630.0L159.1 610.3L159.3 636.5L159.5 629.0L159.7 639.3L159.9 615.4L160.1 635.7L160.3 629.0L160.5 641.5L160.7 610.1L160.9 636.9L161.1 621.7L161.3 643.1L161.4 612.5L161.5 633.7L161.7 640.7L161.9 623.1L162.1 641.2L162.3 634.2L162.5 643.2L162.7 638.1L162.9 639.6L163.1 636.0L163.3 644.4L163.5 637.6L163.7 642.6L163.9 633.0L163.9 635.2L164.1 644.7L164.3 637.8L164.5 645.1L164.7 639.2L164.9 644.5L165.1 644.6L165.3 645.6L165.5 645.5L165.7 645.4L165.7 645.9L165.9 645.0L166.1 645.8L166.3 642.4L166.5 643.5L166.7 633.3L166.9 638.2L167.1 628.3L167.3 632.6L167.5 631.8L167.7 633.0L167.9 616.8L168.1 634.1L168.2 607.3L168.3 608.9L168.5 636.6L168.7 621.5L168.9 638.0L169.1 608.8L169.3 636.1L169.5 609.1L169.7 642.1L169.9 623.1L170.1 640.3L170.3 628.8L170.5 637.0L170.7 625.0L170.9 640.5L171.1 624.4L171.3 639.4L171.4 609.4L171.5 626.1L171.7 636.9L171.9 635.5L172.1 639.8L172.3 630.3L172.5 642.8L172.7 635.1L172.9 641.8L173.1 621.7L173.3 639.8L173.5 629.2L173.7 636.0L173.9 626.0L174.1 640.6L174.3 633.5L174.5 622.8L174.5 638.6L174.7 638.7L174.9 639.9L175.1 626.3L175.3 640.5L175.5 639.1L175.7 641.9L175.9 640.2L176.1 639.6L176.3 632.7L176.5 642.5L176.7 637.6L176.9 642.7L177.1 635.0L177.3 644.4L177.5 640.1L177.7 644.3L177.9 641.0L178.1 644.4L178.2 630.0L178.3 636.3L178.5 643.7L178.7 637.0L178.9 645.3L179.1 636.6L179.3 644.2L179.5 630.7L179.7 642.8L179.9 631.7L180.1 642.5L180.3 636.4L180.5 641.9L180.7 633.4L180.9 641.3L181.1 640.3L181.3 640.9L181.5 633.9L181.7 642.6L181.9 641.2L182.0 631.0L182.1 641.4L182.3 637.4L182.5 644.7L182.7 641.0L182.9 642.9L183.1 631.7L183.3 645.8L183.5 641.6L183.7 643.2L183.9 641.8L184.1 643.7L184.3 637.1L184.5 641.4L184.7 632.1L184.9 640.5L185.1 642.6L185.3 639.3L185.5 635.3L185.7 641.1L185.9 640.0L186.1 641.2L186.3 633.1L186.5 641.6L186.7 639.1L186.9 641.2L187.1 639.9L187.3 641.0L187.5 638.1L187.7 639.8L187.9 639.3L188.1 640.1L188.3 633.0L188.3 638.8L188.5 641.1L188.7 633.8L188.9 641.8L189.1 637.9L189.3 643.7L189.5 638.1L189.7 644.4L189.9 643.2L190.1 644.7L190.3 643.5L190.5 644.0L190.7 639.4L190.9 643.5L191.1 643.8L191.3 644.4L191.5 643.7L191.7 645.8L191.9 642.4L192.1 645.6L192.3 640.5L192.5 644.3L192.7 644.0L192.9 644.8L193.1 641.6L193.3 646.6L193.5 645.3L193.7 645.8L193.9 644.2L194.1 646.9L194.3 645.5L194.5 641.3L194.5 647.2L194.7 642.8L194.9 647.1L195.1 645.5L195.3 646.6L195.5 643.0L195.7 646.5L195.9 644.7L196.1 646.6L196.3 645.8L196.5 647.0L196.7 644.8L196.9 646.3L197.1 642.8L197.3 646.2L197.5 643.7L197.7 646.1L197.9 643.8L198.1 645.8L198.3 646.1L198.5 646.6L198.7 644.9L198.9 647.0L199.1 645.1L199.3 646.8L199.5 645.7L199.7 646.9L199.9 646.1L200.1 646.3L200.3 646.7L200.5 646.8L200.7 646.6L200.9 646.5L201.1 645.8L201.3 647.0L201.5 646.9L201.7 646.8L201.9 646.8L202.1 645.4L202.1 647.5L202.3 646.9L202.5 647.6L202.7 646.8L202.9 647.3L203.1 646.0L203.3 647.4L203.5 647.2L203.7 647.2L203.9 646.2L204.1 647.4L204.3 646.0L204.5 647.7L204.7 646.4L204.9 647.6L205.1 646.1L205.3 647.5L205.5 646.5L205.7 647.6L205.9 646.3L206.1 647.8L206.3 647.1L206.5 647.7L206.7 647.2L206.9 647.7L207.1 647.1L207.3 647.5L207.5 646.9L207.7 647.5L207.9 647.1L208.1 647.6L208.3 647.3L208.5 647.7L208.7 647.4L208.9 647.8L209.1 647.3L209.3 647.6L209.5 647.3L209.7 647.6L209.9 647.1L210.1 647.7L210.3 647.7L210.5 647.8L210.7 647.4L210.9 647.8L211.1 647.8L211.3 647.9L211.5 647.6L211.7 647.9L211.9 647.9L212.1 647.5L212.1 648.1L212.3 647.6L212.5 648.0L212.7 647.9L212.9 648.0L213.1 647.6L213.3 647.9L213.5 647.8L213.7 647.9L213.9 647.9L214.1 648.0L214.3 647.8L214.5 648.0L214.7 647.8L214.9 648.0L215.1 647.7L215.3 648.0L215.5 647.9L215.7 647.9L215.9 647.8L216.1 648.0L216.3 647.6L216.5 648.0L216.7 647.8L216.9 648.0L217.1 647.7L217.3 648.1L217.5 647.8L217.7 648.1L217.9 647.6L218.1 648.1L218.3 647.7L218.5 648.0L218.7 648.0L218.9 648.1L219.1 647.7L219.3 648.0L219.5 647.7L219.7 648.0L219.9 647.7L220.1 647.9L220.3 647.9L220.5 648.0L220.7 647.8L220.9 648.0L221.1 647.8L221.3 648.0L221.5 647.9L221.7 648.0L221.9 647.9L222.1 648.0L222.3 647.8L222.5 648.0L222.7 648.0L222.9 648.0L223.1 648.0L223.3 648.0L223.5 648.0L223.7 648.0L223.9 647.8L224.1 648.0L224.3 647.9L224.5 648.0L224.7 647.8L224.9 648.0L225.1 647.8L225.3 648.1L225.5 647.9L225.7 648.1L225.9 648.0L226.1 648.1L226.3 648.0L226.5 648.1L226.7 648.0L226.9 648.1L227.1 648.1L227.3 648.1L227.5 648.0L227.7 648.1L227.9 648.1L228.1 648.1L228.3 648.0L228.5 648.1L228.7 648.0L228.9 648.1L229.1 648.1L229.3 648.1L229.5 648.0L229.7 648.1L229.9 648.0L230.1 648.1L230.3 648.0L230.5 648.1L230.7 648.1L230.9 648.1L231.1 648.0L231.3 648.2L231.5 648.1L231.7 648.2L231.9 648.1L232.1 648.1L232.3 648.1L232.5 648.1L232.7 648.1L232.9 648.2L233.1 648.1L233.3 648.2L233.5 648.1L233.7 648.2L233.9 648.1L234.1 648.2L234.3 648.2L234.5 648.2L234.7 648.2L234.9 648.2L235.1 648.1L235.3 648.2L235.5 648.1L235.7 648.2L235.9 648.2L236.1 648.2L236.3 648.2L236.5 648.2L236.7 648.2L236.9 648.2L237.1 648.2L237.3 648.2L237.5 648.2L237.7 648.2L237.9 648.2L238.1 648.3L238.3 648.2L238.5 648.2" stroke="#1652a3" stroke-width="1.9" fill="none" stroke-linejoin="round" clip-path="url(#cp40)"/>
<clipPath id="cp41"><rect x="289.5" y="545.0" width="174.0" height="105.0"/></clipPath>
<path d="M290.5 648.5L290.5 648.5L301.1 648.3L308.0 648.2L312.9 648.2L316.7 648.1L319.8 648.1L322.4 648.0L324.7 648.0L325.6 648.0L326.7 647.3L328.2 646.4L328.5 646.0L330.1 643.8L331.6 641.7L331.9 641.3L333.0 640.6L334.2 639.9L335.4 639.1L336.5 638.4L336.9 638.2L337.5 636.2L338.5 633.1L339.4 630.2L339.5 630.0L340.3 628.6L341.1 627.3L341.9 626.0L342.0 625.8L342.7 627.2L343.4 628.7L344.0 630.0L344.1 630.6L344.8 634.6L345.4 638.5L345.7 640.3L346.0 641.6L346.6 644.1L347.2 646.4L347.2 646.4L347.8 637.4L348.3 628.8L348.8 620.4L349.0 617.6L349.3 611.9L349.8 603.4L350.3 595.2L350.8 588.9L350.8 586.7L351.2 584.5L351.7 576.9L352.1 571.6L352.5 561.0L352.5 567.5L352.9 564.7L353.3 562.3L353.7 569.2L354.1 564.1L354.5 567.7L354.5 553.7L354.8 560.6L355.2 568.5L355.6 568.1L355.9 568.5L356.2 569.9L356.3 561.0L356.6 568.4L356.9 566.7L357.2 560.8L357.5 566.4L357.8 568.4L358.1 559.3L358.3 552.7L358.4 561.3L358.7 566.1L359.0 555.4L359.3 559.1L359.6 557.8L359.8 556.7L360.1 550.8L360.3 546.5L360.4 561.3L360.6 564.0L360.9 556.9L361.1 562.9L361.4 569.7L361.6 568.7L361.9 577.1L362.1 571.2L362.1 580.7L362.3 584.6L362.6 588.2L362.8 590.5L363.0 593.5L363.3 596.5L363.3 591.9L363.5 599.2L363.7 594.2L363.9 596.2L364.1 589.5L364.3 588.9L364.5 585.7L364.6 564.0L364.7 593.4L364.9 586.7L365.1 603.2L365.3 611.1L365.5 625.6L365.7 621.1L365.8 622.8L365.9 627.9L366.1 623.0L366.3 627.3L366.5 622.4L366.7 628.0L366.9 621.6L367.1 622.0L367.3 620.2L367.5 623.3L367.7 618.7L367.8 602.1L367.9 612.7L368.1 616.5L368.3 616.9L368.5 617.8L368.7 604.9L368.9 614.8L369.1 612.7L369.3 620.2L369.5 616.6L369.7 615.6L369.9 598.5L370.1 620.2L370.3 611.7L370.5 619.7L370.7 600.8L370.8 584.6L370.9 620.0L371.1 593.8L371.3 620.8L371.5 604.7L371.7 617.3L371.9 594.8L372.1 620.4L372.3 587.4L372.5 621.9L372.7 598.2L372.9 617.2L373.1 609.7L373.3 624.5L373.4 586.7L373.5 615.5L373.7 620.7L373.9 585.9L374.1 616.5L374.3 600.0L374.5 619.5L374.7 598.7L374.9 609.8L375.1 579.8L375.3 616.3L375.5 578.3L375.7 611.4L375.9 561.0L375.9 581.8L376.1 609.9L376.3 597.1L376.5 615.7L376.7 605.7L376.9 612.6L377.1 618.3L377.3 618.1L377.5 616.2L377.7 627.7L377.9 628.6L378.1 632.1L378.3 637.7L378.4 627.9L378.5 636.6L378.7 634.2L378.9 637.9L379.1 633.2L379.3 638.5L379.5 641.2L379.7 640.5L379.9 636.8L380.1 641.5L380.3 641.2L380.4 638.2L380.5 643.4L380.7 641.1L380.9 645.5L381.1 646.0L381.3 647.3L381.5 648.0L381.6 648.5L381.7 646.6L381.9 643.3L382.1 641.5L382.3 636.0L382.5 638.1L382.7 628.6L382.9 612.5L382.9 633.5L383.1 626.0L383.3 628.7L383.5 611.5L383.7 626.3L383.9 591.9L383.9 616.0L384.1 627.2L384.3 608.9L384.5 625.5L384.7 622.0L384.9 617.6L384.9 631.1L385.1 634.1L385.3 638.3L385.5 635.4L385.7 643.1L385.9 638.2L385.9 641.7L386.1 645.6L386.3 644.1L386.5 646.6L386.7 641.9L386.9 646.4L387.1 644.9L387.2 643.4L387.3 644.1L387.5 639.4L387.7 639.9L387.9 623.8L388.1 634.0L388.3 629.7L388.4 609.4L388.5 629.1L388.7 624.2L388.9 627.0L389.1 627.4L389.2 604.2L389.3 626.1L389.5 616.0L389.7 633.0L389.9 636.6L390.1 640.0L390.2 633.0L390.3 635.9L390.5 643.1L390.7 642.5L390.9 638.2L390.9 645.1L391.1 634.1L391.3 641.9L391.5 627.8L391.7 637.9L391.9 621.3L392.1 633.0L392.2 602.1L392.3 604.8L392.5 630.4L392.7 622.4L392.9 612.5L392.9 632.5L393.1 629.4L393.3 635.6L393.5 633.8L393.7 643.2L393.9 643.4L393.9 644.8L394.1 646.0L394.3 645.6L394.5 646.0L394.7 645.5L394.9 646.7L395.1 647.2L395.3 647.2L395.4 646.4L395.5 646.3L395.7 644.2L395.9 639.7L396.1 641.6L396.3 638.6L396.5 637.8L396.7 625.9L396.9 635.9L397.1 630.1L397.2 617.6L397.3 635.4L397.5 627.0L397.7 635.5L397.9 626.1L398.1 636.4L398.3 627.8L398.5 632.3L398.7 627.7L398.9 631.5L399.0 604.2L399.1 612.6L399.3 635.2L399.5 628.5L399.7 635.3L399.9 630.3L400.0 627.9L400.1 637.5L400.3 628.9L400.5 638.4L400.7 634.5L400.9 637.2L401.0 617.6L401.1 633.5L401.3 635.4L401.5 617.0L401.7 630.5L401.9 618.8L402.1 627.2L402.2 607.3L402.3 630.1L402.5 629.5L402.7 624.4L402.9 637.9L403.1 631.2L403.3 641.3L403.5 633.0L403.5 635.4L403.7 643.2L403.9 641.9L404.1 646.2L404.3 637.0L404.5 645.7L404.7 640.8L404.9 641.3L405.1 626.9L405.3 642.4L405.5 631.2L405.7 641.1L405.9 639.2L406.0 622.8L406.1 636.9L406.3 628.3L406.5 637.4L406.7 637.2L406.9 639.3L407.1 626.8L407.3 641.0L407.5 638.4L407.7 639.0L407.9 635.9L408.1 640.2L408.3 633.0L408.5 627.9L408.5 644.6L408.7 638.4L408.9 645.2L409.1 631.1L409.3 643.6L409.5 636.1L409.7 641.1L409.9 641.8L410.1 641.5L410.3 631.4L410.5 630.0L410.5 642.6L410.7 635.2L410.9 644.2L411.1 632.4L411.3 644.7L411.5 638.2L411.7 644.2L411.9 635.5L412.1 647.1L412.3 636.3L412.5 645.6L412.7 642.3L412.9 646.8L413.1 640.3L413.3 645.9L413.5 636.1L413.5 642.6L413.7 645.3L413.9 643.6L414.1 644.6L414.3 640.3L414.5 644.2L414.7 641.3L414.9 643.3L415.1 638.3L415.3 643.2L415.5 641.2L415.7 644.8L415.9 642.0L416.0 638.2L416.1 645.6L416.3 644.0L416.5 646.2L416.7 641.8L416.9 646.7L417.1 643.9L417.3 646.2L417.5 643.9L417.7 645.5L417.9 644.0L418.1 644.9L418.3 643.3L418.5 644.5L418.7 643.8L418.9 645.0L419.1 644.2L419.3 645.0L419.5 643.8L419.7 646.1L419.9 645.7L420.1 645.5L420.3 642.6L420.5 646.9L420.7 642.6L420.9 647.1L421.1 642.3L421.1 646.0L421.3 647.2L421.5 644.5L421.7 646.4L421.9 644.5L422.1 647.2L422.3 645.9L422.5 646.8L422.7 645.9L422.9 646.9L423.1 645.5L423.3 646.6L423.5 643.5L423.7 646.2L423.9 645.7L424.1 646.2L424.3 644.9L424.5 646.4L424.7 645.8L424.9 646.1L425.1 646.0L425.3 646.5L425.5 645.1L425.7 646.8L425.9 646.6L426.1 646.9L426.3 644.6L426.5 646.7L426.7 646.4L426.9 647.0L427.1 646.4L427.3 646.6L427.5 645.2L427.7 646.4L427.9 645.6L428.1 646.6L428.3 646.8L428.5 646.8L428.7 646.3L428.9 647.0L429.1 645.7L429.3 647.4L429.5 646.6L429.7 647.5L429.9 646.8L430.1 647.7L430.3 647.1L430.5 647.4L430.7 647.3L430.9 647.7L431.1 646.4L431.1 647.4L431.3 647.5L431.5 647.2L431.7 647.6L431.9 647.4L432.1 647.6L432.3 646.8L432.5 647.8L432.7 647.4L432.9 647.8L433.1 647.2L433.3 647.6L433.5 647.0L433.7 647.6L433.9 646.7L434.1 647.5L434.3 647.1L434.5 647.5L434.7 646.8L434.9 647.4L435.1 647.0L435.3 647.7L435.5 646.7L435.7 647.7L435.9 647.2L436.1 647.7L436.3 647.2L436.5 647.8L436.7 647.0L436.9 647.7L437.1 647.2L437.3 647.6L437.5 646.9L437.7 647.8L437.9 647.5L438.1 647.7L438.3 647.0L438.5 647.6L438.7 647.1L438.9 647.5L439.1 647.1L439.3 647.5L439.5 647.2L439.7 647.5L439.9 647.5L440.1 647.6L440.3 647.0L440.5 647.6L440.7 647.3L440.9 647.6L441.1 647.5L441.3 647.7L441.5 647.6L441.7 647.8L441.9 647.2L442.1 647.8L442.3 647.2L442.5 647.8L442.7 647.2L442.9 647.8L443.1 647.4L443.3 647.7L443.5 647.2L443.7 647.6L443.9 647.4L444.1 647.6L444.3 647.5L444.5 647.6L444.7 647.7L444.9 647.6L445.1 647.3L445.3 647.7L445.5 647.7L445.7 647.8L445.9 647.6L446.1 647.8L446.3 647.5L446.5 647.6L446.7 647.4L446.9 647.7L447.1 647.7L447.3 647.7L447.5 647.4L447.7 647.8L447.9 647.6L448.1 647.8L448.3 647.5L448.5 647.8L448.7 647.7L448.9 647.9L449.1 647.7L449.3 647.9L449.5 647.8L449.7 647.9L449.9 647.8L450.1 647.8L450.3 647.8L450.5 647.8L450.7 647.6L450.9 647.9L451.1 647.7L451.3 647.9L451.5 647.6L451.7 647.9L451.9 647.7L452.1 647.9L452.3 647.6L452.5 647.9L452.7 647.8L452.9 647.9L453.1 647.9L453.3 647.9L453.5 647.9L453.7 648.0L453.9 647.9L454.1 647.9L454.3 647.9L454.5 648.0L454.7 647.8L454.9 648.0L455.1 647.9L455.3 648.0L455.5 647.9L455.7 648.1L455.9 648.0L456.1 648.1L456.3 648.0L456.5 648.1L456.7 647.9L456.9 648.1L457.1 648.0L457.3 648.1L457.5 648.0L457.7 648.1L457.9 648.0L458.1 648.1L458.3 648.1L458.5 648.1L458.7 648.1L458.9 648.1L459.1 648.0L459.3 648.1L459.5 648.1L459.7 648.1L459.9 648.1L460.1 648.2L460.3 648.1L460.5 648.2L460.7 648.1L460.9 648.2L461.1 648.2L461.3 648.2L461.5 648.2L461.7 648.2L461.9 648.2L462.1 648.3L462.3 648.2L462.5 648.2" stroke="#1652a3" stroke-width="1.9" fill="none" stroke-linejoin="round" clip-path="url(#cp41)"/>
<clipPath id="cp42"><rect x="511.5" y="545.0" width="174.0" height="105.0"/></clipPath>
<path d="M512.5 648.5L512.5 648.5L523.1 648.3L530.0 648.2L534.9 648.2L538.7 648.1L541.8 648.1L544.4 648.0L546.7 648.0L547.6 648.0L548.7 647.5L550.5 646.8L551.4 646.4L552.1 645.7L553.6 644.1L555.0 642.6L555.2 642.3L556.2 640.0L557.4 637.4L558.5 635.0L558.9 634.1L559.5 632.2L560.5 629.3L561.4 626.5L562.3 623.9L562.7 622.8L563.1 620.8L563.9 617.1L564.7 613.6L565.4 610.3L566.1 607.1L566.5 605.2L566.8 604.4L567.4 602.2L568.0 600.2L568.6 598.2L569.0 597.0L569.2 595.3L569.8 590.7L570.3 586.3L570.8 582.0L571.3 577.8L571.5 576.4L571.8 574.8L572.3 572.4L572.8 572.3L573.2 573.7L573.7 572.1L574.0 564.0L574.1 572.7L574.5 570.3L574.9 568.8L575.3 571.7L575.7 574.1L575.8 571.2L576.1 574.5L576.5 574.3L576.8 569.5L577.2 572.7L577.3 566.1L577.6 569.5L577.9 577.8L578.2 578.9L578.6 582.9L578.9 586.3L579.0 586.7L579.2 584.2L579.5 579.6L579.8 578.4L580.1 574.4L580.4 569.4L580.7 564.5L580.8 562.0L581.0 572.1L581.3 571.6L581.6 576.4L581.8 575.4L582.1 579.1L582.4 582.6L582.6 585.0L582.8 586.7L582.9 586.3L583.1 583.5L583.4 583.5L583.6 581.0L583.9 576.3L584.1 576.4L584.3 576.6L584.6 573.0L584.6 568.2L584.8 571.8L585.0 570.2L585.3 561.4L585.5 557.4L585.7 566.7L585.9 562.6L586.1 569.0L586.3 546.5L586.3 565.0L586.5 578.5L586.7 566.3L586.9 577.7L587.1 596.8L587.3 597.9L587.5 593.0L587.7 608.2L587.8 586.7L587.9 602.9L588.1 616.8L588.3 611.1L588.5 629.6L588.7 617.1L588.9 626.0L589.1 629.2L589.3 627.9L589.5 626.7L589.6 617.6L589.7 633.4L589.9 632.5L590.1 631.2L590.3 617.3L590.5 631.9L590.7 608.3L590.9 631.8L591.1 602.1L591.1 616.8L591.3 629.9L591.5 631.4L591.7 634.7L591.9 620.5L592.1 634.9L592.3 630.2L592.5 637.4L592.7 639.3L592.8 638.2L592.9 637.1L593.1 636.5L593.3 631.3L593.5 625.2L593.7 623.1L593.9 611.7L594.1 611.4L594.3 599.3L594.5 613.5L594.7 561.0L594.7 568.2L594.9 620.7L595.1 592.7L595.3 624.8L595.4 555.8L595.5 585.8L595.7 629.4L595.9 577.4L596.1 576.4L596.1 625.4L596.3 599.7L596.5 624.8L596.7 596.7L596.9 628.5L597.1 608.5L597.3 629.8L597.4 612.5L597.5 631.4L597.7 623.2L597.9 596.1L598.1 621.8L598.3 606.8L598.5 625.7L598.7 561.0L598.7 571.7L598.9 620.7L599.1 565.6L599.3 629.3L599.4 555.8L599.5 580.8L599.7 631.4L599.9 574.2L600.1 576.4L600.1 627.8L600.3 614.8L600.5 625.7L600.7 624.1L600.9 636.9L601.1 625.8L601.3 634.2L601.5 620.6L601.6 612.5L601.7 637.3L601.9 614.9L602.1 635.6L602.3 625.8L602.5 636.9L602.7 624.9L602.9 632.2L603.1 592.8L603.3 625.0L603.4 581.5L603.5 583.8L603.7 622.7L603.9 582.0L604.1 574.3L604.1 626.4L604.3 596.6L604.5 620.8L604.7 613.2L604.9 597.0L604.9 626.4L605.1 620.1L605.3 628.3L605.5 612.4L605.7 633.5L605.9 623.3L606.1 640.4L606.3 633.1L606.5 641.5L606.6 638.2L606.7 635.9L606.9 641.1L607.1 634.6L607.3 642.1L607.5 632.7L607.7 637.0L607.9 616.7L608.0 586.7L608.1 636.0L608.3 622.2L608.5 628.0L608.7 581.5L608.7 618.0L608.9 628.5L609.1 628.6L609.3 631.7L609.5 602.1L609.5 616.2L609.7 639.8L609.9 633.3L610.1 639.1L610.3 616.9L610.5 637.4L610.7 623.8L610.9 622.8L610.9 640.4L611.1 627.8L611.3 629.8L611.5 628.9L611.7 627.4L611.9 616.7L612.1 622.6L612.3 608.6L612.5 628.4L612.7 576.4L612.7 596.6L612.9 631.0L613.1 597.1L613.3 629.2L613.4 571.2L613.5 619.4L613.7 635.4L613.9 605.7L614.1 630.6L614.2 597.0L614.3 617.7L614.5 640.6L614.7 615.7L614.9 639.4L615.1 615.5L615.3 640.2L615.5 634.8L615.7 643.8L615.9 627.9L615.9 637.4L616.1 643.6L616.3 635.5L616.5 641.4L616.7 632.4L616.9 642.4L617.1 620.1L617.3 635.1L617.5 624.1L617.7 638.6L617.9 616.2L618.1 632.0L618.3 610.4L618.5 591.9L618.5 625.1L618.7 618.0L618.9 624.1L619.1 618.8L619.2 586.7L619.3 632.0L619.5 619.4L619.7 633.0L619.9 599.1L620.1 626.0L620.3 603.1L620.5 627.7L620.7 627.8L620.9 626.9L621.0 607.3L621.1 622.7L621.3 625.9L621.5 629.7L621.7 620.0L621.9 629.9L622.1 621.4L622.3 626.6L622.5 616.9L622.7 619.9L622.8 584.6L622.9 614.0L623.1 622.6L623.3 615.7L623.5 578.5L623.5 605.1L623.7 620.6L623.9 626.4L624.1 623.9L624.3 597.0L624.3 600.5L624.5 628.6L624.7 617.6L624.9 624.8L625.1 624.0L625.3 628.8L625.5 632.4L625.7 625.5L625.9 631.1L626.0 607.3L626.1 629.2L626.3 618.1L626.5 634.1L626.7 629.4L626.9 637.3L627.1 616.8L627.3 641.5L627.5 613.1L627.7 641.0L627.9 627.4L628.1 644.1L628.3 619.0L628.5 640.5L628.7 625.8L628.9 646.2L629.1 623.7L629.2 617.6L629.3 642.9L629.5 619.0L629.7 645.3L629.9 622.1L630.1 645.9L630.3 634.3L630.5 645.6L630.7 637.5L630.9 646.3L631.1 638.4L631.3 646.9L631.5 630.9L631.7 646.9L631.9 627.6L632.1 644.0L632.3 632.2L632.5 625.8L632.5 642.6L632.7 632.6L632.9 644.8L633.1 635.1L633.3 641.0L633.5 636.7L633.7 637.7L633.9 633.3L634.1 636.3L634.3 636.9L634.5 637.9L634.7 635.8L634.9 642.0L635.1 631.2L635.3 644.3L635.5 640.4L635.7 645.1L635.9 641.0L636.1 645.1L636.3 634.6L636.5 643.6L636.7 641.8L636.8 630.0L636.9 641.5L637.1 642.0L637.3 643.0L637.5 631.8L637.7 643.2L637.9 642.8L638.1 642.1L638.3 641.2L638.5 643.6L638.7 637.8L638.9 643.7L639.1 635.3L639.3 644.7L639.5 642.9L639.7 645.5L639.9 638.7L640.1 645.3L640.3 641.2L640.5 647.0L640.7 641.0L640.9 646.0L641.1 640.5L641.3 646.0L641.5 642.2L641.7 646.8L641.8 640.3L641.9 644.5L642.1 645.4L642.3 644.1L642.5 646.5L642.7 642.3L642.9 646.0L643.1 642.2L643.3 645.3L643.5 642.9L643.7 645.8L643.9 644.1L644.1 644.7L644.3 644.8L644.5 644.8L644.7 643.6L644.9 645.0L645.1 644.5L645.3 645.2L645.5 643.4L645.7 645.3L645.9 643.9L646.1 646.6L646.3 643.5L646.5 646.9L646.7 645.5L646.9 647.2L647.1 644.6L647.3 647.4L647.5 646.1L647.7 647.0L647.9 645.7L648.1 646.9L648.3 645.3L648.5 646.2L648.7 645.8L648.9 646.6L649.1 645.3L649.3 644.4L649.3 647.0L649.5 645.6L649.7 647.1L649.9 645.9L650.1 647.1L650.3 646.5L650.5 646.8L650.7 646.7L650.9 646.8L651.1 646.4L651.3 647.5L651.5 645.5L651.7 647.7L651.9 646.7L652.1 647.1L652.3 646.3L652.5 647.3L652.7 646.5L652.9 647.0L653.1 646.3L653.3 647.0L653.5 646.4L653.7 646.9L653.9 646.1L654.1 647.4L654.3 646.6L654.5 647.4L654.7 646.3L654.9 647.3L655.1 646.1L655.3 647.4L655.5 646.6L655.7 647.5L655.9 646.8L656.1 647.6L656.3 646.7L656.5 647.4L656.7 647.4L656.9 647.7L657.1 646.8L657.3 647.6L657.5 647.1L657.7 647.8L657.9 647.2L658.1 647.0L658.1 647.9L658.3 647.0L658.5 647.9L658.7 647.3L658.9 647.9L659.1 647.4L659.3 647.8L659.5 647.3L659.7 647.8L659.9 647.4L660.1 647.6L660.3 647.1L660.5 647.7L660.7 647.6L660.9 647.8L661.1 647.1L661.3 647.7L661.5 647.2L661.7 647.8L661.9 647.7L662.1 647.8L662.3 647.6L662.5 647.8L662.7 647.4L662.9 647.8L663.1 647.3L663.3 647.8L663.5 647.7L663.7 647.8L663.9 647.5L664.1 647.9L664.3 647.7L664.5 647.9L664.7 647.6L664.9 647.9L665.1 647.3L665.3 647.8L665.5 647.5L665.7 647.8L665.9 647.3L666.1 647.9L666.3 647.8L666.5 647.8L666.7 647.4L666.9 647.7L667.1 647.7L667.3 647.8L667.5 647.4L667.7 647.7L667.9 647.5L668.1 647.8L668.3 647.8L668.5 647.8L668.7 647.5L668.9 647.9L669.1 647.6L669.3 648.0L669.5 647.6L669.7 648.0L669.9 647.6L670.1 648.0L670.3 647.8L670.5 647.9L670.7 647.8L670.9 647.9L671.1 647.8L671.3 647.9L671.5 647.7L671.7 647.9L671.9 647.6L672.1 647.9L672.3 647.7L672.5 647.9L672.7 647.8L672.9 648.0L673.1 647.8L673.3 648.0L673.5 647.9L673.7 648.0L673.9 647.9L674.1 648.0L674.3 647.9L674.5 648.0L674.7 647.9L674.9 648.0L675.1 648.0L675.3 648.0L675.5 647.9L675.7 648.0L675.9 647.9L676.1 648.0L676.3 647.8L676.5 648.1L676.7 647.9L676.9 648.0L677.1 648.0L677.3 648.1L677.5 648.0L677.7 648.0L677.9 648.0L678.1 648.1L678.3 647.9L678.5 648.1L678.7 648.0L678.9 648.1L679.1 648.0L679.3 648.1L679.5 648.1L679.7 648.1L679.9 648.0L680.1 648.1L680.3 648.0L680.5 648.1L680.7 648.1L680.9 648.1L681.1 648.1L681.3 648.1L681.5 648.1L681.7 648.2L681.9 648.2L682.1 648.2L682.3 648.1L682.5 648.2L682.7 648.2L682.9 648.2L683.1 648.2L683.3 648.2L683.5 648.2L683.7 648.2L683.9 648.2L684.1 648.2L684.3 648.2L684.5 648.2" stroke="#1652a3" stroke-width="1.9" fill="none" stroke-linejoin="round" clip-path="url(#cp42)"/>
<text x="63.0" y="23.7" text-anchor="end" class="tk">2.0</text>
<text x="63.0" y="74.8" text-anchor="end" class="tk">1.0</text>
<text x="63.0" y="127.9" text-anchor="end" class="tk">0</text>
<text x="67.0" y="17.8" class="tk">×10<tspan dy="-5.2">-3</tspan></text>
<text x="287.0" y="24.7" text-anchor="end" class="tk">1.5</text>
<text x="287.0" y="59.2" text-anchor="end" class="tk">1.0</text>
<text x="287.0" y="93.5" text-anchor="end" class="tk">0.5</text>
<text x="287.0" y="127.8" text-anchor="end" class="tk">0</text>
<text x="291.0" y="17.8" class="tk">×10<tspan dy="-5.2">-3</tspan></text>
<text x="509.0" y="23.7" text-anchor="end" class="tk">1.5</text>
<text x="509.0" y="58.7" text-anchor="end" class="tk">1.0</text>
<text x="509.0" y="92.3" text-anchor="end" class="tk">0.5</text>
<text x="509.0" y="127.9" text-anchor="end" class="tk">0</text>
<text x="513.0" y="17.8" class="tk">×10<tspan dy="-5.2">-3</tspan></text>
<text x="63.0" y="154.0" text-anchor="end" class="tk">6.0</text>
<text x="63.0" y="189.5" text-anchor="end" class="tk">4.0</text>
<text x="63.0" y="220.0" text-anchor="end" class="tk">2.0</text>
<text x="63.0" y="251.5" text-anchor="end" class="tk">0</text>
<text x="67.0" y="149.1" class="tk">×10<tspan dy="-5.2">-4</tspan></text>
<text x="287.0" y="154.6" text-anchor="end" class="tk">1.0</text>
<text x="287.0" y="206.6" text-anchor="end" class="tk">0.5</text>
<text x="287.0" y="258.5" text-anchor="end" class="tk">0</text>
<text x="291.0" y="149.1" class="tk">×10<tspan dy="-5.2">-3</tspan></text>
<text x="509.0" y="155.0" text-anchor="end" class="tk">6.0</text>
<text x="509.0" y="190.5" text-anchor="end" class="tk">4.0</text>
<text x="509.0" y="223.7" text-anchor="end" class="tk">2.0</text>
<text x="509.0" y="258.8" text-anchor="end" class="tk">0</text>
<text x="513.0" y="149.1" class="tk">×10<tspan dy="-5.2">-4</tspan></text>
<text x="63.0" y="287.0" text-anchor="end" class="tk">4.0</text>
<text x="63.0" y="334.9" text-anchor="end" class="tk">2.0</text>
<text x="63.0" y="388.8" text-anchor="end" class="tk">0</text>
<text x="67.0" y="280.9" class="tk">×10<tspan dy="-5.2">-4</tspan></text>
<text x="287.0" y="286.6" text-anchor="end" class="tk">6.0</text>
<text x="287.0" y="321.9" text-anchor="end" class="tk">4.0</text>
<text x="287.0" y="355.4" text-anchor="end" class="tk">2.0</text>
<text x="287.0" y="388.8" text-anchor="end" class="tk">0</text>
<text x="291.0" y="280.9" class="tk">×10<tspan dy="-5.2">-4</tspan></text>
<text x="509.0" y="287.0" text-anchor="end" class="tk">2.0</text>
<text x="509.0" y="343.5" text-anchor="end" class="tk">1.0</text>
<text x="509.0" y="388.8" text-anchor="end" class="tk">0</text>
<text x="513.0" y="280.9" class="tk">×10<tspan dy="-5.2">-4</tspan></text>
<text x="63.0" y="417.7" text-anchor="end" class="tk">3.0</text>
<text x="63.0" y="453.3" text-anchor="end" class="tk">2.0</text>
<text x="63.0" y="487.3" text-anchor="end" class="tk">1.0</text>
<text x="63.0" y="520.3" text-anchor="end" class="tk">0</text>
<text x="67.0" y="412.2" class="tk">×10<tspan dy="-5.2">-4</tspan></text>
<text x="287.0" y="423.7" text-anchor="end" class="tk">3.0</text>
<text x="287.0" y="456.7" text-anchor="end" class="tk">2.0</text>
<text x="287.0" y="488.6" text-anchor="end" class="tk">1.0</text>
<text x="287.0" y="519.8" text-anchor="end" class="tk">0</text>
<text x="291.0" y="412.2" class="tk">×10<tspan dy="-5.2">-4</tspan></text>
<text x="509.0" y="418.0" text-anchor="end" class="tk">2.0</text>
<text x="509.0" y="470.0" text-anchor="end" class="tk">1.0</text>
<text x="509.0" y="519.8" text-anchor="end" class="tk">0</text>
<text x="513.0" y="412.2" class="tk">×10<tspan dy="-5.2">-4</tspan></text>
<text x="63.0" y="552.4" text-anchor="end" class="tk">1.5</text>
<text x="63.0" y="586.1" text-anchor="end" class="tk">1.0</text>
<text x="63.0" y="620.3" text-anchor="end" class="tk">0.5</text>
<text x="63.0" y="653.3" text-anchor="end" class="tk">0</text>
<text x="67.0" y="545.0" class="tk">×10<tspan dy="-5.2">-4</tspan></text>
<text x="287.0" y="551.1" text-anchor="end" class="tk">1.0</text>
<text x="287.0" y="609.2" text-anchor="end" class="tk">0.5</text>
<text x="287.0" y="653.3" text-anchor="end" class="tk">0</text>
<text x="291.0" y="545.0" class="tk">×10<tspan dy="-5.2">-4</tspan></text>
<text x="509.0" y="551.1" text-anchor="end" class="tk">1.0</text>
<text x="509.0" y="602.6" text-anchor="end" class="tk">0.5</text>
<text x="509.0" y="653.3" text-anchor="end" class="tk">0</text>
<text x="513.0" y="545.0" class="tk">×10<tspan dy="-5.2">-4</tspan></text>
<text x="153.5" y="13.5" text-anchor="middle" class="bd">E-W</text>
<text x="377.5" y="13.5" text-anchor="middle" class="bd">N-S</text>
<text x="599.5" y="13.5" text-anchor="middle" class="bd">U-D</text>
<text transform="translate(16.1 68.0) rotate(-90)" text-anchor="middle" class="bd">NPW</text>
<text transform="translate(34 59.6) rotate(-90)" text-anchor="middle" class="bd" style="font-size:15.3px">Fourier Amplitude</text>
<text transform="translate(16.1 200.0) rotate(-90)" text-anchor="middle" class="bd">NGU</text>
<text transform="translate(34 194.8) rotate(-90)" text-anchor="middle" class="bd" style="font-size:15.3px">Fourier Amplitude</text>
<text transform="translate(16.1 331.4) rotate(-90)" text-anchor="middle" class="bd">YGN</text>
<text transform="translate(34 330.3) rotate(-90)" text-anchor="middle" class="bd" style="font-size:15.3px">Fourier Amplitude</text>
<text transform="translate(16.1 461.9) rotate(-90)" text-anchor="middle" class="bd">KTN</text>
<text transform="translate(34 459.8) rotate(-90)" text-anchor="middle" class="bd" style="font-size:15.3px">Fourier Amplitude</text>
<text transform="translate(16.1 592.4) rotate(-90)" text-anchor="middle" class="bd">CHTO</text>
<text transform="translate(34 597.7) rotate(-90)" text-anchor="middle" class="bd" style="font-size:15.3px">Fourier Amplitude</text>
<text x="81.9" y="665.6" class="tk">10<tspan dy="-4.7">-2</tspan></text>
<text x="161.7" y="665.6" class="tk">10<tspan dy="-4.7">0</tspan></text>
<text x="159.5" y="678.7" text-anchor="middle" class="bd">Frequency (Hz)</text>
<text x="305.9" y="665.6" class="tk">10<tspan dy="-4.7">-2</tspan></text>
<text x="385.7" y="665.6" class="tk">10<tspan dy="-4.7">0</tspan></text>
<text x="383.5" y="678.7" text-anchor="middle" class="bd">Frequency (Hz)</text>
<text x="527.9" y="665.6" class="tk">10<tspan dy="-4.7">-2</tspan></text>
<text x="607.7" y="665.6" class="tk">10<tspan dy="-4.7">0</tspan></text>
<text x="605.5" y="678.7" text-anchor="middle" class="bd">Frequency (Hz)</text>
<circle cx="4.6" cy="679" r="2.8" fill="#8b8f99"/>
</svg></body></html>
